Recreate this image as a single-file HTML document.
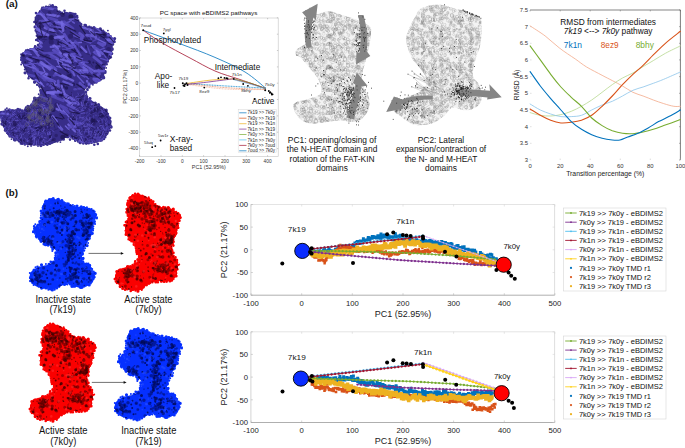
<!DOCTYPE html>
<html><head><meta charset="utf-8"><title>Figure</title>
<style>html,body{margin:0;padding:0;background:#fff;}body{width:685px;height:448px;overflow:hidden;}svg{display:block;}</style>
</head><body>
<svg width="685" height="448" viewBox="0 0 685 448" font-family='"Liberation Sans", sans-serif'>
<rect width="685" height="448" fill="#fff"/>
<text x="5.80" y="6.80" font-size="9.9" fill="#111" font-weight="bold">(a)</text>
<defs><clipPath id="cpP"><path d="M35.0,18.0 C35.8,15.2 38.2,11.9 40.0,10.0 C41.8,8.1 43.7,7.3 45.5,6.6 C47.3,5.9 49.4,5.8 51.0,5.8 C52.6,5.8 53.8,5.7 55.0,6.6 C56.2,7.5 56.9,9.9 58.0,11.0 C59.1,12.1 60.2,13.0 61.5,13.3 C62.8,13.6 64.4,12.8 66.0,12.7 C67.6,12.6 69.5,12.4 71.0,12.7 C72.5,13.0 73.7,13.1 75.0,14.5 C76.3,15.9 77.6,19.0 78.7,20.9 C79.8,22.8 79.9,24.7 81.6,25.6 C83.3,26.6 86.2,26.1 89.0,26.6 C91.8,27.1 95.4,27.3 98.7,28.5 C102.0,29.7 106.5,32.1 109.0,34.0 C111.5,35.9 113.2,37.9 113.9,39.8 C114.6,41.7 113.4,42.6 112.9,45.5 C112.4,48.4 112.2,53.8 111.0,57.0 C109.8,60.2 107.2,61.3 106.0,64.5 C104.8,67.7 104.9,73.2 104.0,76.0 C103.1,78.8 103.0,79.4 100.5,81.0 C98.0,82.6 91.7,84.0 89.0,85.7 C86.3,87.4 84.8,89.5 84.5,91.4 C84.2,93.3 85.6,95.1 87.3,97.0 C89.0,98.9 91.8,100.6 94.9,102.8 C98.0,105.0 103.5,107.5 106.0,110.0 C108.5,112.5 109.2,115.4 110.0,118.0 C110.8,120.6 111.7,122.3 111.0,125.5 C110.3,128.7 108.4,134.2 106.0,137.0 C103.6,139.8 100.2,141.5 96.8,142.6 C93.4,143.7 88.9,143.9 85.4,143.6 C81.9,143.3 78.8,141.8 75.9,140.7 C73.1,139.6 70.8,137.0 68.3,137.0 C65.8,137.0 63.9,139.4 60.7,140.7 C57.5,141.9 53.1,143.7 49.3,144.5 C45.5,145.3 42.1,145.5 38.0,145.5 C33.9,145.5 28.2,145.3 24.7,144.5 C21.2,143.7 19.9,142.3 17.0,140.7 C14.2,139.1 10.0,137.5 7.6,135.0 C5.2,132.5 4.1,128.7 2.8,125.5 C1.5,122.3 0.1,118.2 0.0,116.0 C-0.1,113.8 0.6,113.1 1.9,112.0 C3.2,110.9 5.1,109.7 7.6,109.4 C10.1,109.1 14.5,109.6 17.0,110.0 C19.5,110.4 20.9,112.6 22.8,112.0 C24.7,111.4 26.3,108.9 28.5,106.6 C30.7,104.3 33.8,99.9 36.0,98.0 C38.2,96.1 40.9,96.7 41.7,95.0 C42.5,93.3 42.1,90.1 40.8,87.6 C39.5,85.1 36.0,81.9 34.0,80.0 C31.9,78.1 30.4,78.6 28.5,76.0 C26.6,73.4 24.1,67.7 22.8,64.5 C21.5,61.3 20.9,58.9 20.9,57.0 C20.9,55.1 21.5,54.3 22.8,53.0 C24.1,51.7 25.7,50.5 28.5,49.3 C31.3,48.0 38.0,47.4 39.5,45.5 C41.0,43.6 38.2,41.1 37.5,38.0 C36.8,34.9 35.9,29.9 35.5,26.6 C35.1,23.3 34.2,20.8 35.0,18.0Z"/></clipPath></defs>
<path d="M35.0,18.0 C35.8,15.2 38.2,11.9 40.0,10.0 C41.8,8.1 43.7,7.3 45.5,6.6 C47.3,5.9 49.4,5.8 51.0,5.8 C52.6,5.8 53.8,5.7 55.0,6.6 C56.2,7.5 56.9,9.9 58.0,11.0 C59.1,12.1 60.2,13.0 61.5,13.3 C62.8,13.6 64.4,12.8 66.0,12.7 C67.6,12.6 69.5,12.4 71.0,12.7 C72.5,13.0 73.7,13.1 75.0,14.5 C76.3,15.9 77.6,19.0 78.7,20.9 C79.8,22.8 79.9,24.7 81.6,25.6 C83.3,26.6 86.2,26.1 89.0,26.6 C91.8,27.1 95.4,27.3 98.7,28.5 C102.0,29.7 106.5,32.1 109.0,34.0 C111.5,35.9 113.2,37.9 113.9,39.8 C114.6,41.7 113.4,42.6 112.9,45.5 C112.4,48.4 112.2,53.8 111.0,57.0 C109.8,60.2 107.2,61.3 106.0,64.5 C104.8,67.7 104.9,73.2 104.0,76.0 C103.1,78.8 103.0,79.4 100.5,81.0 C98.0,82.6 91.7,84.0 89.0,85.7 C86.3,87.4 84.8,89.5 84.5,91.4 C84.2,93.3 85.6,95.1 87.3,97.0 C89.0,98.9 91.8,100.6 94.9,102.8 C98.0,105.0 103.5,107.5 106.0,110.0 C108.5,112.5 109.2,115.4 110.0,118.0 C110.8,120.6 111.7,122.3 111.0,125.5 C110.3,128.7 108.4,134.2 106.0,137.0 C103.6,139.8 100.2,141.5 96.8,142.6 C93.4,143.7 88.9,143.9 85.4,143.6 C81.9,143.3 78.8,141.8 75.9,140.7 C73.1,139.6 70.8,137.0 68.3,137.0 C65.8,137.0 63.9,139.4 60.7,140.7 C57.5,141.9 53.1,143.7 49.3,144.5 C45.5,145.3 42.1,145.5 38.0,145.5 C33.9,145.5 28.2,145.3 24.7,144.5 C21.2,143.7 19.9,142.3 17.0,140.7 C14.2,139.1 10.0,137.5 7.6,135.0 C5.2,132.5 4.1,128.7 2.8,125.5 C1.5,122.3 0.1,118.2 0.0,116.0 C-0.1,113.8 0.6,113.1 1.9,112.0 C3.2,110.9 5.1,109.7 7.6,109.4 C10.1,109.1 14.5,109.6 17.0,110.0 C19.5,110.4 20.9,112.6 22.8,112.0 C24.7,111.4 26.3,108.9 28.5,106.6 C30.7,104.3 33.8,99.9 36.0,98.0 C38.2,96.1 40.9,96.7 41.7,95.0 C42.5,93.3 42.1,90.1 40.8,87.6 C39.5,85.1 36.0,81.9 34.0,80.0 C31.9,78.1 30.4,78.6 28.5,76.0 C26.6,73.4 24.1,67.7 22.8,64.5 C21.5,61.3 20.9,58.9 20.9,57.0 C20.9,55.1 21.5,54.3 22.8,53.0 C24.1,51.7 25.7,50.5 28.5,49.3 C31.3,48.0 38.0,47.4 39.5,45.5 C41.0,43.6 38.2,41.1 37.5,38.0 C36.8,34.9 35.9,29.9 35.5,26.6 C35.1,23.3 34.2,20.8 35.0,18.0Z" fill="#372d88"/>
<path fill="none" stroke="#3a3090" stroke-width="1.90" stroke-linecap="round" d="M37.1 16.4h0M39.6 12.2h0M40.1 11.0h0M41.6 8.8h0M42.0 7.5h0M43.4 7.1h0M47.0 7.1h0M50.5 6.6h0M50.3 6.5h0M51.0 5.6h0M58.6 11.6h0M60.1 12.1h0M64.6 12.7h0M71.1 13.3h0M78.5 20.3h0M77.6 21.0h0M80.5 23.5h0M91.1 27.2h0M94.4 27.6h0M107.9 30.6h0M110.8 35.9h0M113.7 40.6h0M112.5 49.9h0M110.0 58.0h0M107.8 58.9h0M106.2 67.9h0M100.3 80.2h0M101.2 79.0h0M94.7 82.9h0M92.9 84.7h0M87.7 90.2h0M83.7 93.5h0M86.4 94.3h0M89.8 98.0h0M99.4 105.5h0M103.6 109.0h0M108.2 113.8h0M108.8 117.4h0M109.2 120.3h0M107.5 133.8h0M105.5 137.4h0M100.2 140.8h0M75.4 140.9h0M72.5 138.8h0M68.2 137.4h0M60.4 142.1h0M57.6 141.8h0M54.0 141.5h0M51.7 143.2h0M38.0 146.0h0M31.1 145.9h0M27.8 146.2h0M11.5 139.1h0M7.6 133.2h0M1.4 120.8h0M3.1 112.8h0M3.1 111.5h0M4.4 111.8h0M5.3 109.5h0M6.9 108.3h0M21.8 110.6h0M24.4 110.8h0M34.0 99.9h0M38.7 94.3h0M40.7 92.3h0M39.9 87.7h0M28.8 76.2h0M24.7 69.6h0M21.2 64.5h0M22.3 54.8h0M22.9 53.6h0M27.4 49.7h0M28.5 49.9h0M39.8 43.3h0M36.2 24.9h0"/>
<path fill="none" stroke="#3a3090" stroke-width="2.60" stroke-linecap="round" d="M35.8 17.7h0M36.0 13.1h0M46.0 6.9h0M52.6 5.4h0M52.2 6.8h0M54.6 8.0h0M54.9 8.5h0M59.4 12.3h0M61.1 13.9h0M61.9 12.7h0M64.5 10.7h0M67.1 13.5h0M69.9 13.0h0M73.8 14.0h0M75.4 14.0h0M77.1 16.0h0M77.3 17.6h0M79.3 22.5h0M84.6 25.0h0M86.4 26.9h0M89.3 26.7h0M103.1 30.7h0M108.3 34.1h0M110.2 37.1h0M111.4 43.9h0M113.0 44.5h0M110.9 57.2h0M107.7 61.4h0M106.7 64.3h0M105.3 71.3h0M96.3 82.5h0M89.2 85.3h0M87.3 89.4h0M85.8 96.6h0M90.3 98.6h0M109.8 123.9h0M110.4 125.5h0M110.0 130.5h0M97.8 143.9h0M94.3 144.8h0M91.5 142.8h0M86.2 143.6h0M83.3 143.5h0M78.1 141.5h0M75.2 140.6h0M70.0 139.6h0M67.1 137.0h0M63.7 139.4h0M49.9 143.8h0M47.3 144.7h0M43.5 144.8h0M34.0 144.5h0M24.9 144.5h0M20.9 143.5h0M15.4 140.2h0M9.1 134.8h0M5.0 130.4h0M2.8 117.9h0M0.6 115.5h0M0.3 114.6h0M13.1 110.7h0M26.0 107.5h0M31.8 104.5h0M37.6 98.6h0M40.5 95.5h0M37.2 84.7h0M34.4 82.2h0M33.5 79.1h0M28.5 78.2h0M25.2 66.6h0M22.4 62.6h0M21.5 60.0h0M21.4 57.5h0M21.4 54.5h0M23.5 53.3h0M26.0 50.6h0M35.1 46.4h0M36.2 40.0h0M36.9 35.8h0M34.4 22.0h0M36.0 20.1h0"/>
<path fill="none" stroke="#3a3090" stroke-width="3.30" stroke-linecap="round" d="M47.7 7.6h0M55.8 7.4h0M56.2 10.2h0M59.2 12.0h0M66.1 13.4h0M67.4 14.3h0M72.0 13.9h0M73.9 14.5h0M79.4 24.0h0M80.9 24.5h0M85.5 25.3h0M93.9 27.6h0M100.3 28.8h0M100.5 30.7h0M114.6 38.6h0M113.1 40.7h0M114.2 41.7h0M112.2 48.9h0M111.7 53.6h0M105.0 72.4h0M103.4 77.0h0M103.7 77.8h0M102.3 77.6h0M89.0 87.0h0M85.6 92.2h0M86.7 96.7h0M91.4 102.2h0M95.2 103.1h0M98.5 104.7h0M106.2 110.2h0M106.0 111.9h0M109.8 118.1h0M110.1 121.4h0M111.1 127.0h0M103.7 138.7h0M101.3 140.2h0M88.5 142.9h0M80.2 142.7h0M61.5 139.2h0M40.9 145.6h0M22.3 143.4h0M19.3 140.9h0M14.5 139.8h0M9.9 136.0h0M4.9 126.5h0M3.9 125.3h0M1.9 124.0h0M-0.1 116.2h0M1.1 112.5h0M9.4 110.0h0M15.6 111.0h0M17.9 109.3h0M18.2 109.6h0M19.9 110.0h0M22.3 110.9h0M25.4 109.6h0M27.9 106.5h0M33.8 101.6h0M34.6 98.2h0M41.6 95.2h0M41.3 92.9h0M40.7 90.4h0M39.6 86.0h0M34.7 82.1h0M32.1 77.8h0M25.1 72.8h0M21.8 59.4h0M25.8 52.9h0M30.7 49.6h0M35.4 47.4h0M38.3 45.1h0M38.5 40.6h0M38.1 38.6h0M37.1 32.2h0M36.1 30.4h0M35.1 26.9h0"/>
<g clip-path="url(#cpP)">
<path fill="none" stroke="#1c1550" stroke-width="2.00" stroke-linecap="round" opacity="0.45" d="M15.9 32.7h0M10.3 53.6h0M10.4 39.2h0M29.4 85.4h0M101.1 110.5h0M47.0 63.6h0M59.7 58.4h0M38.5 14.5h0M31.6 141.0h0M14.3 76.1h0M71.7 126.3h0M24.6 43.7h0M28.3 61.6h0M50.8 139.1h0M96.7 127.7h0M2.5 10.3h0M80.8 130.9h0M53.9 87.8h0M0.0 60.5h0M105.6 121.1h0M97.4 141.6h0M28.3 21.0h0M17.6 78.8h0M77.7 137.3h0M82.2 96.2h0M87.1 69.7h0M62.8 11.3h0M89.1 38.3h0M104.8 96.0h0M34.6 23.7h0M28.7 94.7h0M79.6 21.5h0M8.0 79.1h0M66.4 60.0h0M25.5 89.8h0M1.2 47.9h0M52.5 139.8h0M73.4 129.3h0M54.1 38.6h0M28.1 140.0h0M80.3 48.7h0M2.5 75.4h0M76.8 64.5h0M29.3 99.0h0M105.4 37.5h0M3.9 53.0h0M47.9 101.2h0M22.6 117.1h0M84.2 76.3h0M23.4 141.3h0"/>
<path fill="none" stroke="#1c1550" stroke-width="3.50" stroke-linecap="round" opacity="0.45" d="M35.5 120.4h0M26.3 36.7h0M86.6 47.0h0M108.4 75.1h0M21.3 37.0h0M47.5 98.7h0M108.1 26.2h0M44.8 35.5h0M111.0 25.6h0M5.9 14.2h0M44.8 131.3h0M100.6 108.2h0M113.6 135.9h0M37.5 31.7h0M106.6 110.1h0M3.6 98.6h0M43.1 58.0h0M37.8 29.4h0M0.3 44.9h0M40.0 139.3h0M14.1 140.5h0M23.6 55.6h0M93.6 120.6h0M49.3 12.7h0M53.9 57.9h0M104.7 32.8h0M41.5 131.1h0M3.4 63.2h0M92.5 112.9h0M4.6 10.7h0M7.1 134.3h0M29.3 110.2h0M102.3 53.2h0M31.0 139.6h0M70.3 42.4h0M81.6 50.0h0M31.4 6.3h0M86.1 133.8h0M72.2 137.6h0M2.8 38.5h0M54.1 139.5h0M108.7 59.8h0M28.6 65.9h0M56.2 135.5h0M20.8 117.9h0M84.1 120.7h0M88.0 90.6h0M37.3 50.4h0M41.2 115.1h0M9.0 33.4h0"/>
<path fill="none" stroke="#1c1550" stroke-width="5.00" stroke-linecap="round" opacity="0.45" d="M85.8 40.3h0M7.4 10.5h0M62.9 51.3h0M111.7 129.2h0M112.5 42.8h0M9.6 19.3h0M56.8 105.0h0M50.9 38.5h0M47.5 92.5h0M76.8 110.3h0M96.5 98.6h0M13.8 123.3h0M33.5 85.0h0M42.5 108.9h0M22.7 40.4h0M27.9 27.2h0M100.7 86.6h0M37.2 61.1h0M113.0 76.7h0M26.4 118.7h0M74.4 144.2h0M11.7 72.1h0M93.3 123.2h0M104.1 11.4h0M33.4 22.5h0M21.6 141.7h0M66.4 135.7h0M42.4 126.8h0M51.2 42.1h0M88.6 137.9h0M12.0 89.1h0M70.6 36.2h0M42.0 25.5h0M23.2 41.4h0M68.3 96.8h0M23.2 7.4h0M37.3 100.6h0M21.1 49.4h0M23.2 116.9h0M62.4 14.6h0M11.5 61.0h0M62.7 95.1h0M10.4 28.7h0M79.2 63.0h0M32.3 48.8h0M108.6 49.4h0M64.5 55.7h0M47.4 126.5h0M113.5 56.6h0M22.5 107.5h0"/>
<path fill="none" stroke="#1c1550" stroke-width="2.00" stroke-linecap="round" opacity="0.75" d="M23.2 6.6h0M102.7 65.0h0M93.4 62.5h0M100.6 70.2h0M18.5 7.9h0M62.8 95.3h0M103.6 18.2h0M70.9 57.6h0M57.5 26.2h0M32.3 78.6h0M105.4 21.0h0M55.9 118.2h0M110.1 33.4h0M14.4 137.5h0M111.1 73.2h0M6.1 135.2h0M44.2 132.1h0M70.7 121.0h0M18.3 115.6h0M25.3 62.3h0M96.4 121.6h0M20.8 36.3h0M45.5 78.1h0M43.7 23.0h0M28.1 107.1h0M102.2 11.5h0M64.1 111.6h0M4.3 122.9h0M13.4 89.6h0M62.7 93.4h0M34.9 64.5h0M66.4 65.3h0M75.0 68.2h0M49.9 9.1h0M70.5 74.2h0M26.8 112.5h0M88.8 69.8h0M20.5 71.9h0M12.2 23.7h0M49.0 18.6h0M50.3 77.1h0M4.6 94.7h0M9.4 108.3h0M88.6 77.3h0M6.2 76.2h0M43.0 138.6h0M15.5 125.5h0M113.5 108.1h0M92.8 32.9h0M111.8 74.5h0"/>
<path fill="none" stroke="#1c1550" stroke-width="3.50" stroke-linecap="round" opacity="0.75" d="M109.0 133.8h0M18.8 115.9h0M106.0 15.0h0M40.0 111.4h0M18.1 131.0h0M31.3 119.7h0M16.4 76.0h0M104.8 34.9h0M29.9 76.5h0M36.3 10.9h0M20.7 28.3h0M106.7 100.8h0M102.0 29.4h0M89.4 21.9h0M60.4 94.7h0M41.0 127.8h0M63.2 86.8h0M100.5 20.4h0M113.1 93.8h0M44.9 117.2h0M30.2 144.2h0M65.8 56.1h0M87.1 67.6h0M20.1 109.7h0M5.5 120.3h0M28.9 95.1h0M112.1 87.6h0M75.6 49.5h0M0.2 10.5h0M17.0 91.9h0M49.2 77.4h0M102.0 24.2h0M25.9 97.0h0M2.5 6.2h0M40.4 20.7h0M40.7 37.1h0M66.5 88.1h0M23.3 93.0h0M54.1 24.6h0M106.7 39.8h0M17.0 19.2h0M72.7 127.5h0M89.1 62.0h0M30.1 7.4h0M73.5 84.4h0M39.9 96.0h0M50.5 136.7h0M83.5 40.5h0M102.9 11.9h0M60.5 62.5h0"/>
<path fill="none" stroke="#1c1550" stroke-width="5.00" stroke-linecap="round" opacity="0.75" d="M27.1 14.0h0M88.7 7.5h0M62.8 137.2h0M16.2 33.7h0M69.3 76.6h0M73.1 119.4h0M19.9 49.0h0M34.2 12.6h0M101.3 115.2h0M81.5 6.7h0M96.2 109.9h0M53.0 109.4h0M51.5 37.4h0M12.0 38.3h0M4.4 52.7h0M85.4 102.9h0M96.3 105.2h0M30.3 83.2h0M49.7 115.9h0M59.6 42.9h0M73.1 140.6h0M24.7 128.7h0M1.7 42.2h0M26.9 109.7h0M107.6 110.0h0M37.2 128.8h0M37.4 39.2h0M103.4 93.9h0M78.9 98.7h0M111.5 71.4h0M95.6 103.3h0M97.7 66.9h0M82.5 85.5h0M35.1 35.4h0M70.9 16.7h0M103.7 26.0h0M3.1 20.7h0M105.8 54.0h0M16.2 9.8h0M4.7 102.6h0M72.2 103.2h0M83.9 15.0h0M67.3 56.6h0M93.1 120.3h0M101.5 15.0h0M98.8 133.5h0M107.6 20.8h0M23.4 21.4h0M3.9 124.2h0M92.5 94.4h0"/>
<path fill="none" stroke="#6a5ed6" stroke-width="1.4" stroke-linecap="round" opacity="0.85" d="M29.2,19.8L32.2,24.7M32.9,65.0L35.7,68.2M25.5,45.3L31.8,48.0M109.6,76.2L121.2,77.7M68.5,10.1L79.4,11.6M59.0,36.1L67.9,43.7M15.3,6.0L25.2,14.0M-4.5,74.4L-0.7,81.9M89.7,31.6L101.1,33.1M28.7,35.8L37.8,40.7M54.2,21.2L64.5,25.3M69.7,55.5L76.8,58.2M-2.0,34.6L5.8,38.1M22.8,70.2L25.0,78.7M71.8,54.5L82.6,58.8M15.2,67.1L23.6,74.0M63.9,23.4L69.8,21.7M17.8,47.9L25.8,54.4M95.3,27.4L100.8,31.6M57.1,28.3L62.3,32.9M81.6,20.0L87.5,24.6M82.2,66.6L87.4,69.1M70.9,20.7L74.4,23.1M77.4,75.7L83.8,83.0M50.1,25.6L60.6,27.5M103.0,65.9L111.8,68.2"/>
<path fill="none" stroke="#6a5ed6" stroke-width="2.2" stroke-linecap="round" opacity="0.85" d="M84.1,64.6L94.1,71.1M71.3,69.2L74.4,75.3M69.7,19.5L80.1,18.5M69.9,40.7L75.2,46.4M49.1,92.6L61.5,92.7M16.8,97.2L24.4,105.1M41.2,74.2L48.6,79.2M106.8,78.3L111.2,80.6M63.3,81.4L72.3,85.1M93.6,78.7L101.3,79.0M107.7,35.1L118.0,38.7M37.3,13.7L43.7,14.6M42.5,7.7L52.7,9.1M36.9,42.8L41.5,46.7M57.7,36.4L62.5,39.8M50.8,84.3L56.8,85.1M109.6,55.1L120.9,55.5M50.7,46.9L59.6,46.4M26.8,58.3L31.8,61.0M-4.7,106.6L-0.6,111.7M24.1,48.0L33.8,48.8M73.4,56.4L84.0,62.8M96.6,13.8L103.6,22.3M70.3,7.9L74.3,6.9M24.7,20.0L33.4,26.7M36.2,27.1L45.4,35.0"/>
<path fill="none" stroke="#6a5ed6" stroke-width="2.8" stroke-linecap="round" opacity="0.85" d="M89.1,29.3L96.0,37.9M18.5,102.6L27.1,104.0M83.2,67.1L87.4,71.9M22.8,25.3L31.2,26.6M2.0,71.1L8.1,76.9M59.2,126.3L61.9,129.4M95.0,71.2L106.5,70.8M39.6,64.3L51.8,67.7M4.0,94.8L12.6,98.7M55.7,73.5L66.7,78.4M-1.0,106.1L10.4,109.0M38.5,72.1L47.0,74.2M86.6,35.2L95.5,36.3M93.3,46.7L102.4,53.6M43.0,76.2L54.6,81.5M34.3,50.1L38.3,55.5M64.7,94.5L73.9,99.6M100.3,82.0L104.4,83.6M30.7,6.7L37.3,13.5M103.2,91.3L105.8,100.4M69.5,103.1L75.4,103.2M74.3,69.8L85.0,71.5M7.1,31.1L12.2,42.2M73.0,57.3L82.1,64.2M88.5,84.3L95.5,87.9M32.9,66.0L39.6,73.1"/>
<path fill="none" stroke="#5f53c9" stroke-width="1.4" stroke-linecap="round" opacity="0.85" d="M106.0,13.4L110.7,15.4M91.3,86.2L102.4,91.4M48.1,7.8L60.5,9.0M111.6,72.2L116.9,77.9M7.1,95.8L10.7,98.0M-4.4,101.3L-0.5,104.6M109.9,18.1L113.3,20.6M80.5,39.6L90.5,43.2M17.3,12.8L27.1,19.2M81.8,17.6L91.4,16.5M79.3,70.1L88.5,78.8M80.3,7.4L84.1,8.9M4.5,49.3L15.0,54.5M52.8,14.2L59.9,16.0M63.4,67.1L73.7,71.4M38.2,95.9L47.4,98.7M44.7,59.7L53.2,66.8M62.4,46.6L66.6,44.8M93.4,52.2L104.2,48.3M66.5,48.9L74.2,47.6M100.6,58.4L112.2,61.8M91.0,45.4L95.0,45.4M26.3,64.8L38.2,63.4M63.0,44.1L74.6,45.5M103.6,54.3L110.5,63.1M105.8,38.5L112.8,44.9"/>
<path fill="none" stroke="#5f53c9" stroke-width="2.2" stroke-linecap="round" opacity="0.85" d="M75.6,70.8L84.6,76.6M89.1,70.0L92.6,73.4M22.7,86.8L26.4,94.6M51.7,88.1L57.4,88.2M17.9,31.0L26.3,34.4M42.9,78.1L48.1,78.8M39.5,20.6L44.9,20.8M66.0,54.0L74.7,53.9M-2.6,10.5L0.0,18.5M62.4,42.3L72.4,47.1M109.6,41.3L113.7,45.1M4.9,12.9L12.6,17.6M98.5,69.8L99.8,74.2M66.1,61.3L71.1,62.4M109.1,41.7L121.7,41.5M74.6,60.7L82.4,62.9M112.9,36.8L118.0,41.8M94.5,12.4L103.9,18.3M112.2,13.6L120.1,23.2M75.5,47.5L80.5,55.4M85.1,20.5L89.9,22.3M52.2,29.4L56.7,33.6M12.0,100.5L14.6,105.6M-0.7,135.4L4.4,138.5M100.7,25.3L112.4,29.3M48.8,53.3L58.5,59.2"/>
<path fill="none" stroke="#5f53c9" stroke-width="2.8" stroke-linecap="round" opacity="0.85" d="M51.8,93.6L55.3,96.3M79.9,83.1L83.9,86.5M98.5,43.0L104.7,44.9M94.8,52.5L99.4,55.7M53.4,50.2L63.6,57.9M74.5,35.3L82.2,38.4M29.0,41.8L39.7,49.1M6.6,46.2L14.7,55.2M-3.1,118.5L0.6,120.0M94.0,79.4L98.4,82.9M21.0,85.6L29.7,92.2M79.6,33.3L83.3,36.2M5.4,90.8L11.2,91.9M67.8,104.7L77.8,110.1M64.3,34.1L68.1,40.8M80.8,13.5L89.2,21.1M97.8,74.7L99.8,82.7M98.7,43.0L103.5,46.1M93.9,57.1L101.2,63.0M-4.4,78.4L1.1,84.2M56.3,22.7L67.5,26.5M108.4,74.9L116.9,73.2M58.1,80.9L58.6,86.9M16.7,20.1L21.8,23.8M92.2,10.0L95.4,14.8M-2.9,89.5L3.3,96.3"/>
<path fill="none" stroke="#7468e0" stroke-width="1.4" stroke-linecap="round" opacity="0.85" d="M57.2,104.0L61.8,113.3M0.4,23.0L5.2,29.9M54.5,44.9L58.3,48.5M65.4,126.1L69.2,129.8M63.1,110.1L71.3,119.5M41.2,64.5L46.4,74.9M57.5,61.1L60.6,67.4M23.6,52.6L31.3,54.6M95.8,13.3L106.8,7.6M24.6,64.8L33.6,68.4M38.3,80.0L43.9,86.4M-2.5,25.3L7.5,33.1M70.3,118.9L72.3,122.7M71.3,42.9L81.4,42.5M27.5,81.6L31.1,86.7M56.9,66.4L69.1,69.4M29.2,48.5L37.9,51.9M108.7,77.6L114.7,79.7M50.5,80.4L54.7,83.3M29.9,62.6L35.2,66.6M23.9,18.1L33.2,16.0M62.8,96.7L68.4,98.2M79.5,70.2L87.7,70.1M31.9,39.6L37.6,41.6M55.9,59.3L62.4,62.4M97.5,39.1L105.6,43.1"/>
<path fill="none" stroke="#7468e0" stroke-width="2.2" stroke-linecap="round" opacity="0.85" d="M53.4,45.6L61.0,53.5M13.9,15.1L24.4,20.4M47.3,14.5L57.8,16.3M8.0,37.3L17.2,45.9M82.8,27.4L92.4,30.4M68.3,124.5L76.3,132.7M56.6,109.0L64.0,112.7M103.8,23.6L115.4,21.7M-4.5,112.8L8.1,114.1M63.0,64.2L73.7,67.0M98.8,90.6L106.8,92.1M81.0,46.7L86.3,52.0M61.0,59.5L72.5,61.8M54.4,67.8L57.0,72.9M31.1,26.1L35.9,26.2M104.4,51.0L115.6,54.0M19.3,65.4L23.1,67.6M62.2,75.3L73.2,80.7M87.0,81.0L92.0,88.1M76.5,60.2L82.9,63.6M65.7,54.8L70.2,62.4M6.8,58.1L14.0,60.4M61.7,86.0L64.7,93.8M47.3,93.1L60.1,90.6M35.8,79.9L41.5,83.6M55.9,21.2L67.5,24.5"/>
<path fill="none" stroke="#7468e0" stroke-width="2.8" stroke-linecap="round" opacity="0.85" d="M45.0,27.6L53.0,30.8M17.4,31.3L23.1,39.1M66.7,55.1L69.0,58.9M31.5,102.3L35.1,104.1M64.7,99.1L71.9,104.5M26.6,96.2L32.0,103.1M113.6,86.1L118.7,87.8M85.3,20.7L89.4,23.4M15.3,78.8L23.7,86.2M2.4,7.5L13.3,7.7M37.1,29.5L47.9,35.0M64.2,54.5L70.6,59.5M40.9,13.4L48.9,23.2M47.3,92.4L53.4,93.5M96.6,49.8L99.9,55.6M66.6,139.9L75.1,140.5M107.9,39.7L113.9,39.8M52.6,116.5L56.5,121.3M15.6,55.9L19.8,61.0M61.8,21.8L63.0,30.6M40.8,62.1L49.8,69.2M36.8,40.0L41.6,43.1M28.7,38.9L32.3,45.0M6.0,43.5L15.4,50.1M10.2,67.7L13.8,71.8M55.0,37.6L63.1,36.7"/>
<path fill="none" stroke="#5348b8" stroke-width="1.4" stroke-linecap="round" opacity="0.85" d="M64.9,57.2L70.0,60.0M98.7,23.0L103.3,30.3M59.5,43.6L68.0,48.7M62.5,49.2L70.0,50.1M5.2,30.5L12.9,36.9M8.0,84.3L15.0,85.9M54.5,47.3L58.7,51.6M28.6,62.2L38.5,69.3M97.4,24.3L106.4,28.9M73.9,54.9L80.3,59.1M36.9,93.6L47.2,100.2M-0.2,11.4L4.1,14.7M18.6,48.1L24.8,50.8M70.9,30.9L80.7,37.1M62.8,105.9L71.8,110.6M36.5,5.9L43.7,14.9M87.3,45.8L90.6,54.7M0.6,40.0L4.5,43.1M89.1,35.2L91.5,39.3M77.6,60.8L88.2,62.5M93.5,45.1L95.8,52.6M69.7,69.1L72.2,72.8M78.0,65.6L82.8,63.7M85.6,11.9L95.0,16.1M90.8,42.3L99.4,37.8M59.7,40.7L64.1,41.6"/>
<path fill="none" stroke="#5348b8" stroke-width="2.2" stroke-linecap="round" opacity="0.85" d="M37.5,63.3L41.9,66.2M23.3,39.6L29.3,45.8M36.8,47.6L44.0,53.1M60.2,112.0L65.4,113.9M74.3,89.4L85.6,87.8M8.6,46.2L14.4,50.6M19.5,14.2L28.9,18.6M48.3,21.6L53.4,26.2M50.7,56.5L54.2,58.7M111.5,84.5L115.6,87.4M53.1,66.5L56.3,69.0M69.6,136.5L75.5,144.4M24.9,40.2L34.3,45.9M94.8,47.2L99.6,50.2M70.9,123.9L79.3,131.1M33.8,31.6L44.4,35.9M33.1,57.3L44.4,58.9M23.5,11.6L31.9,14.9M69.7,120.3L81.8,123.5M53.8,75.6L58.9,73.9M30.6,87.0L33.6,91.6M5.7,11.4L11.4,16.9M-4.7,123.3L0.2,129.4M28.7,98.2L37.3,97.8M45.1,53.1L56.5,52.7M102.5,28.8L107.6,33.1"/>
<path fill="none" stroke="#5348b8" stroke-width="2.8" stroke-linecap="round" opacity="0.85" d="M47.7,84.5L52.2,86.1M33.5,70.1L43.3,78.3M68.7,119.1L73.6,127.2M30.3,85.6L39.9,93.7M52.2,96.2L63.3,100.7M-1.7,32.2L5.2,39.6M48.2,17.7L57.0,20.4M44.5,79.8L53.5,81.4M42.1,21.8L48.2,28.4M25.1,19.1L28.2,27.3M24.9,74.2L33.8,76.2M8.4,77.5L17.0,81.1M4.5,62.8L12.2,71.7M60.5,105.6L68.9,112.4M80.8,20.1L85.1,23.5M109.1,84.5L120.0,86.1M1.8,38.9L10.3,42.9M20.3,47.7L29.2,53.0M68.9,127.6L80.2,124.1M9.6,57.9L20.1,59.6M0.2,90.2L7.3,98.8M75.3,41.4L79.4,45.4M64.1,21.7L72.9,28.7M17.0,83.2L22.8,86.5M76.7,59.0L81.7,66.3M107.8,7.7L111.0,14.1"/>
<path fill="none" stroke="#5a4fc0" stroke-width="0.7" stroke-linecap="round" d="M7.8,125.1L10.9,121.9M1.8,111.0L3.5,107.3M20.4,123.9L22.9,127.7M20.5,141.4L18.7,140.0M17.1,112.5L20.1,110.2M2.3,110.5L0.1,113.1M30.0,120.1L28.8,121.7M30.1,117.7L33.5,118.1M51.3,105.0L53.7,108.2M14.2,115.0L11.4,115.0M29.6,126.2L34.4,124.9M1.8,127.7L2.4,123.1M40.3,130.9L38.2,128.5M14.6,138.0L18.0,134.5M35.4,116.4L35.8,112.2M26.5,130.9L24.3,133.9M21.1,105.7L19.6,108.2M51.4,124.2L49.6,126.2M12.2,118.4L13.5,119.9M45.3,122.9L41.8,124.2M15.7,110.4L18.4,111.6M16.0,135.0L11.5,133.4M17.7,143.5L15.8,142.4M9.3,128.5L12.4,128.3M40.3,121.8L41.8,120.2M25.2,142.6L24.7,145.3M1.2,110.2L0.7,114.3M11.4,120.6L12.5,124.2M44.9,131.5L46.3,135.5M50.1,129.4L54.0,131.6M45.5,118.0L47.2,120.0M27.9,141.5L24.9,137.8M11.0,117.4L11.0,113.4M21.1,132.9L19.9,134.7M21.5,105.0L19.4,102.9M25.7,129.3L25.6,132.7M0.7,143.7L-3.9,141.8M2.9,130.0L2.4,127.1M4.9,109.9L7.5,113.2M4.7,138.8L1.5,140.5M30.6,127.4L28.5,124.2M17.2,135.6L17.0,139.7M39.7,137.1L38.1,141.2M50.8,122.9L50.2,126.5M48.9,108.8L52.4,109.0M34.1,137.1L30.9,140.8M11.9,136.3L13.6,137.4M7.0,105.6L3.3,105.6M9.5,144.3L7.8,146.2M9.2,135.5L11.4,134.3M1.5,137.2L1.7,142.2M25.9,131.0L23.5,134.6M23.9,117.2L25.8,115.9M38.1,105.9L36.2,103.3M44.9,105.6L42.0,104.4M47.8,144.6L45.9,142.7M13.1,114.5L10.6,115.6M10.6,136.4L8.8,134.1M51.7,112.5L49.5,111.5M44.9,141.2L44.4,145.5M42.8,115.4L41.1,118.4M46.3,110.1L44.8,106.7M23.6,128.5L25.5,126.7M45.9,118.9L46.8,114.3M9.5,141.0L12.4,140.9M1.3,107.9L3.3,107.6M47.4,109.6L47.2,107.4M8.8,133.0L11.3,134.7M47.8,134.5L51.4,131.2M1.7,113.3L2.8,109.4M2.0,125.2L2.3,128.5M5.5,103.9L8.4,103.7M45.7,108.3L43.3,108.5M22.3,110.9L21.3,108.6M38.4,125.0L40.7,127.0M25.8,143.4L24.3,145.6M50.3,141.9L50.0,139.1M9.2,114.6L11.1,115.5M26.5,121.0L23.6,119.9M0.6,133.3L-1.5,130.3M28.5,133.4L33.1,132.9M37.3,120.6L36.0,123.5M50.6,120.0L48.2,122.2M7.4,146.9L11.3,147.1M48.2,114.2L45.8,112.2M12.5,111.7L15.9,114.8M40.8,143.0L44.7,144.2M16.9,131.4L14.1,130.5M50.5,103.0L50.4,98.5M26.5,129.1L29.2,129.0M32.7,135.7L29.7,138.6M20.5,126.2L17.4,123.5M16.8,130.7L14.2,130.0M31.9,114.7L34.7,112.8M37.5,126.0L34.9,126.4M7.4,143.8L3.9,143.2M27.4,138.8L27.6,141.3M42.7,123.3L39.9,119.8M46.5,141.2L49.5,142.0M43.3,139.0L45.0,140.7M13.1,107.5L10.3,111.0M27.1,122.9L29.8,124.6M51.8,133.6L48.6,134.7M41.5,136.4L43.9,139.7M19.1,125.9L19.3,129.0M17.7,119.8L20.3,120.1M29.7,105.5L31.5,109.3M14.3,117.3L14.5,121.8M4.7,131.0L6.4,129.0M22.0,137.9L19.7,135.8M73.9,115.5L71.1,118.5M84.7,113.6L82.0,110.1M87.2,112.4L82.9,110.2M80.2,143.5L79.5,140.5M100.6,109.5L104.5,111.3M88.3,119.9L83.6,120.0M104.6,93.4L101.7,91.5M91.9,136.5L88.9,138.2M110.3,115.3L106.8,115.5M107.5,127.5L107.3,124.3M73.7,128.0L69.7,126.6M105.1,98.3L105.5,100.5M107.2,97.4L110.8,99.6M96.3,94.9L94.5,91.2M92.8,94.9L91.6,91.9M97.1,144.9L99.0,140.7M78.3,109.7L76.3,109.5M114.5,106.6L114.3,109.5M83.0,137.5L79.6,136.3M90.1,94.7L88.5,99.0M106.5,137.4L106.4,140.0M74.2,120.5L71.9,122.9M93.0,122.9L90.1,126.2M80.6,140.7L78.6,140.0M85.5,120.3L82.4,122.3M85.9,106.5L86.7,103.7M102.6,134.5L99.7,132.7M112.2,115.6L113.8,114.1M90.6,125.9L95.0,127.3M75.1,123.6L77.1,127.9M96.1,134.4L92.1,134.5M101.0,107.6L102.1,112.0M78.3,140.6L78.9,142.9M76.1,133.6L79.2,132.6M100.3,105.7L103.7,103.4M78.7,95.0L77.9,93.0M108.0,107.6L108.4,111.3M85.7,121.7L88.4,125.6M85.9,136.6L88.5,140.2M114.1,112.7L117.2,113.4M99.6,103.8L97.4,103.2M92.0,130.6L88.3,132.3M76.9,135.9L80.4,139.2M114.8,141.8L112.0,141.3M87.0,131.8L82.2,131.9M76.0,117.7L78.5,114.8M95.3,96.7L97.0,98.9M110.4,136.8L111.1,141.5M73.4,123.7L76.4,123.1M112.6,126.8L115.5,127.7M91.3,105.1L91.2,102.6M105.9,107.8L109.2,109.4M76.1,121.2L77.0,117.6M91.8,93.8L89.6,93.6M99.8,99.0L97.1,97.6M88.1,127.1L89.4,129.3M112.5,109.6L115.0,105.7M92.7,99.9L96.5,102.5M77.0,118.3L74.7,117.8M92.1,100.7L88.7,99.9M87.8,102.5L85.6,104.0M77.5,104.7L79.9,102.2M110.3,92.8L113.5,91.6M106.0,122.2L105.0,119.7M104.3,100.1L104.1,102.2M88.9,119.5L87.7,124.0M75.6,122.7L76.0,126.4M105.7,129.7L108.2,130.7M97.8,144.1L101.5,145.1M101.7,135.2L99.3,138.9M91.9,140.8L96.7,141.1M89.7,113.6L92.0,115.0M103.6,128.0L105.3,130.4M78.0,102.5L78.6,105.4M114.0,144.9L114.9,141.5M93.4,133.3L96.9,131.0M99.4,102.5L96.2,99.3M105.8,96.9L105.2,93.9M79.0,143.2L77.0,139.4M77.8,135.9L82.2,134.1M104.0,136.1L105.2,132.5M90.7,135.7L91.7,131.2M84.9,142.9L80.1,142.0M77.0,143.3L77.6,140.6M108.1,104.3L109.1,107.5M82.2,118.1L85.6,115.9M102.5,112.8L103.5,108.5M101.4,141.9L102.8,139.0M75.7,126.6L77.3,124.0M97.6,136.3L98.1,134.4M93.0,92.9L96.4,95.7M90.0,124.1L87.1,124.8M81.2,110.7L83.3,107.5M84.6,96.7L84.0,100.7M91.0,127.0L91.8,124.8M101.4,94.2L102.5,91.9M83.7,142.8L81.9,144.8M110.3,124.3L112.8,122.4M93.5,142.7L88.5,142.4M80.1,136.0L82.0,139.1M72.0,101.3L75.2,100.2M106.8,105.3L105.4,107.1M95.8,137.7L92.6,137.4M111.9,139.4L110.8,137.4M98.8,115.5L101.8,114.7M100.4,125.5L97.9,128.0M101.1,140.1L98.0,140.1M114.0,95.0L116.0,91.5M96.0,115.7L96.0,111.1M103.3,131.7L106.2,132.4"/>
<path fill="none" stroke="#6e62d6" stroke-width="0.6" stroke-linecap="round" d="M7.1,144.9L9.0,143.4M30.6,128.4L33.6,129.3M38.9,131.2L38.0,135.4M15.1,126.9L10.8,129.3M33.7,138.4L32.3,135.6M50.1,134.2L49.0,131.6M8.4,128.3L10.4,124.4M18.1,109.2L13.4,108.7M8.4,135.5L9.8,138.1M2.8,116.1L-0.9,119.4M50.0,111.2L48.3,115.7M10.3,117.1L8.1,118.0M13.5,120.3L9.9,123.6M13.9,112.0L16.7,110.2M43.5,131.0L44.1,128.1M7.9,136.3L4.3,137.0M34.9,136.1L34.4,139.2M47.7,126.3L46.8,130.1M13.5,136.9L17.8,138.1M29.5,118.6L32.1,117.5M12.7,106.1L8.6,104.8M35.3,121.2L36.1,119.0M16.0,131.4L19.8,130.6M36.0,137.1L32.2,140.0M38.6,118.0L35.2,120.8M18.2,111.2L20.7,108.6M27.1,132.5L29.1,131.1M17.6,105.9L14.6,107.7M44.3,132.4L41.5,130.9M29.8,115.0L32.3,111.4M43.6,109.7L41.6,105.9M26.0,142.5L29.4,140.0M42.7,131.5L44.4,129.9M36.6,134.0L34.5,132.1M3.5,129.5L4.8,127.0M11.1,112.9L14.4,115.1M50.7,138.3L48.1,141.5M3.8,139.9L2.8,141.7M32.7,109.1L32.4,111.3M23.2,127.4L23.9,125.4M43.0,107.9L43.6,111.7M17.7,117.6L15.3,116.5M41.3,112.2L43.6,108.4M27.9,104.3L28.3,102.3M26.2,121.7L29.8,123.2M37.7,128.7L34.8,130.8M30.6,113.0L34.0,109.3M41.8,145.3L39.4,149.7M3.7,124.0L6.0,126.5M35.5,134.2L32.6,135.0M9.9,120.7L9.4,123.3M38.3,125.7L35.9,126.7M36.6,111.7L36.2,115.3M36.5,145.8L36.4,141.0M47.8,134.8L47.4,132.6M10.7,103.6L13.4,100.4M32.8,114.6L31.2,116.6M32.9,146.6L32.1,148.6M9.1,118.6L12.7,116.0M23.7,107.5L25.6,109.0M40.4,123.7L45.2,123.5M41.3,124.0L42.4,121.8M5.7,127.8L3.0,127.7M13.1,103.9L16.6,101.7M49.2,146.1L45.3,147.8M20.0,138.7L21.3,136.7M0.7,112.4L-2.0,110.8M0.5,139.5L1.2,136.2M2.2,142.1L0.1,141.6M16.8,130.5L19.4,128.2M33.3,112.1L33.4,116.8M19.9,107.6L17.9,106.3M10.4,123.1L7.0,121.1M36.8,122.3L40.6,124.1M2.8,123.7L-0.5,126.1M37.1,113.6L34.7,110.3M24.5,109.2L27.7,107.2M3.3,113.5L5.9,113.3M20.4,137.7L22.1,134.2M38.6,104.7L42.7,107.4M41.7,104.7L44.3,105.5M48.4,112.7L46.1,108.4M33.2,143.4L33.0,145.9M0.9,136.3L4.9,139.3M36.9,111.2L37.8,108.9M26.6,107.7L27.7,103.1M47.7,103.1L49.8,100.2M42.7,125.1L39.9,122.5M41.6,106.4L45.0,107.6M15.1,120.5L19.4,120.7M1.3,139.5L2.5,136.4M6.4,131.6L7.2,134.8M5.7,146.0L2.8,145.1M4.9,135.1L7.6,131.4M5.3,119.2L3.9,123.2M7.7,129.7L12.0,129.1M0.4,106.3L3.4,109.0M31.1,125.9L28.0,126.8M31.8,131.5L35.4,129.4M41.4,143.2L43.6,139.6M1.6,133.0L3.5,130.3M45.7,110.9L48.8,109.7M36.7,114.1L35.8,117.0M16.9,107.2L12.2,108.9M34.0,144.0L34.4,139.5M51.7,136.1L51.3,138.8M21.4,103.9L22.0,108.5M47.9,117.5L48.4,113.2M46.3,138.0L44.0,137.5M42.9,116.8L40.8,114.6M95.1,143.2L97.0,146.2M99.9,120.5L102.9,119.3M111.3,128.6L113.5,128.1M81.1,107.2L82.8,106.1M83.2,129.9L85.7,129.8M90.8,128.4L89.3,124.5M104.4,105.2L104.3,107.3M101.7,103.1L101.4,108.0M99.7,123.3L97.6,120.2M101.9,108.1L103.9,109.0M72.6,111.2L74.1,113.0M93.2,143.4L92.2,140.8M105.1,101.4L107.4,103.1M89.6,128.5L85.6,130.0M76.1,141.4L73.6,145.2M73.3,135.9L74.0,140.4M106.5,127.5L106.2,129.5M80.2,140.0L82.3,143.3M97.2,127.0L98.3,129.2M76.2,144.1L73.2,146.7M96.5,103.8L98.4,104.6M108.7,98.9L111.7,98.2M103.1,99.3L103.7,96.7M87.7,119.7L89.8,121.5M106.2,107.1L103.1,110.0M81.6,102.3L82.2,105.4M87.7,126.0L83.2,126.8M74.2,127.2L75.6,124.9M73.3,115.2L75.8,117.5M102.6,97.0L105.1,99.3M79.5,104.2L77.3,105.1M74.9,111.1L70.2,112.1M95.9,95.8L96.6,100.0M96.2,138.1L100.7,137.1M76.7,142.0L74.0,141.6M79.3,137.8L79.9,140.0M83.4,141.0L79.3,142.0M75.2,116.0L74.1,118.4M100.5,111.1L104.1,114.5M92.7,101.5L96.7,101.8M94.1,93.3L90.0,94.1M95.1,104.4L91.3,104.4M100.0,99.7L101.6,95.1M103.8,137.4L100.7,140.9M79.8,104.0L76.0,101.3M75.5,103.5L78.8,104.2M78.0,102.2L78.0,98.4M112.4,113.3L111.5,111.5M112.8,104.4L109.3,104.9M112.8,118.1L116.6,117.9M81.3,136.2L82.8,141.0M91.6,104.0L94.5,103.3M89.5,110.2L88.5,108.4M88.1,100.6L89.0,98.8M98.1,105.7L94.6,106.7M102.6,99.3L102.7,101.7M113.3,99.9L115.6,102.6M97.0,139.0L99.5,139.9M79.2,123.0L76.1,124.0M110.2,127.1L113.3,123.3M83.6,141.9L81.8,143.1M111.3,97.5L114.2,97.8M84.4,143.2L86.7,140.9M94.8,137.0L96.2,133.3M94.1,98.2L94.2,102.2M97.2,134.5L101.1,131.6M80.3,96.0L83.3,93.8M79.8,128.7L79.7,131.4M87.7,119.8L86.8,117.8M103.9,125.1L99.9,125.8M106.4,92.5L102.4,93.1M102.5,126.3L104.6,130.7M105.8,104.3L101.4,106.4M80.9,113.7L85.5,112.6M82.0,131.0L79.5,134.0M105.0,98.8L105.4,101.4M83.4,93.9L85.6,96.3M90.1,96.1L85.9,93.7M96.8,110.9L95.9,107.7M79.5,117.5L83.5,118.0M78.9,111.6L83.1,110.6M107.9,126.0L105.2,123.0M113.6,102.4L113.8,99.5M83.0,135.5L79.3,132.8M109.6,123.2L110.3,125.1M95.0,130.5L94.7,132.6M72.2,101.2L71.5,99.3M81.9,106.1L80.7,101.2M72.8,98.1L77.3,96.1M78.4,109.8L75.5,109.4M89.9,117.4L89.8,119.5M75.6,100.6L78.9,102.7M102.0,105.9L103.0,101.9M86.7,118.1L88.5,122.5M96.1,94.7L98.4,98.1M88.6,130.0L89.1,134.4M106.5,97.0L104.3,95.7M102.4,134.6L103.1,132.0M76.0,127.2L73.8,126.2M80.3,122.9L83.3,125.3M82.4,105.7L79.2,107.4M103.2,93.6L102.7,91.0M84.5,125.9L83.1,122.3M110.8,102.8L109.3,106.5M83.2,100.3L83.9,104.6M107.6,130.0L111.8,128.8M85.3,108.7L84.9,106.6M98.2,96.7L101.6,97.8M78.5,141.4L80.9,139.0M80.5,98.3L76.9,98.2"/>
<path fill="none" stroke="#231a5a" stroke-width="0.6" stroke-linecap="round" d="M18.9,134.5L14.6,133.7M5.5,106.1L2.9,108.3M13.1,132.4L13.7,135.3M24.8,134.3L25.2,131.3M23.2,143.8L26.8,142.3M5.5,123.1L3.6,120.9M1.9,146.2L4.0,144.9M24.2,130.3L23.5,132.3M39.0,136.9L37.0,137.8M20.5,107.1L22.6,106.6M15.0,136.8L16.5,138.5M3.7,110.2L-0.7,109.3M8.8,110.6L9.1,107.4M17.6,108.4L17.8,113.3M6.1,114.4L5.8,109.8M47.0,123.8L50.7,122.8M15.0,123.5L14.1,119.4M6.7,111.5L9.0,110.9M42.3,117.9L42.3,120.7M24.4,146.6L27.1,150.3M16.7,110.6L16.6,107.6M9.8,121.4L11.7,117.3M29.9,103.5L30.2,99.7M46.8,144.9L44.7,148.9M42.6,114.7L40.5,117.0M18.3,119.6L20.4,121.4M47.3,121.1L44.2,117.6M39.3,113.8L43.2,111.6M51.5,135.0L51.6,130.6M13.2,131.9L9.9,134.9M6.9,126.7L4.6,130.5M18.0,140.1L20.6,136.3M7.2,144.3L7.1,140.3M33.9,105.1L36.4,102.5M23.7,117.9L24.6,113.7M45.2,112.4L43.8,114.7M5.2,117.4L9.6,118.1M11.8,106.1L15.7,107.9M10.3,123.3L6.7,125.9M49.6,116.6L46.5,113.2M24.5,142.6L24.2,139.7M45.4,128.2L48.4,130.5M43.1,125.8L39.9,126.1M45.8,132.3L46.6,135.3M18.9,145.2L18.1,142.9M47.5,104.5L44.8,102.8M37.3,121.9L40.3,123.8M42.7,137.7L41.0,139.8M38.7,138.3L39.6,142.8M51.6,122.1L48.6,124.9M48.3,111.9L47.4,114.7M38.1,111.2L34.7,110.2M34.8,109.3L39.6,108.0M29.2,138.0L31.1,142.3M28.7,136.4L30.8,134.1M48.0,112.1L51.5,112.6M46.7,142.6L50.1,141.6M48.5,127.6L50.9,130.7M41.8,121.6L39.6,120.0M14.4,121.5L11.0,121.2M4.8,103.2L2.6,106.8M38.9,113.4L38.8,117.0M9.1,129.5L11.3,128.1M30.4,134.7L30.4,130.6M36.9,115.0L39.5,110.9M2.7,144.5L0.6,145.3M3.6,138.1L2.6,135.9M23.9,131.1L26.9,131.1M39.9,113.8L40.6,116.1M21.3,130.2L20.5,132.5M11.4,106.7L12.4,109.5M26.2,111.1L22.9,111.5M50.6,124.4L53.8,123.2M10.3,129.0L11.8,131.0M3.8,133.9L7.0,133.2M18.4,121.7L16.0,125.0M20.4,109.7L22.8,106.9M0.3,140.4L-0.1,137.3M32.8,143.5L30.1,145.4M15.5,127.4L13.3,123.8M49.4,109.4L46.3,112.8M41.1,129.0L39.8,126.3M49.1,127.2L47.0,128.6M6.0,142.5L6.7,140.5M16.8,124.1L13.7,124.2M46.5,118.4L41.9,117.4M33.2,124.0L31.7,126.7M31.7,137.6L31.5,140.7M20.2,119.0L23.3,117.1M14.3,117.6L15.4,115.4M35.9,104.0L36.6,106.0M41.9,109.5L42.2,111.6M13.7,135.3L12.8,130.6M49.2,127.2L51.2,126.2M48.1,122.1L49.6,126.1M44.6,120.0L48.5,122.5M39.2,129.3L41.3,129.0M2.9,108.5L7.0,109.0M32.8,107.9L34.1,110.1M31.7,132.6L34.7,132.0M50.9,122.1L48.8,123.9M12.1,145.9L16.2,145.8M9.1,110.9L10.9,113.4M38.3,105.6L34.4,104.8M1.7,122.3L2.7,118.7M23.5,141.8L21.1,140.0M20.6,144.5L23.6,140.8M29.2,109.3L30.6,112.1M35.9,103.2L37.3,99.1M26.8,103.2L27.7,100.2M100.8,122.2L100.3,119.0M113.3,142.6L116.7,141.0M85.6,112.0L85.0,116.6M106.1,133.8L108.2,129.3M101.6,108.9L101.7,106.1M98.3,100.4L100.4,97.7M83.8,140.9L88.0,143.3M104.5,99.9L104.8,96.2M111.0,123.1L106.7,125.2M75.8,133.2L78.0,134.9M76.9,138.2L73.0,139.7M83.0,130.7L81.7,128.9M93.2,130.3L94.1,134.1M83.9,111.6L88.2,109.3M114.9,114.6L110.9,112.7M104.6,116.2L106.7,113.8M112.9,117.1L116.0,119.9M78.2,128.0L82.9,129.7M95.3,131.2L97.9,134.1M88.2,105.2L89.0,103.3M92.6,96.6L95.3,92.8M73.5,116.6L69.4,117.4M103.4,110.2L105.7,109.1M77.9,135.2L79.7,136.9M93.5,109.8L96.0,113.9M92.4,133.7L92.4,138.4M81.5,140.0L77.8,136.8M105.2,125.4L100.7,124.5M91.1,97.2L94.9,94.9M101.3,131.5L101.7,134.8M107.4,143.0L109.6,141.8M101.4,121.4L99.3,122.8M77.9,116.9L75.1,117.0M87.8,121.4L88.1,117.6M79.0,139.0L75.7,142.6M114.2,99.4L110.0,97.0M88.6,121.0L87.7,122.9M80.8,98.6L80.0,102.4M96.2,142.3L95.0,139.4M112.8,125.6L108.4,124.4M100.8,111.1L98.5,109.3M113.7,104.9L115.8,104.6M72.4,121.3L73.4,124.7M77.1,136.4L75.1,132.8M111.8,144.6L110.0,140.9M72.1,94.6L67.7,96.8M85.5,122.1L88.7,122.3M110.8,123.2L111.7,121.4M80.7,101.5L81.9,99.5M112.1,106.2L114.7,103.8M85.9,143.2L82.5,145.5M74.9,136.0L77.2,135.7M104.1,106.3L105.9,108.8M100.5,142.5L105.4,142.3M98.8,126.6L101.0,130.2M95.7,111.0L97.9,109.4M78.1,100.4L80.3,103.4M106.4,100.5L102.7,100.4M96.1,113.9L94.1,113.3M74.5,114.4L74.9,118.7M82.4,135.7L82.5,137.9M92.5,112.5L90.3,116.2M81.6,127.5L83.3,124.6M93.6,141.0L91.6,139.4M75.0,96.4L73.9,98.3M99.9,114.5L98.6,117.8M112.3,105.0L113.9,107.4M85.9,140.2L85.1,137.1M79.1,94.4L82.4,97.6M99.9,100.3L98.3,98.8M93.8,109.8L97.2,112.3M102.8,119.1L104.8,122.6M90.6,127.0L94.6,129.6M72.2,103.8L70.1,105.4M75.8,128.4L78.8,128.3M83.4,127.5L84.0,130.7M101.6,114.8L102.8,116.7M95.3,144.5L97.4,143.4M93.6,117.9L95.0,121.7M93.3,134.9L92.1,139.5M107.0,117.1L109.2,119.8M77.5,128.3L76.3,124.8M114.0,94.4L113.0,90.1M76.9,109.1L80.4,110.3M103.1,110.4L102.0,107.5M102.6,106.7L105.9,106.2M72.2,96.8L71.5,92.3M99.4,100.2L102.3,97.2M77.0,112.2L76.0,110.4M73.8,110.7L77.3,107.2M85.7,140.2L86.7,135.7M97.3,143.4L94.3,139.6M96.3,102.4L92.9,102.0M86.5,111.8L82.8,111.6M81.6,106.7L78.1,106.6M90.0,127.2L91.4,130.5M83.9,132.8L82.6,128.7M94.2,105.2L97.4,103.6M88.1,107.4L84.8,109.8M107.2,117.6L106.9,115.0M91.4,111.0L90.4,113.9M104.5,130.9L105.2,133.5M105.7,126.7L104.0,123.2M101.8,106.5L104.7,107.6M73.4,143.0L69.4,142.4M113.6,134.6L114.0,137.6M76.7,134.2L76.4,130.7M87.9,106.3L83.8,106.6M110.5,137.0L112.7,134.5M90.1,108.6L92.6,108.2"/>
<path fill="none" stroke="#4a3fa8" stroke-width="0.8" stroke-linecap="round" d="M8.2,115.4L12.2,113.2M17.2,140.5L19.8,138.4M10.0,137.0L8.3,138.7M46.9,122.3L43.9,124.6M13.3,103.9L10.9,105.9M0.6,119.4L0.8,116.4M35.3,130.5L36.1,132.4M35.1,129.9L34.4,132.4M44.5,143.0L44.9,146.7M29.9,117.2L32.8,117.8M33.5,129.5L31.1,129.3M11.1,116.7L8.4,118.2M46.9,108.1L49.6,107.9M44.5,113.7L41.9,112.1M2.0,138.0L3.0,135.4M40.4,124.1L42.5,123.9M19.8,113.0L16.7,110.0M43.8,127.1L40.5,130.0M5.4,114.4L5.5,111.1M51.6,107.0L49.1,107.6M0.1,107.1L2.7,108.8M22.5,125.3L21.5,129.3M26.8,146.2L28.6,149.3M25.7,119.4L27.4,117.3M45.6,118.7L43.7,122.0M29.3,115.5L33.5,118.0M19.2,108.0L17.2,105.0M17.0,117.5L18.7,115.0M21.7,145.1L19.6,147.6M8.4,132.1L6.7,129.3M21.1,113.2L21.9,110.0M43.3,119.5L43.0,117.4M11.4,145.3L9.8,141.6M25.8,123.8L26.7,126.2M33.6,133.5L33.3,137.5M7.1,130.0L8.7,133.1M16.3,127.2L18.6,129.8M32.1,108.9L30.6,112.7M28.4,130.1L29.1,126.5M11.6,122.5L13.3,119.2M39.2,119.0L34.5,120.6M42.8,131.7L45.8,134.1M1.7,144.1L5.8,143.4M13.9,140.2L15.9,144.2M27.1,103.7L29.6,101.6M43.2,133.3L38.7,132.4M10.6,142.5L9.5,144.3M17.5,105.9L21.0,107.6M6.3,110.0L5.5,112.8M47.8,142.8L51.2,139.2M22.9,138.0L22.0,142.7M42.2,135.2L42.5,137.5M48.1,127.3L44.6,124.3M7.5,133.8L3.2,134.7M23.7,111.7L26.4,110.9M38.7,139.6L38.8,143.7M20.6,112.9L21.6,117.6M19.1,125.4L17.1,125.4M39.2,135.8L41.4,133.6M10.9,118.3L10.5,114.3M21.1,126.1L23.8,130.0M24.5,125.3L25.1,122.8M37.6,118.5L38.4,116.4M14.4,131.0L11.2,131.3M30.1,112.6L28.2,113.3M41.5,114.2L43.3,111.0M31.3,130.5L34.3,133.6M15.2,141.0L16.1,137.0M42.4,122.2L40.1,117.9M9.8,107.4L6.8,109.3M7.8,112.7L9.9,110.4M7.7,111.1L5.5,109.8M24.7,126.7L21.4,128.0M43.5,103.7L45.9,102.6M2.0,136.8L-1.3,135.2M11.3,137.4L9.9,141.3M11.9,128.2L10.0,125.7M25.0,105.9L22.4,102.7M8.0,127.2L7.7,124.9M43.6,141.3L46.2,142.2M4.4,114.1L7.3,115.9M13.0,116.2L10.0,117.0M41.0,134.8L43.0,136.6M0.4,117.5L3.6,120.1M40.6,146.8L41.1,148.9M39.4,121.1L42.2,119.8M16.2,106.2L19.6,105.1M22.9,122.2L23.4,117.8M24.8,110.8L20.9,113.4M21.2,132.1L18.1,130.8M29.9,113.8L25.6,112.2M4.2,119.2L7.8,115.9M0.7,130.6L-2.4,127.2M24.4,108.8L23.2,112.7M37.9,112.0L35.4,108.9M34.2,104.0L31.4,105.0M31.1,117.8L33.8,120.7M14.9,137.8L13.7,141.2M42.0,108.1L41.8,105.9M48.7,104.1L48.2,101.0M9.3,120.4L6.1,120.4M6.4,126.0L4.8,130.7M19.9,122.2L20.6,127.0M16.7,131.4L18.3,128.7M39.3,115.3L40.9,116.6M23.3,141.5L24.3,144.6M39.7,115.2L41.7,118.1M22.1,144.3L24.3,142.7M29.2,121.3L32.4,122.0M47.6,116.3L44.1,114.2M74.7,141.0L77.0,142.8M102.8,93.0L101.1,94.7M92.4,92.8L93.9,95.0M75.5,96.8L76.7,100.1M77.9,135.5L75.5,136.9M82.4,136.5L86.4,137.7M76.2,142.1L73.0,144.1M109.1,97.3L112.9,98.9M97.3,130.2L96.7,133.7M80.0,115.2L79.3,118.8M84.9,106.6L83.4,104.8M106.5,118.3L106.8,120.6M93.9,118.7L93.3,115.6M89.7,139.3L89.0,144.2M110.4,144.5L113.0,143.5M107.0,124.4L108.4,129.2M99.9,134.9L97.8,134.1M109.1,101.3L108.9,105.1M80.3,116.5L79.8,114.3M100.4,97.5L96.5,98.1M101.6,94.3L103.3,98.8M88.8,114.5L85.9,117.4M103.8,126.5L100.8,128.6M94.2,102.0L98.8,100.4M105.4,144.6L101.0,145.6M82.3,131.4L81.3,126.7M107.8,138.6L107.4,142.9M92.4,108.6L89.5,111.8M108.2,136.8L107.0,134.6M78.7,122.1L79.4,125.0M76.4,100.2L75.9,97.6M108.5,109.4L110.2,107.1M83.5,112.9L86.8,113.2M88.3,92.7L90.4,90.3M72.0,142.9L72.4,145.6M73.0,97.3L72.1,93.6M93.7,105.0L92.6,109.8M88.0,144.4L89.8,142.9M108.5,93.1L107.4,88.8M101.9,121.1L102.9,118.9M95.2,106.1L93.1,107.6M102.5,122.4L103.2,118.6M97.8,140.9L99.2,137.4M86.0,141.2L84.4,142.8M86.3,129.4L89.9,127.8M100.5,141.7L101.1,138.4M91.9,132.3L90.9,134.4M98.6,134.9L98.7,138.9M110.4,98.8L112.7,101.4M86.4,142.3L89.7,142.3M106.1,125.5L108.4,129.8M79.5,96.0L77.5,96.6M92.7,113.8L95.8,112.9M108.5,133.3L106.2,131.9M85.1,118.0L82.0,120.5M93.7,109.1L89.8,106.0M80.7,109.8L83.0,110.0M74.4,114.4L76.5,110.9M113.5,136.4L110.3,134.4M72.5,112.3L72.3,116.2M74.8,120.7L72.3,123.2M89.4,97.4L88.9,93.0M97.7,98.1L94.0,95.4M114.4,132.2L118.9,133.5M100.6,106.7L104.5,104.5M110.5,105.1L107.7,103.7M84.7,132.3L82.5,130.3M95.4,141.2L91.0,139.3M96.3,144.6L99.7,145.2M95.7,130.5L99.5,129.8M92.6,125.6L88.5,124.8M112.7,92.7L110.7,96.9M74.6,133.9L78.4,134.6M106.4,104.6L104.4,106.4M102.3,120.0L100.0,118.2M97.2,142.6L98.1,137.8M82.6,119.3L80.3,121.3M106.5,101.3L102.5,99.7M112.2,93.0L111.8,96.4M112.3,100.6L114.0,98.0M95.6,141.2L98.3,142.4M78.7,99.1L77.3,103.0M97.0,98.5L98.1,95.1M78.2,135.5L79.3,133.1M112.4,134.9L112.7,136.9M109.3,135.8L112.8,138.3M105.2,125.6L107.7,121.3M86.1,136.2L88.7,134.8M101.4,128.3L103.5,125.3M83.9,105.3L81.5,104.7M109.0,139.1L109.2,143.2M100.9,98.5L101.7,94.2M85.2,97.2L84.3,101.4M92.1,135.2L93.3,137.2M87.0,138.6L88.2,140.5M104.4,96.8L103.3,94.9M82.6,127.2L84.9,124.9M91.3,93.6L89.9,95.9M105.9,129.9L106.7,126.3M102.1,98.7L99.9,100.6M84.1,131.2L84.8,134.1M84.1,137.8L81.9,135.2M88.3,140.8L91.4,139.6M96.4,137.7L96.3,140.5M76.4,118.6L76.7,116.2M90.6,144.5L87.5,144.9M108.1,139.3L106.4,140.9M99.4,131.2L102.9,129.4M85.2,119.3L84.4,122.5M92.1,140.3L96.1,137.7"/>
<path fill="none" stroke="#1a1440" stroke-width="0.5" opacity="0.7" d="M54.4,140.5L58.1,144.9M72.9,127.7L67.8,130.8M2.8,124.2L4.3,121.1M94.4,35.6L94.4,31.8M46.8,33.3L48.3,28.6M10.1,142.4L10.8,145.9M47.2,86.3L51.7,82.7M72.1,56.9L73.9,58.3M59.1,87.3L53.5,89.2M47.1,54.8L44.8,56.2M107.0,88.4L103.4,87.4M28.5,49.9L24.7,50.0M111.5,84.5L112.1,86.6M18.1,54.1L19.3,48.7M26.9,114.8L23.1,116.3M60.7,11.7L65.0,13.6M78.5,58.9L83.1,56.4M34.4,15.2L30.0,13.6M25.6,11.9L23.4,12.1M83.9,93.2L83.2,96.9M26.5,31.8L28.7,36.6M51.6,105.8L48.6,110.0M67.9,97.2L64.5,99.8M21.7,141.8L19.8,138.2M72.8,19.8L71.3,22.3M96.0,7.6L90.9,9.5M89.1,106.2L88.2,109.0M80.2,47.5L79.6,44.2M86.6,85.9L89.0,80.4M43.1,143.6L48.6,144.0M3.4,82.0L-0.5,85.3M35.9,34.9L36.8,30.8M86.1,74.2L91.0,75.3M24.8,71.7L27.9,71.7M75.8,112.6L73.3,109.7M83.5,99.2L84.6,103.2M68.1,107.6L69.1,110.7M39.1,19.2L36.2,23.2M65.8,30.0L65.5,27.5M85.6,26.4L88.0,28.1M58.7,43.5L63.0,39.7M32.3,110.6L30.9,106.6M29.0,138.5L31.0,137.9M37.6,50.6L38.8,54.2M102.3,9.1L104.0,6.4M1.5,131.5L1.1,134.3M13.3,57.1L15.3,59.0M28.5,86.6L25.4,87.7M59.9,113.9L59.4,110.6M104.6,116.3L100.9,114.9M37.5,24.5L40.9,21.6M11.2,135.1L12.9,133.7M79.8,39.1L74.6,37.9M39.9,75.4L38.5,73.0M71.4,65.2L74.1,64.9M81.0,11.6L80.6,14.0M17.0,79.6L19.3,84.2M11.0,92.8L12.6,90.9M24.8,112.7L19.1,113.7M38.5,61.4L41.7,60.5M110.1,130.3L111.4,134.3M107.2,22.2L110.2,18.1M85.4,89.7L90.1,93.2M11.7,115.3L11.1,112.0M78.0,63.2L78.0,61.0M106.3,59.5L107.6,55.8M92.5,47.9L90.5,47.3M55.7,16.9L58.7,13.2M48.4,141.9L53.9,140.0M9.4,104.2L8.8,99.8M1.8,134.9L-2.3,136.5M92.8,44.2L98.4,45.3M30.8,11.5L34.7,16.1M84.3,35.1L87.6,39.6M75.7,87.2L78.2,89.9M107.8,6.3L105.9,7.3M113.6,20.4L118.8,18.8M83.3,11.7L82.0,8.0M56.0,26.1L50.8,25.7M15.0,128.2L12.3,129.7M27.2,70.0L24.7,66.6M101.4,77.3L95.4,76.8M24.5,8.1L23.0,11.0M14.1,64.2L19.7,65.4M55.2,128.6L53.6,123.9M86.4,47.9L86.0,45.1M63.2,89.0L63.6,86.3M39.2,121.0L41.2,115.4M13.5,35.2L17.3,38.2M84.9,96.3L85.7,92.3M64.0,134.5L61.3,130.8M67.1,74.8L67.2,70.5M14.7,65.3L11.4,67.1M63.9,56.3L61.0,58.7M42.3,141.6L44.0,142.7M82.2,61.0L78.0,62.4M41.8,39.2L47.3,39.7M107.0,45.7L103.7,46.5M6.6,130.5L8.2,128.0M29.0,103.3L30.1,99.6M44.1,38.4L45.8,33.2M97.7,21.8L92.8,18.5M81.5,70.0L82.8,71.7M83.4,15.4L85.0,11.0M53.9,130.4L58.0,128.5M11.4,88.0L8.7,89.5M105.8,107.8L107.9,109.8M39.0,85.8L37.3,89.2M92.6,31.2L92.0,27.9M107.6,138.8L105.5,142.7M12.6,63.1L9.4,60.0M39.0,10.5L42.0,13.5M19.5,48.6L15.4,44.8M58.7,41.4L56.0,39.8M89.1,27.6L88.8,31.3M103.4,28.9L104.3,31.3M24.3,52.2L20.4,55.3M46.0,72.2L41.9,75.3M102.9,65.2L105.5,63.8M111.4,79.2L109.9,76.0M30.9,24.7L33.5,22.4M79.6,70.2L76.8,69.7M20.2,52.8L18.4,49.0M0.3,105.1L-1.8,106.0M29.6,35.4L31.5,31.6M37.2,40.5L36.4,43.5M39.4,116.3L40.6,111.6M100.8,97.2L102.4,98.6M18.7,41.9L13.5,40.9M66.7,65.8L67.0,71.7M85.8,53.5L91.5,55.2M29.2,124.2L32.6,127.3M40.6,130.0L39.9,132.3M22.7,118.4L27.2,117.7M77.7,45.2L77.3,47.5M112.2,11.9L109.6,9.7M21.3,66.7L24.0,65.4M18.7,93.7L16.5,90.4M20.5,127.9L22.5,129.7M27.5,77.6L23.4,78.2M82.8,130.7L80.7,131.1M94.6,8.4L93.6,10.7M68.6,115.0L70.8,117.3M96.9,102.1L100.6,105.1M90.4,62.9L93.0,66.7M36.4,24.5L38.2,27.6M14.5,59.6L10.5,58.3M46.0,117.6L48.8,119.3M106.3,126.5L110.8,124.1M61.0,115.8L58.8,114.7M29.1,19.4L31.4,17.1M46.4,81.0L50.3,83.8M90.6,117.0L93.0,114.8M16.6,112.2L15.3,108.9M39.1,27.3L41.0,23.9M92.5,53.3L90.7,56.9M84.9,129.1L82.0,132.9M46.0,126.1L46.2,121.9M41.3,44.0L45.2,40.6M34.8,17.6L36.7,23.1"/>
<path fill="none" stroke="#150f3a" stroke-width="1.1" stroke-linecap="round" opacity="0.75" d="M60.2,83.2L68.9,85.2M11.7,25.2L20.6,29.2M5.9,7.3L11.1,10.3M60.5,113.4L64.1,118.3M60.1,131.6L67.5,135.5M55.4,117.3L62.8,119.0M51.3,84.4L61.0,91.0M81.3,74.2L92.1,76.2M17.0,53.0L24.0,55.8M5.2,23.0L10.7,23.1M64.9,50.8L69.9,53.3M63.6,67.9L68.8,72.9M68.7,54.2L72.9,63.4M94.1,16.3L99.5,18.5M39.4,23.4L50.0,21.4M109.2,36.8L113.5,41.7M2.7,44.0L7.7,49.1M76.7,84.2L84.3,89.4M53.7,70.6L61.0,74.4M70.2,31.8L79.5,37.7M93.0,74.0L101.4,79.6M112.1,21.3L116.1,24.5M40.2,54.6L50.4,58.7M37.5,48.5L43.2,51.0M110.0,88.1L117.6,92.6M106.7,20.3L113.7,23.3M113.8,80.5L117.8,83.8M107.8,42.7L115.9,46.4M41.1,86.5L46.4,96.3M2.1,64.0L13.4,66.6M29.0,57.1L38.4,60.2M74.3,19.1L84.9,23.5M39.7,25.9L42.6,36.1M52.3,116.8L59.4,126.2M105.5,80.2L116.3,85.2M96.0,62.9L102.2,69.3M96.7,33.6L104.3,38.0M65.5,26.2L75.8,31.2M50.0,31.7L57.9,33.2M0.3,18.7L8.1,24.9M15.0,41.5L23.8,48.5M19.9,6.5L30.2,6.5M68.2,56.7L73.0,61.3M67.0,142.8L72.6,146.0M8.5,102.8L15.1,107.6M112.3,51.1L118.2,55.2M54.1,28.5L61.3,29.6M90.7,31.6L95.0,35.3M71.4,69.1L79.9,74.8M76.3,57.5L81.7,60.0M69.7,111.7L79.3,113.6M69.4,64.9L74.8,68.2M52.8,82.6L56.3,90.8M37.4,36.9L46.8,36.7M84.1,40.4L91.8,41.4M106.9,66.8L115.6,62.8M98.7,34.2L104.1,34.6M34.9,72.4L39.4,81.5M71.8,135.7L76.7,138.2M4.2,66.1L8.8,68.5M59.9,94.2L66.2,98.9M109.3,55.8L114.5,63.5M61.7,42.5L67.7,45.7M57.0,10.9L63.4,14.1M69.4,118.8L74.6,124.6M59.7,64.6L65.5,70.3M79.7,25.6L85.2,33.6M71.8,49.5L77.5,53.4"/>
</g>
<path fill="none" stroke="#5d5870" stroke-width="0.5" d="M49.2,110.0a0.8,0.8 0 1,0 1.6,0a0.8,0.8 0 1,0 -1.6,0M34.6,104.2a0.9,0.9 0 1,0 1.7,0a0.9,0.9 0 1,0 -1.7,0M49.8,121.9a1.6,1.6 0 1,0 3.2,0a1.6,1.6 0 1,0 -3.2,0M28.2,116.2a1.6,1.6 0 1,0 3.2,0a1.6,1.6 0 1,0 -3.2,0M45.8,118.3a0.9,0.9 0 1,0 1.8,0a0.9,0.9 0 1,0 -1.8,0M46.7,119.5a1.3,1.3 0 1,0 2.6,0a1.3,1.3 0 1,0 -2.6,0M31.9,120.4a0.9,0.9 0 1,0 1.8,0a0.9,0.9 0 1,0 -1.8,0M50.0,106.3a1.6,1.6 0 1,0 3.1,0a1.6,1.6 0 1,0 -3.1,0M45.3,111.6a1.8,1.8 0 1,0 3.6,0a1.8,1.8 0 1,0 -3.6,0M44.6,122.7a1.8,1.8 0 1,0 3.5,0a1.8,1.8 0 1,0 -3.5,0M28.0,117.0a1.0,1.0 0 1,0 2.1,0a1.0,1.0 0 1,0 -2.1,0M33.3,103.9a1.8,1.8 0 1,0 3.6,0a1.8,1.8 0 1,0 -3.6,0M27.6,106.9a0.9,0.9 0 1,0 1.9,0a0.9,0.9 0 1,0 -1.9,0M50.4,108.9a1.5,1.5 0 1,0 3.0,0a1.5,1.5 0 1,0 -3.0,0M38.9,117.6a1.1,1.1 0 1,0 2.3,0a1.1,1.1 0 1,0 -2.3,0M35.8,116.8a1.5,1.5 0 1,0 3.0,0a1.5,1.5 0 1,0 -3.0,0M47.5,102.9a1.6,1.6 0 1,0 3.3,0a1.6,1.6 0 1,0 -3.3,0M44.2,111.3a1.2,1.2 0 1,0 2.4,0a1.2,1.2 0 1,0 -2.4,0M40.3,95.5a0.9,0.9 0 1,0 1.8,0a0.9,0.9 0 1,0 -1.8,0M26.7,115.9a1.5,1.5 0 1,0 3.1,0a1.5,1.5 0 1,0 -3.1,0M40.9,99.6a1.5,1.5 0 1,0 3.0,0a1.5,1.5 0 1,0 -3.0,0M46.6,112.8a1.0,1.0 0 1,0 2.1,0a1.0,1.0 0 1,0 -2.1,0M40.0,105.6a1.1,1.1 0 1,0 2.1,0a1.1,1.1 0 1,0 -2.1,0M29.3,120.7a1.4,1.4 0 1,0 2.9,0a1.4,1.4 0 1,0 -2.9,0M49.3,98.5a1.1,1.1 0 1,0 2.1,0a1.1,1.1 0 1,0 -2.1,0M33.3,110.3a1.3,1.3 0 1,0 2.6,0a1.3,1.3 0 1,0 -2.6,0M48.3,111.5a1.4,1.4 0 1,0 2.9,0a1.4,1.4 0 1,0 -2.9,0M40.5,118.1a1.2,1.2 0 1,0 2.3,0a1.2,1.2 0 1,0 -2.3,0M25.4,124.4a1.6,1.6 0 1,0 3.2,0a1.6,1.6 0 1,0 -3.2,0M31.6,114.1a0.9,0.9 0 1,0 1.9,0a0.9,0.9 0 1,0 -1.9,0M26.7,108.8a0.8,0.8 0 1,0 1.6,0a0.8,0.8 0 1,0 -1.6,0M32.5,105.2a1.0,1.0 0 1,0 2.0,0a1.0,1.0 0 1,0 -2.0,0M31.9,103.4a1.2,1.2 0 1,0 2.4,0a1.2,1.2 0 1,0 -2.4,0M35.2,103.4a0.8,0.8 0 1,0 1.6,0a0.8,0.8 0 1,0 -1.6,0M46.6,116.6a1.3,1.3 0 1,0 2.6,0a1.3,1.3 0 1,0 -2.6,0M48.5,107.6a1.0,1.0 0 1,0 2.0,0a1.0,1.0 0 1,0 -2.0,0M46.6,121.5a0.9,0.9 0 1,0 1.8,0a0.9,0.9 0 1,0 -1.8,0M38.6,111.0a0.9,0.9 0 1,0 1.8,0a0.9,0.9 0 1,0 -1.8,0M33.5,112.8a1.5,1.5 0 1,0 2.9,0a1.5,1.5 0 1,0 -2.9,0M41.5,112.8a1.2,1.2 0 1,0 2.4,0a1.2,1.2 0 1,0 -2.4,0M46.2,120.7a1.7,1.7 0 1,0 3.4,0a1.7,1.7 0 1,0 -3.4,0M27.9,117.6a1.0,1.0 0 1,0 1.9,0a1.0,1.0 0 1,0 -1.9,0M34.0,99.4a1.7,1.7 0 1,0 3.3,0a1.7,1.7 0 1,0 -3.3,0M46.3,119.6a1.2,1.2 0 1,0 2.4,0a1.2,1.2 0 1,0 -2.4,0M49.0,101.3a1.4,1.4 0 1,0 2.7,0a1.4,1.4 0 1,0 -2.7,0M42.7,100.5a1.2,1.2 0 1,0 2.4,0a1.2,1.2 0 1,0 -2.4,0M28.5,118.5a1.0,1.0 0 1,0 2.0,0a1.0,1.0 0 1,0 -2.0,0M41.7,113.4a1.3,1.3 0 1,0 2.6,0a1.3,1.3 0 1,0 -2.6,0M47.3,117.1a1.0,1.0 0 1,0 2.0,0a1.0,1.0 0 1,0 -2.0,0M39.3,98.4a1.0,1.0 0 1,0 2.1,0a1.0,1.0 0 1,0 -2.1,0M34.3,121.4a1.5,1.5 0 1,0 2.9,0a1.5,1.5 0 1,0 -2.9,0M41.0,110.0a0.8,0.8 0 1,0 1.7,0a0.8,0.8 0 1,0 -1.7,0M27.9,111.1a1.4,1.4 0 1,0 2.8,0a1.4,1.4 0 1,0 -2.8,0M28.0,117.7a1.0,1.0 0 1,0 2.1,0a1.0,1.0 0 1,0 -2.1,0M40.6,109.9a1.1,1.1 0 1,0 2.3,0a1.1,1.1 0 1,0 -2.3,0M49.4,105.7a1.2,1.2 0 1,0 2.4,0a1.2,1.2 0 1,0 -2.4,0M38.7,119.9a1.8,1.8 0 1,0 3.6,0a1.8,1.8 0 1,0 -3.6,0M44.7,110.2a1.5,1.5 0 1,0 3.0,0a1.5,1.5 0 1,0 -3.0,0M41.2,123.7a1.8,1.8 0 1,0 3.5,0a1.8,1.8 0 1,0 -3.5,0M44.6,99.9a1.4,1.4 0 1,0 2.7,0a1.4,1.4 0 1,0 -2.7,0M36.4,100.4a1.6,1.6 0 1,0 3.2,0a1.6,1.6 0 1,0 -3.2,0M31.2,115.7a1.3,1.3 0 1,0 2.6,0a1.3,1.3 0 1,0 -2.6,0M36.1,115.6a1.5,1.5 0 1,0 3.0,0a1.5,1.5 0 1,0 -3.0,0M50.1,125.0a1.6,1.6 0 1,0 3.2,0a1.6,1.6 0 1,0 -3.2,0M32.3,114.4a1.3,1.3 0 1,0 2.6,0a1.3,1.3 0 1,0 -2.6,0M49.4,107.3a1.2,1.2 0 1,0 2.3,0a1.2,1.2 0 1,0 -2.3,0M26.3,108.0a1.3,1.3 0 1,0 2.7,0a1.3,1.3 0 1,0 -2.7,0M30.1,107.2a1.1,1.1 0 1,0 2.3,0a1.1,1.1 0 1,0 -2.3,0M38.3,110.0a1.2,1.2 0 1,0 2.4,0a1.2,1.2 0 1,0 -2.4,0M39.9,124.0a1.1,1.1 0 1,0 2.2,0a1.1,1.1 0 1,0 -2.2,0M34.3,103.2a1.5,1.5 0 1,0 3.1,0a1.5,1.5 0 1,0 -3.1,0M38.5,118.5a0.8,0.8 0 1,0 1.6,0a0.8,0.8 0 1,0 -1.6,0M35.0,105.8a1.2,1.2 0 1,0 2.4,0a1.2,1.2 0 1,0 -2.4,0M49.8,107.1a1.4,1.4 0 1,0 2.8,0a1.4,1.4 0 1,0 -2.8,0"/>
<path fill="none" stroke="#3a3090" stroke-width="0.6" d="M48.7,5.5a1.3,1.3 0 1,0 2.6,0a1.3,1.3 0 1,0 -2.6,0M51.7,6.5a1.3,1.3 0 1,0 2.6,0a1.3,1.3 0 1,0 -2.6,0M45.7,7.5a1.3,1.3 0 1,0 2.6,0a1.3,1.3 0 1,0 -2.6,0M54.7,8.0a1.3,1.3 0 1,0 2.6,0a1.3,1.3 0 1,0 -2.6,0M42.7,9.0a1.3,1.3 0 1,0 2.6,0a1.3,1.3 0 1,0 -2.6,0"/>
<rect x="139.5" y="18.0" width="138.7" height="138.5" fill="none" stroke="#c4c4c4" stroke-width="0.6"/>
<line x1="139.6" y1="156.5" x2="139.6" y2="155.2" stroke="#999" stroke-width="0.5"/>
<line x1="139.6" y1="18.0" x2="139.6" y2="19.3" stroke="#999" stroke-width="0.5"/>
<text x="139.64" y="162.90" font-size="4.8" fill="#333" text-anchor="middle">-200</text>
<line x1="161.0" y1="156.5" x2="161.0" y2="155.2" stroke="#999" stroke-width="0.5"/>
<line x1="161.0" y1="18.0" x2="161.0" y2="19.3" stroke="#999" stroke-width="0.5"/>
<text x="160.97" y="162.90" font-size="4.8" fill="#333" text-anchor="middle">-100</text>
<line x1="182.3" y1="156.5" x2="182.3" y2="155.2" stroke="#999" stroke-width="0.5"/>
<line x1="182.3" y1="18.0" x2="182.3" y2="19.3" stroke="#999" stroke-width="0.5"/>
<text x="182.30" y="162.90" font-size="4.8" fill="#333" text-anchor="middle">0</text>
<line x1="203.6" y1="156.5" x2="203.6" y2="155.2" stroke="#999" stroke-width="0.5"/>
<line x1="203.6" y1="18.0" x2="203.6" y2="19.3" stroke="#999" stroke-width="0.5"/>
<text x="203.63" y="162.90" font-size="4.8" fill="#333" text-anchor="middle">100</text>
<line x1="225.0" y1="156.5" x2="225.0" y2="155.2" stroke="#999" stroke-width="0.5"/>
<line x1="225.0" y1="18.0" x2="225.0" y2="19.3" stroke="#999" stroke-width="0.5"/>
<text x="224.96" y="162.90" font-size="4.8" fill="#333" text-anchor="middle">200</text>
<line x1="246.3" y1="156.5" x2="246.3" y2="155.2" stroke="#999" stroke-width="0.5"/>
<line x1="246.3" y1="18.0" x2="246.3" y2="19.3" stroke="#999" stroke-width="0.5"/>
<text x="246.29" y="162.90" font-size="4.8" fill="#333" text-anchor="middle">300</text>
<line x1="267.6" y1="156.5" x2="267.6" y2="155.2" stroke="#999" stroke-width="0.5"/>
<line x1="267.6" y1="18.0" x2="267.6" y2="19.3" stroke="#999" stroke-width="0.5"/>
<text x="267.62" y="162.90" font-size="4.8" fill="#333" text-anchor="middle">400</text>
<line x1="139.5" y1="148.6" x2="140.8" y2="148.6" stroke="#999" stroke-width="0.5"/>
<line x1="278.2" y1="148.6" x2="276.9" y2="148.6" stroke="#999" stroke-width="0.5"/>
<text x="138.20" y="150.26" font-size="4.8" fill="#333" text-anchor="end">-400</text>
<line x1="139.5" y1="132.2" x2="140.8" y2="132.2" stroke="#999" stroke-width="0.5"/>
<line x1="278.2" y1="132.2" x2="276.9" y2="132.2" stroke="#999" stroke-width="0.5"/>
<text x="138.20" y="133.92" font-size="4.8" fill="#333" text-anchor="end">-300</text>
<line x1="139.5" y1="115.9" x2="140.8" y2="115.9" stroke="#999" stroke-width="0.5"/>
<line x1="278.2" y1="115.9" x2="276.9" y2="115.9" stroke="#999" stroke-width="0.5"/>
<text x="138.20" y="117.58" font-size="4.8" fill="#333" text-anchor="end">-200</text>
<line x1="139.5" y1="99.5" x2="140.8" y2="99.5" stroke="#999" stroke-width="0.5"/>
<line x1="278.2" y1="99.5" x2="276.9" y2="99.5" stroke="#999" stroke-width="0.5"/>
<text x="138.20" y="101.24" font-size="4.8" fill="#333" text-anchor="end">-100</text>
<line x1="139.5" y1="83.2" x2="140.8" y2="83.2" stroke="#999" stroke-width="0.5"/>
<line x1="278.2" y1="83.2" x2="276.9" y2="83.2" stroke="#999" stroke-width="0.5"/>
<text x="138.20" y="84.90" font-size="4.8" fill="#333" text-anchor="end">0</text>
<line x1="139.5" y1="66.9" x2="140.8" y2="66.9" stroke="#999" stroke-width="0.5"/>
<line x1="278.2" y1="66.9" x2="276.9" y2="66.9" stroke="#999" stroke-width="0.5"/>
<text x="138.20" y="68.56" font-size="4.8" fill="#333" text-anchor="end">100</text>
<line x1="139.5" y1="50.5" x2="140.8" y2="50.5" stroke="#999" stroke-width="0.5"/>
<line x1="278.2" y1="50.5" x2="276.9" y2="50.5" stroke="#999" stroke-width="0.5"/>
<text x="138.20" y="52.22" font-size="4.8" fill="#333" text-anchor="end">200</text>
<line x1="139.5" y1="34.2" x2="140.8" y2="34.2" stroke="#999" stroke-width="0.5"/>
<line x1="278.2" y1="34.2" x2="276.9" y2="34.2" stroke="#999" stroke-width="0.5"/>
<text x="138.20" y="35.88" font-size="4.8" fill="#333" text-anchor="end">300</text>
<line x1="139.5" y1="17.8" x2="140.8" y2="17.8" stroke="#999" stroke-width="0.5"/>
<line x1="278.2" y1="17.8" x2="276.9" y2="17.8" stroke="#999" stroke-width="0.5"/>
<text x="138.20" y="19.54" font-size="4.8" fill="#333" text-anchor="end">400</text>
<text x="208.80" y="169.20" font-size="5.4" fill="#333" text-anchor="middle" textLength="34.00" lengthAdjust="spacingAndGlyphs">PC1 (52.95%)</text>
<text x="127.20" y="86.80" font-size="5.4" fill="#333" text-anchor="middle" textLength="34.00" lengthAdjust="spacingAndGlyphs" transform="rotate(-90 127.20 86.80)">PC2 (21.17%)</text>
<text x="159.80" y="15.00" font-size="6.2" fill="#111" textLength="97.60" lengthAdjust="spacingAndGlyphs">PC space with eBDIMS2 pathways</text>
<path d="M143.2,30.3 C149.2,32.5 167.0,38.9 179.0,43.4 C191.0,47.9 204.0,52.6 215.0,57.4 C226.0,62.2 236.5,66.8 245.0,72.0 C253.5,77.2 262.5,85.7 266.0,88.4" fill="none" stroke="#0072BD" stroke-width="0.8" opacity="1"/>
<path d="M143.2,30.3 C146.3,32.4 154.0,38.1 161.8,42.7 C169.6,47.3 181.1,53.3 190.0,58.0 C198.9,62.7 206.7,67.4 215.0,71.0 C223.3,74.6 231.5,76.6 240.0,79.5 C248.5,82.4 261.7,87.1 266.0,88.6" fill="none" stroke="#A2142F" stroke-width="0.8" opacity="1"/>
<path d="M186.5,83.5 C192.9,83.9 211.8,85.0 225.0,85.8 C238.2,86.6 259.2,87.8 266.0,88.2" fill="none" stroke="#4DBEEE" stroke-width="0.55" stroke-dasharray="1.0,0.6" opacity="1"/>
<path d="M186.5,83.5 C192.9,83.9 211.8,85.2 225.0,86.0 C238.2,86.8 259.2,87.7 266.0,88.0" fill="none" stroke="#0072BD" stroke-width="0.5" stroke-dasharray="1.0,0.6" opacity="1"/>
<path d="M186.5,83.5 C192.9,84.2 211.8,86.6 225.0,87.6 C238.2,88.6 259.2,89.1 266.0,89.4" fill="none" stroke="#D95319" stroke-width="0.55" stroke-dasharray="1.0,0.6" opacity="1"/>
<path d="M187.0,84.5 C193.3,85.2 211.8,88.2 225.0,89.0 C238.2,89.8 259.2,89.5 266.0,89.6" fill="none" stroke="#f0a080" stroke-width="0.6" stroke-dasharray="1.0,0.6" opacity="1"/>
<path d="M186.5,83.5 C190.4,83.0 202.2,81.0 210.0,80.2 C217.8,79.4 229.6,79.0 233.5,78.8" fill="none" stroke="#EDB120" stroke-width="0.8" opacity="1"/>
<path d="M186.5,84.5 C190.4,84.0 202.2,82.8 210.0,81.8 C217.8,80.8 229.6,79.3 233.5,78.8" fill="none" stroke="#7E2F8E" stroke-width="0.8" opacity="1"/>
<path d="M233.5,78.8 C236.2,79.5 244.6,81.4 250.0,83.0 C255.4,84.6 263.3,87.7 266.0,88.6" fill="none" stroke="#77AC30" stroke-width="0.8" opacity="1"/>
<path d="M233.5,79.3 C236.2,80.0 244.6,82.0 250.0,83.6 C255.4,85.1 263.3,87.8 266.0,88.6" fill="none" stroke="#A2142F" stroke-width="0.6" opacity="1"/>
<path d="M233.5,79.6 C236.2,80.4 244.6,82.7 250.0,84.2 C255.4,85.7 263.3,87.9 266.0,88.6" fill="none" stroke="#4DBEEE" stroke-width="0.5" opacity="1"/>
<circle cx="143.2" cy="30.3" r="1.0" fill="#000"/>
<circle cx="163.8" cy="33.4" r="0.9" fill="#000"/>
<circle cx="182.8" cy="83.2" r="1.0" fill="#000"/>
<circle cx="183.5" cy="85.5" r="1.0" fill="#000"/>
<circle cx="185.0" cy="84.2" r="1.0" fill="#000"/>
<circle cx="186.5" cy="83.2" r="1.0" fill="#000"/>
<circle cx="187.5" cy="85.0" r="1.0" fill="#000"/>
<circle cx="184.5" cy="86.0" r="1.0" fill="#000"/>
<circle cx="174.5" cy="88.0" r="0.9" fill="#000"/>
<circle cx="204.3" cy="87.6" r="0.9" fill="#000"/>
<circle cx="218.4" cy="78.2" r="0.9" fill="#000"/>
<circle cx="221.0" cy="77.3" r="0.9" fill="#000"/>
<circle cx="224.5" cy="77.9" r="0.9" fill="#000"/>
<circle cx="226.4" cy="78.2" r="0.9" fill="#000"/>
<circle cx="227.5" cy="78.5" r="0.9" fill="#000"/>
<circle cx="233.8" cy="78.9" r="0.9" fill="#000"/>
<circle cx="243.2" cy="84.0" r="0.9" fill="#000"/>
<circle cx="247.9" cy="85.8" r="0.9" fill="#000"/>
<circle cx="265.2" cy="90.3" r="1.0" fill="#000"/>
<circle cx="268.8" cy="91.0" r="0.9" fill="#000"/>
<circle cx="270.2" cy="92.2" r="0.9" fill="#000"/>
<circle cx="271.5" cy="93.3" r="0.9" fill="#000"/>
<circle cx="272.6" cy="94.3" r="0.9" fill="#000"/>
<circle cx="269.8" cy="92.8" r="0.9" fill="#000"/>
<circle cx="271.8" cy="94.6" r="0.9" fill="#000"/>
<circle cx="254.6" cy="99.0" r="0.9" fill="#000"/>
<circle cx="160.6" cy="140.5" r="0.9" fill="#000"/>
<circle cx="152.2" cy="147.2" r="0.9" fill="#000"/>
<circle cx="155.3" cy="146.1" r="0.9" fill="#000"/>
<text x="140.60" y="27.30" font-size="4.3" fill="#333" textLength="10.60" lengthAdjust="spacingAndGlyphs">7oud</text>
<text x="162.70" y="30.70" font-size="4.3" fill="#333" textLength="8.00" lengthAdjust="spacingAndGlyphs">7ygl</text>
<text x="178.60" y="80.20" font-size="4.3" fill="#333" textLength="9.70" lengthAdjust="spacingAndGlyphs">7k19</text>
<text x="169.60" y="93.60" font-size="4.3" fill="#333" textLength="10.40" lengthAdjust="spacingAndGlyphs">7k17</text>
<text x="199.30" y="93.00" font-size="4.3" fill="#333" textLength="10.10" lengthAdjust="spacingAndGlyphs">8ez9</text>
<text x="231.80" y="76.20" font-size="4.3" fill="#333" textLength="10.10" lengthAdjust="spacingAndGlyphs">7k1n</text>
<text x="241.20" y="92.30" font-size="4.3" fill="#333" textLength="10.00" lengthAdjust="spacingAndGlyphs">8bhy</text>
<text x="264.60" y="86.20" font-size="4.3" fill="#333" textLength="10.10" lengthAdjust="spacingAndGlyphs">7k0y</text>
<text x="158.00" y="136.50" font-size="4.3" fill="#333" textLength="10.50" lengthAdjust="spacingAndGlyphs">5w1r</text>
<text x="144.00" y="144.00" font-size="4.3" fill="#333" textLength="9.00" lengthAdjust="spacingAndGlyphs">5luq</text>
<text x="143.70" y="43.30" font-size="8.3" fill="#111" textLength="57.50" lengthAdjust="spacingAndGlyphs">Phosphorylated</text>
<text x="214.70" y="70.20" font-size="8.3" fill="#111" textLength="45.50" lengthAdjust="spacingAndGlyphs">Intermediate</text>
<text x="154.80" y="78.90" font-size="8.3" fill="#111" textLength="17.50" lengthAdjust="spacingAndGlyphs">Apo-</text>
<text x="156.70" y="87.60" font-size="8.3" fill="#111" textLength="12.50" lengthAdjust="spacingAndGlyphs">like</text>
<text x="252.00" y="104.00" font-size="8.3" fill="#111" textLength="22.40" lengthAdjust="spacingAndGlyphs">Active</text>
<text x="169.80" y="142.00" font-size="8.3" fill="#111" textLength="23.30" lengthAdjust="spacingAndGlyphs">X-ray-</text>
<text x="169.80" y="150.70" font-size="8.3" fill="#111" textLength="22.40" lengthAdjust="spacingAndGlyphs">based</text>
<rect x="238.2" y="109.3" width="38" height="42.9" fill="#fff" stroke="#d8d8d8" stroke-width="0.5"/>
<line x1="239.2" y1="112.8" x2="246.5" y2="112.8" stroke="#0072BD" stroke-width="0.7"/>
<text x="247.60" y="114.40" font-size="4.5" fill="#222" textLength="27.40" lengthAdjust="spacingAndGlyphs">7k19 &gt;&gt; 7k0y</text>
<line x1="239.2" y1="118.2" x2="246.5" y2="118.2" stroke="#D95319" stroke-width="0.7"/>
<text x="247.60" y="119.83" font-size="4.5" fill="#222" textLength="27.40" lengthAdjust="spacingAndGlyphs">7k0y &gt;&gt; 7k19</text>
<line x1="239.2" y1="123.7" x2="246.5" y2="123.7" stroke="#EDB120" stroke-width="0.7"/>
<text x="247.60" y="125.26" font-size="4.5" fill="#222" textLength="27.40" lengthAdjust="spacingAndGlyphs">7k19 &gt;&gt; 7k1n</text>
<line x1="239.2" y1="129.1" x2="246.5" y2="129.1" stroke="#7E2F8E" stroke-width="0.7"/>
<text x="247.60" y="130.69" font-size="4.5" fill="#222" textLength="27.40" lengthAdjust="spacingAndGlyphs">7k1n &gt;&gt; 7k19</text>
<line x1="239.2" y1="134.5" x2="246.5" y2="134.5" stroke="#77AC30" stroke-width="0.7"/>
<text x="247.60" y="136.12" font-size="4.5" fill="#222" textLength="27.40" lengthAdjust="spacingAndGlyphs">7k0y &gt;&gt; 7k1n</text>
<line x1="239.2" y1="139.9" x2="246.5" y2="139.9" stroke="#4DBEEE" stroke-width="0.7"/>
<text x="247.60" y="141.55" font-size="4.5" fill="#222" textLength="27.40" lengthAdjust="spacingAndGlyphs">7k1n &gt;&gt; 7k0y</text>
<line x1="239.2" y1="145.4" x2="246.5" y2="145.4" stroke="#A2142F" stroke-width="0.7"/>
<text x="247.60" y="146.98" font-size="4.5" fill="#222" textLength="27.40" lengthAdjust="spacingAndGlyphs">7k0y &gt;&gt; 7oud</text>
<line x1="239.2" y1="150.8" x2="246.5" y2="150.8" stroke="#0072BD" stroke-width="0.7"/>
<text x="247.60" y="152.41" font-size="4.5" fill="#222" textLength="27.40" lengthAdjust="spacingAndGlyphs">7oud &gt;&gt; 7k0y</text>
<defs><clipPath id="cpG1"><path d="M314.2,16.0 C315.4,12.2 316.2,14.7 318.6,13.9 C321.0,13.1 325.2,10.9 328.8,11.0 C332.4,11.1 336.9,13.5 340.5,14.6 C344.1,15.7 347.8,16.5 350.7,17.5 C353.6,18.5 354.8,18.9 358.0,20.4 C361.2,21.9 367.5,24.1 369.7,26.3 C371.9,28.5 371.0,30.7 371.0,33.6 C371.0,36.5 370.4,40.1 369.7,43.8 C369.0,47.4 367.5,52.5 366.8,55.5 C366.1,58.5 366.2,58.4 365.4,61.7 C364.6,65.0 362.3,70.6 362.0,75.1 C361.7,79.6 362.6,84.9 363.7,88.5 C364.8,92.1 367.9,93.6 368.8,96.9 C369.7,100.2 369.9,105.0 368.8,108.6 C367.7,112.2 364.8,116.5 362.0,118.7 C359.2,120.9 355.6,121.7 352.0,122.0 C348.4,122.3 344.5,120.3 340.3,120.3 C336.1,120.3 331.6,121.4 326.9,122.0 C322.1,122.6 316.0,124.0 311.8,123.7 C307.6,123.4 304.5,122.2 301.7,120.3 C298.9,118.3 296.4,114.5 295.0,112.0 C293.6,109.5 293.1,107.0 293.4,105.3 C293.7,103.6 294.5,102.9 296.7,101.9 C298.9,100.9 303.2,100.5 306.8,99.4 C310.4,98.3 316.0,97.0 318.5,95.2 C321.0,93.4 322.1,91.6 321.8,88.5 C321.5,85.4 318.8,80.1 316.8,76.8 C314.8,73.5 312.8,71.7 310.0,68.4 C307.2,65.1 302.3,59.1 300.0,57.0 C297.7,54.9 296.6,56.7 296.0,55.5 C295.4,54.3 295.2,51.5 296.7,49.6 C298.2,47.7 302.6,46.2 305.0,44.0 C307.4,41.8 309.8,41.2 311.3,36.5 C312.8,31.8 313.0,19.8 314.2,16.0Z"/></clipPath>
<pattern id="ptcpG10" width="29" height="31" patternUnits="userSpaceOnUse"><path fill="none" stroke="#9a9a9a" stroke-width="0.35" d="M10.3,7.2a0.8,0.8 0 1,0 1.5,0a0.8,0.8 0 1,0 -1.5,0M25.2,17.9a1.3,1.3 0 1,0 2.6,0a1.3,1.3 0 1,0 -2.6,0M14.7,11.9a1.3,1.3 0 1,0 2.7,0a1.3,1.3 0 1,0 -2.7,0M15.5,24.2a1.3,1.3 0 1,0 2.5,0a1.3,1.3 0 1,0 -2.5,0M23.6,13.6a0.8,0.8 0 1,0 1.5,0a0.8,0.8 0 1,0 -1.5,0M3.6,22.4a0.8,0.8 0 1,0 1.5,0a0.8,0.8 0 1,0 -1.5,0M18.3,19.2a0.7,0.7 0 1,0 1.3,0a0.7,0.7 0 1,0 -1.3,0M21.3,1.0a1.5,1.5 0 1,0 2.9,0a1.5,1.5 0 1,0 -2.9,0M23.1,6.7a1.3,1.3 0 1,0 2.7,0a1.3,1.3 0 1,0 -2.7,0M20.0,3.9a1.3,1.3 0 1,0 2.5,0a1.3,1.3 0 1,0 -2.5,0M2.3,28.3a1.3,1.3 0 1,0 2.6,0a1.3,1.3 0 1,0 -2.6,0M27.5,1.7a0.9,0.9 0 1,0 1.8,0a0.9,0.9 0 1,0 -1.8,0M17.2,18.9a0.8,0.8 0 1,0 1.6,0a0.8,0.8 0 1,0 -1.6,0M24.8,26.2a0.9,0.9 0 1,0 1.8,0a0.9,0.9 0 1,0 -1.8,0M3.2,20.7a1.0,1.0 0 1,0 2.0,0a1.0,1.0 0 1,0 -2.0,0M18.2,15.3a1.0,1.0 0 1,0 2.0,0a1.0,1.0 0 1,0 -2.0,0M-0.4,4.2a1.1,1.1 0 1,0 2.1,0a1.1,1.1 0 1,0 -2.1,0M19.8,13.2a1.3,1.3 0 1,0 2.7,0a1.3,1.3 0 1,0 -2.7,0"/><path fill="none" stroke="#b0b0b0" stroke-width="0.35" d="M14.4,27.3a1.3,1.3 0 1,0 2.5,0a1.3,1.3 0 1,0 -2.5,0M8.7,4.3a0.7,0.7 0 1,0 1.3,0a0.7,0.7 0 1,0 -1.3,0M-0.3,26.7a1.5,1.5 0 1,0 2.9,0a1.5,1.5 0 1,0 -2.9,0M20.5,3.4a1.3,1.3 0 1,0 2.5,0a1.3,1.3 0 1,0 -2.5,0M2.4,27.6a1.3,1.3 0 1,0 2.5,0a1.3,1.3 0 1,0 -2.5,0M20.7,18.9a1.0,1.0 0 1,0 2.0,0a1.0,1.0 0 1,0 -2.0,0M23.8,29.8a0.8,0.8 0 1,0 1.7,0a0.8,0.8 0 1,0 -1.7,0M11.4,22.7a1.3,1.3 0 1,0 2.6,0a1.3,1.3 0 1,0 -2.6,0M10.3,14.0a1.6,1.6 0 1,0 3.1,0a1.6,1.6 0 1,0 -3.1,0M6.7,6.6a1.3,1.3 0 1,0 2.6,0a1.3,1.3 0 1,0 -2.6,0M7.1,27.8a0.9,0.9 0 1,0 1.9,0a0.9,0.9 0 1,0 -1.9,0M25.3,11.8a1.5,1.5 0 1,0 3.0,0a1.5,1.5 0 1,0 -3.0,0M21.0,22.7a0.8,0.8 0 1,0 1.6,0a0.8,0.8 0 1,0 -1.6,0M4.0,1.0a0.8,0.8 0 1,0 1.6,0a0.8,0.8 0 1,0 -1.6,0M18.5,2.0a0.8,0.8 0 1,0 1.7,0a0.8,0.8 0 1,0 -1.7,0M15.5,4.8a0.9,0.9 0 1,0 1.9,0a0.9,0.9 0 1,0 -1.9,0M5.9,21.0a0.7,0.7 0 1,0 1.4,0a0.7,0.7 0 1,0 -1.4,0M27.6,18.6a1.3,1.3 0 1,0 2.6,0a1.3,1.3 0 1,0 -2.6,0"/><path fill="none" stroke="#888" stroke-width="0.35" d="M14.5,15.4a1.6,1.6 0 1,0 3.1,0a1.6,1.6 0 1,0 -3.1,0M25.3,25.5a0.6,0.6 0 1,0 1.3,0a0.6,0.6 0 1,0 -1.3,0M15.9,29.2a1.2,1.2 0 1,0 2.5,0a1.2,1.2 0 1,0 -2.5,0M14.1,20.1a0.8,0.8 0 1,0 1.6,0a0.8,0.8 0 1,0 -1.6,0M20.4,24.3a0.7,0.7 0 1,0 1.3,0a0.7,0.7 0 1,0 -1.3,0M13.8,18.5a1.0,1.0 0 1,0 1.9,0a1.0,1.0 0 1,0 -1.9,0M18.3,28.6a1.5,1.5 0 1,0 3.0,0a1.5,1.5 0 1,0 -3.0,0M7.5,4.7a1.5,1.5 0 1,0 2.9,0a1.5,1.5 0 1,0 -2.9,0M16.3,25.7a1.5,1.5 0 1,0 2.9,0a1.5,1.5 0 1,0 -2.9,0M7.2,18.2a0.9,0.9 0 1,0 1.8,0a0.9,0.9 0 1,0 -1.8,0M22.3,21.4a0.8,0.8 0 1,0 1.7,0a0.8,0.8 0 1,0 -1.7,0M13.7,18.4a0.8,0.8 0 1,0 1.7,0a0.8,0.8 0 1,0 -1.7,0M4.6,14.7a0.7,0.7 0 1,0 1.3,0a0.7,0.7 0 1,0 -1.3,0M12.9,29.1a1.4,1.4 0 1,0 2.9,0a1.4,1.4 0 1,0 -2.9,0M0.3,25.6a1.3,1.3 0 1,0 2.6,0a1.3,1.3 0 1,0 -2.6,0M19.2,0.8a1.4,1.4 0 1,0 2.7,0a1.4,1.4 0 1,0 -2.7,0M4.7,24.9a0.9,0.9 0 1,0 1.8,0a0.9,0.9 0 1,0 -1.8,0M9.2,5.3a1.5,1.5 0 1,0 2.9,0a1.5,1.5 0 1,0 -2.9,0"/><path fill="none" stroke="#c0c0c0" stroke-width="0.35" d="M5.3,27.1a1.1,1.1 0 1,0 2.2,0a1.1,1.1 0 1,0 -2.2,0M3.2,20.3a1.1,1.1 0 1,0 2.3,0a1.1,1.1 0 1,0 -2.3,0M-0.1,25.5a0.9,0.9 0 1,0 1.7,0a0.9,0.9 0 1,0 -1.7,0M-0.6,23.8a1.3,1.3 0 1,0 2.7,0a1.3,1.3 0 1,0 -2.7,0M10.1,5.8a1.1,1.1 0 1,0 2.3,0a1.1,1.1 0 1,0 -2.3,0M15.9,21.4a1.1,1.1 0 1,0 2.2,0a1.1,1.1 0 1,0 -2.2,0M15.7,22.3a0.8,0.8 0 1,0 1.6,0a0.8,0.8 0 1,0 -1.6,0M3.9,15.0a1.4,1.4 0 1,0 2.7,0a1.4,1.4 0 1,0 -2.7,0M22.2,26.5a1.0,1.0 0 1,0 2.1,0a1.0,1.0 0 1,0 -2.1,0M19.7,3.3a1.0,1.0 0 1,0 2.0,0a1.0,1.0 0 1,0 -2.0,0M0.3,25.9a1.6,1.6 0 1,0 3.2,0a1.6,1.6 0 1,0 -3.2,0M18.4,23.3a1.0,1.0 0 1,0 1.9,0a1.0,1.0 0 1,0 -1.9,0M22.1,2.6a1.0,1.0 0 1,0 1.9,0a1.0,1.0 0 1,0 -1.9,0M9.4,26.8a0.8,0.8 0 1,0 1.5,0a0.8,0.8 0 1,0 -1.5,0M3.2,2.8a1.4,1.4 0 1,0 2.9,0a1.4,1.4 0 1,0 -2.9,0M8.2,28.0a0.9,0.9 0 1,0 1.8,0a0.9,0.9 0 1,0 -1.8,0M22.8,6.0a1.5,1.5 0 1,0 3.0,0a1.5,1.5 0 1,0 -3.0,0M26.9,27.2a1.3,1.3 0 1,0 2.6,0a1.3,1.3 0 1,0 -2.6,0"/><path fill="none" stroke="#777" stroke-width="0.35" d="M24.4,28.3a1.6,1.6 0 1,0 3.1,0a1.6,1.6 0 1,0 -3.1,0M6.6,26.3a1.4,1.4 0 1,0 2.8,0a1.4,1.4 0 1,0 -2.8,0M8.5,5.2a1.5,1.5 0 1,0 3.0,0a1.5,1.5 0 1,0 -3.0,0M12.2,16.4a1.5,1.5 0 1,0 3.0,0a1.5,1.5 0 1,0 -3.0,0M12.7,7.8a1.3,1.3 0 1,0 2.6,0a1.3,1.3 0 1,0 -2.6,0M14.1,8.4a1.3,1.3 0 1,0 2.6,0a1.3,1.3 0 1,0 -2.6,0M24.8,7.6a1.4,1.4 0 1,0 2.8,0a1.4,1.4 0 1,0 -2.8,0M21.1,16.2a0.8,0.8 0 1,0 1.6,0a0.8,0.8 0 1,0 -1.6,0M18.4,8.7a0.9,0.9 0 1,0 1.7,0a0.9,0.9 0 1,0 -1.7,0M24.1,8.4a0.7,0.7 0 1,0 1.4,0a0.7,0.7 0 1,0 -1.4,0M23.6,30.8a0.9,0.9 0 1,0 1.8,0a0.9,0.9 0 1,0 -1.8,0M10.4,16.9a1.4,1.4 0 1,0 2.7,0a1.4,1.4 0 1,0 -2.7,0M-0.5,20.1a0.8,0.8 0 1,0 1.7,0a0.8,0.8 0 1,0 -1.7,0M25.4,12.9a1.5,1.5 0 1,0 3.1,0a1.5,1.5 0 1,0 -3.1,0M12.4,20.3a0.6,0.6 0 1,0 1.3,0a0.6,0.6 0 1,0 -1.3,0M4.9,9.2a1.0,1.0 0 1,0 1.9,0a1.0,1.0 0 1,0 -1.9,0M4.3,13.1a0.7,0.7 0 1,0 1.4,0a0.7,0.7 0 1,0 -1.4,0M15.0,29.9a1.5,1.5 0 1,0 2.9,0a1.5,1.5 0 1,0 -2.9,0"/></pattern><pattern id="ptcpG11" width="37" height="23" patternUnits="userSpaceOnUse"><path fill="none" stroke="#9a9a9a" stroke-width="0.35" d="M21.7,22.6a1.3,1.3 0 1,0 2.7,0a1.3,1.3 0 1,0 -2.7,0M22.8,10.5a0.7,0.7 0 1,0 1.4,0a0.7,0.7 0 1,0 -1.4,0M31.6,20.6a1.4,1.4 0 1,0 2.8,0a1.4,1.4 0 1,0 -2.8,0M23.9,18.7a1.6,1.6 0 1,0 3.1,0a1.6,1.6 0 1,0 -3.1,0M35.3,17.7a0.6,0.6 0 1,0 1.2,0a0.6,0.6 0 1,0 -1.2,0M34.0,13.1a1.1,1.1 0 1,0 2.1,0a1.1,1.1 0 1,0 -2.1,0M15.3,6.2a0.6,0.6 0 1,0 1.3,0a0.6,0.6 0 1,0 -1.3,0M22.2,14.2a0.7,0.7 0 1,0 1.4,0a0.7,0.7 0 1,0 -1.4,0M32.7,20.8a1.5,1.5 0 1,0 2.9,0a1.5,1.5 0 1,0 -2.9,0M18.8,8.9a1.1,1.1 0 1,0 2.1,0a1.1,1.1 0 1,0 -2.1,0M12.2,22.0a1.5,1.5 0 1,0 3.0,0a1.5,1.5 0 1,0 -3.0,0M32.1,12.0a1.1,1.1 0 1,0 2.2,0a1.1,1.1 0 1,0 -2.2,0M24.6,6.7a0.8,0.8 0 1,0 1.6,0a0.8,0.8 0 1,0 -1.6,0M35.6,6.2a0.9,0.9 0 1,0 1.7,0a0.9,0.9 0 1,0 -1.7,0M17.1,2.0a1.1,1.1 0 1,0 2.2,0a1.1,1.1 0 1,0 -2.2,0M5.2,19.1a0.7,0.7 0 1,0 1.4,0a0.7,0.7 0 1,0 -1.4,0"/><path fill="none" stroke="#b0b0b0" stroke-width="0.35" d="M28.3,6.2a1.4,1.4 0 1,0 2.8,0a1.4,1.4 0 1,0 -2.8,0M28.9,22.0a0.8,0.8 0 1,0 1.5,0a0.8,0.8 0 1,0 -1.5,0M35.5,3.4a1.0,1.0 0 1,0 1.9,0a1.0,1.0 0 1,0 -1.9,0M-0.4,11.4a0.7,0.7 0 1,0 1.4,0a0.7,0.7 0 1,0 -1.4,0M19.2,21.5a1.4,1.4 0 1,0 2.8,0a1.4,1.4 0 1,0 -2.8,0M22.4,2.1a1.6,1.6 0 1,0 3.2,0a1.6,1.6 0 1,0 -3.2,0M12.8,21.8a0.7,0.7 0 1,0 1.5,0a0.7,0.7 0 1,0 -1.5,0M9.7,21.8a1.3,1.3 0 1,0 2.7,0a1.3,1.3 0 1,0 -2.7,0M5.8,10.5a1.1,1.1 0 1,0 2.3,0a1.1,1.1 0 1,0 -2.3,0M8.6,5.0a0.7,0.7 0 1,0 1.4,0a0.7,0.7 0 1,0 -1.4,0M17.9,9.6a0.9,0.9 0 1,0 1.9,0a0.9,0.9 0 1,0 -1.9,0M16.8,8.0a1.0,1.0 0 1,0 2.0,0a1.0,1.0 0 1,0 -2.0,0M27.6,3.4a0.7,0.7 0 1,0 1.4,0a0.7,0.7 0 1,0 -1.4,0M15.5,6.7a1.1,1.1 0 1,0 2.2,0a1.1,1.1 0 1,0 -2.2,0M30.4,21.8a1.4,1.4 0 1,0 2.8,0a1.4,1.4 0 1,0 -2.8,0M33.1,5.3a0.9,0.9 0 1,0 1.9,0a0.9,0.9 0 1,0 -1.9,0"/><path fill="none" stroke="#888" stroke-width="0.35" d="M3.3,6.7a0.9,0.9 0 1,0 1.7,0a0.9,0.9 0 1,0 -1.7,0M7.3,7.7a1.5,1.5 0 1,0 3.1,0a1.5,1.5 0 1,0 -3.1,0M17.9,20.7a1.1,1.1 0 1,0 2.3,0a1.1,1.1 0 1,0 -2.3,0M26.5,15.4a1.2,1.2 0 1,0 2.4,0a1.2,1.2 0 1,0 -2.4,0M33.1,13.7a1.1,1.1 0 1,0 2.2,0a1.1,1.1 0 1,0 -2.2,0M7.5,2.3a1.0,1.0 0 1,0 2.1,0a1.0,1.0 0 1,0 -2.1,0M13.5,3.0a1.6,1.6 0 1,0 3.1,0a1.6,1.6 0 1,0 -3.1,0M-0.2,10.2a0.8,0.8 0 1,0 1.7,0a0.8,0.8 0 1,0 -1.7,0M13.5,19.2a1.6,1.6 0 1,0 3.1,0a1.6,1.6 0 1,0 -3.1,0M13.3,16.4a1.5,1.5 0 1,0 3.0,0a1.5,1.5 0 1,0 -3.0,0M9.7,9.1a1.0,1.0 0 1,0 2.1,0a1.0,1.0 0 1,0 -2.1,0M29.5,7.0a1.5,1.5 0 1,0 3.0,0a1.5,1.5 0 1,0 -3.0,0M5.6,15.7a1.2,1.2 0 1,0 2.5,0a1.2,1.2 0 1,0 -2.5,0M-0.2,7.5a1.4,1.4 0 1,0 2.9,0a1.4,1.4 0 1,0 -2.9,0M13.8,1.3a1.1,1.1 0 1,0 2.1,0a1.1,1.1 0 1,0 -2.1,0M19.0,10.8a1.0,1.0 0 1,0 2.0,0a1.0,1.0 0 1,0 -2.0,0"/><path fill="none" stroke="#c0c0c0" stroke-width="0.35" d="M33.7,15.4a1.0,1.0 0 1,0 2.1,0a1.0,1.0 0 1,0 -2.1,0M15.7,17.7a0.8,0.8 0 1,0 1.7,0a0.8,0.8 0 1,0 -1.7,0M17.1,17.5a0.7,0.7 0 1,0 1.4,0a0.7,0.7 0 1,0 -1.4,0M4.2,1.2a1.3,1.3 0 1,0 2.5,0a1.3,1.3 0 1,0 -2.5,0M28.4,15.2a1.2,1.2 0 1,0 2.4,0a1.2,1.2 0 1,0 -2.4,0M0.1,8.4a1.1,1.1 0 1,0 2.1,0a1.1,1.1 0 1,0 -2.1,0M11.5,5.8a1.0,1.0 0 1,0 1.9,0a1.0,1.0 0 1,0 -1.9,0M7.2,1.6a1.2,1.2 0 1,0 2.3,0a1.2,1.2 0 1,0 -2.3,0M-0.1,10.0a1.0,1.0 0 1,0 2.0,0a1.0,1.0 0 1,0 -2.0,0M28.9,16.2a1.1,1.1 0 1,0 2.1,0a1.1,1.1 0 1,0 -2.1,0M-1.1,16.4a1.3,1.3 0 1,0 2.6,0a1.3,1.3 0 1,0 -2.6,0M22.5,22.8a1.1,1.1 0 1,0 2.2,0a1.1,1.1 0 1,0 -2.2,0M13.9,12.3a0.7,0.7 0 1,0 1.4,0a0.7,0.7 0 1,0 -1.4,0M21.9,3.0a1.3,1.3 0 1,0 2.5,0a1.3,1.3 0 1,0 -2.5,0M21.9,15.8a0.8,0.8 0 1,0 1.6,0a0.8,0.8 0 1,0 -1.6,0M24.8,21.7a1.6,1.6 0 1,0 3.2,0a1.6,1.6 0 1,0 -3.2,0"/><path fill="none" stroke="#777" stroke-width="0.35" d="M26.9,3.6a1.4,1.4 0 1,0 2.7,0a1.4,1.4 0 1,0 -2.7,0M5.9,22.5a0.6,0.6 0 1,0 1.3,0a0.6,0.6 0 1,0 -1.3,0M-0.1,9.2a0.7,0.7 0 1,0 1.4,0a0.7,0.7 0 1,0 -1.4,0M34.4,21.4a0.9,0.9 0 1,0 1.7,0a0.9,0.9 0 1,0 -1.7,0M30.8,8.0a1.4,1.4 0 1,0 2.8,0a1.4,1.4 0 1,0 -2.8,0M3.6,21.6a1.0,1.0 0 1,0 2.1,0a1.0,1.0 0 1,0 -2.1,0M8.1,10.2a0.6,0.6 0 1,0 1.2,0a0.6,0.6 0 1,0 -1.2,0M0.2,10.9a1.2,1.2 0 1,0 2.4,0a1.2,1.2 0 1,0 -2.4,0M35.9,12.0a0.9,0.9 0 1,0 1.9,0a0.9,0.9 0 1,0 -1.9,0M8.2,0.5a1.5,1.5 0 1,0 3.0,0a1.5,1.5 0 1,0 -3.0,0M24.5,6.1a1.4,1.4 0 1,0 2.7,0a1.4,1.4 0 1,0 -2.7,0M24.5,14.7a1.1,1.1 0 1,0 2.1,0a1.1,1.1 0 1,0 -2.1,0M30.8,21.3a1.4,1.4 0 1,0 2.7,0a1.4,1.4 0 1,0 -2.7,0M5.6,10.3a1.2,1.2 0 1,0 2.5,0a1.2,1.2 0 1,0 -2.5,0M34.1,11.6a1.1,1.1 0 1,0 2.2,0a1.1,1.1 0 1,0 -2.2,0M1.6,1.5a0.9,0.9 0 1,0 1.7,0a0.9,0.9 0 1,0 -1.7,0"/></pattern></defs>
<path d="M314.2,16.0 C315.4,12.2 316.2,14.7 318.6,13.9 C321.0,13.1 325.2,10.9 328.8,11.0 C332.4,11.1 336.9,13.5 340.5,14.6 C344.1,15.7 347.8,16.5 350.7,17.5 C353.6,18.5 354.8,18.9 358.0,20.4 C361.2,21.9 367.5,24.1 369.7,26.3 C371.9,28.5 371.0,30.7 371.0,33.6 C371.0,36.5 370.4,40.1 369.7,43.8 C369.0,47.4 367.5,52.5 366.8,55.5 C366.1,58.5 366.2,58.4 365.4,61.7 C364.6,65.0 362.3,70.6 362.0,75.1 C361.7,79.6 362.6,84.9 363.7,88.5 C364.8,92.1 367.9,93.6 368.8,96.9 C369.7,100.2 369.9,105.0 368.8,108.6 C367.7,112.2 364.8,116.5 362.0,118.7 C359.2,120.9 355.6,121.7 352.0,122.0 C348.4,122.3 344.5,120.3 340.3,120.3 C336.1,120.3 331.6,121.4 326.9,122.0 C322.1,122.6 316.0,124.0 311.8,123.7 C307.6,123.4 304.5,122.2 301.7,120.3 C298.9,118.3 296.4,114.5 295.0,112.0 C293.6,109.5 293.1,107.0 293.4,105.3 C293.7,103.6 294.5,102.9 296.7,101.9 C298.9,100.9 303.2,100.5 306.8,99.4 C310.4,98.3 316.0,97.0 318.5,95.2 C321.0,93.4 322.1,91.6 321.8,88.5 C321.5,85.4 318.8,80.1 316.8,76.8 C314.8,73.5 312.8,71.7 310.0,68.4 C307.2,65.1 302.3,59.1 300.0,57.0 C297.7,54.9 296.6,56.7 296.0,55.5 C295.4,54.3 295.2,51.5 296.7,49.6 C298.2,47.7 302.6,46.2 305.0,44.0 C307.4,41.8 309.8,41.2 311.3,36.5 C312.8,31.8 313.0,19.8 314.2,16.0Z" fill="#f3f3f3"/>
<path d="M314.2,16.0 C315.4,12.2 316.2,14.7 318.6,13.9 C321.0,13.1 325.2,10.9 328.8,11.0 C332.4,11.1 336.9,13.5 340.5,14.6 C344.1,15.7 347.8,16.5 350.7,17.5 C353.6,18.5 354.8,18.9 358.0,20.4 C361.2,21.9 367.5,24.1 369.7,26.3 C371.9,28.5 371.0,30.7 371.0,33.6 C371.0,36.5 370.4,40.1 369.7,43.8 C369.0,47.4 367.5,52.5 366.8,55.5 C366.1,58.5 366.2,58.4 365.4,61.7 C364.6,65.0 362.3,70.6 362.0,75.1 C361.7,79.6 362.6,84.9 363.7,88.5 C364.8,92.1 367.9,93.6 368.8,96.9 C369.7,100.2 369.9,105.0 368.8,108.6 C367.7,112.2 364.8,116.5 362.0,118.7 C359.2,120.9 355.6,121.7 352.0,122.0 C348.4,122.3 344.5,120.3 340.3,120.3 C336.1,120.3 331.6,121.4 326.9,122.0 C322.1,122.6 316.0,124.0 311.8,123.7 C307.6,123.4 304.5,122.2 301.7,120.3 C298.9,118.3 296.4,114.5 295.0,112.0 C293.6,109.5 293.1,107.0 293.4,105.3 C293.7,103.6 294.5,102.9 296.7,101.9 C298.9,100.9 303.2,100.5 306.8,99.4 C310.4,98.3 316.0,97.0 318.5,95.2 C321.0,93.4 322.1,91.6 321.8,88.5 C321.5,85.4 318.8,80.1 316.8,76.8 C314.8,73.5 312.8,71.7 310.0,68.4 C307.2,65.1 302.3,59.1 300.0,57.0 C297.7,54.9 296.6,56.7 296.0,55.5 C295.4,54.3 295.2,51.5 296.7,49.6 C298.2,47.7 302.6,46.2 305.0,44.0 C307.4,41.8 309.8,41.2 311.3,36.5 C312.8,31.8 313.0,19.8 314.2,16.0Z" fill="url(#ptcpG10)"/>
<path d="M314.2,16.0 C315.4,12.2 316.2,14.7 318.6,13.9 C321.0,13.1 325.2,10.9 328.8,11.0 C332.4,11.1 336.9,13.5 340.5,14.6 C344.1,15.7 347.8,16.5 350.7,17.5 C353.6,18.5 354.8,18.9 358.0,20.4 C361.2,21.9 367.5,24.1 369.7,26.3 C371.9,28.5 371.0,30.7 371.0,33.6 C371.0,36.5 370.4,40.1 369.7,43.8 C369.0,47.4 367.5,52.5 366.8,55.5 C366.1,58.5 366.2,58.4 365.4,61.7 C364.6,65.0 362.3,70.6 362.0,75.1 C361.7,79.6 362.6,84.9 363.7,88.5 C364.8,92.1 367.9,93.6 368.8,96.9 C369.7,100.2 369.9,105.0 368.8,108.6 C367.7,112.2 364.8,116.5 362.0,118.7 C359.2,120.9 355.6,121.7 352.0,122.0 C348.4,122.3 344.5,120.3 340.3,120.3 C336.1,120.3 331.6,121.4 326.9,122.0 C322.1,122.6 316.0,124.0 311.8,123.7 C307.6,123.4 304.5,122.2 301.7,120.3 C298.9,118.3 296.4,114.5 295.0,112.0 C293.6,109.5 293.1,107.0 293.4,105.3 C293.7,103.6 294.5,102.9 296.7,101.9 C298.9,100.9 303.2,100.5 306.8,99.4 C310.4,98.3 316.0,97.0 318.5,95.2 C321.0,93.4 322.1,91.6 321.8,88.5 C321.5,85.4 318.8,80.1 316.8,76.8 C314.8,73.5 312.8,71.7 310.0,68.4 C307.2,65.1 302.3,59.1 300.0,57.0 C297.7,54.9 296.6,56.7 296.0,55.5 C295.4,54.3 295.2,51.5 296.7,49.6 C298.2,47.7 302.6,46.2 305.0,44.0 C307.4,41.8 309.8,41.2 311.3,36.5 C312.8,31.8 313.0,19.8 314.2,16.0Z" fill="url(#ptcpG11)"/>
<path fill="none" stroke="#111" stroke-width="0.90" stroke-linecap="round" d="M309.1 23.0h0M310.1 16.5h0M309.2 37.5h0M310.4 26.3h0M306.5 18.5h0M312.6 26.5h0M306.5 17.0h0M308.3 41.1h0M310.0 8.3h0M308.8 30.0h0M305.5 26.8h0M314.3 21.1h0M304.4 23.4h0M312.4 19.1h0M309.9 29.1h0M309.6 27.3h0M304.6 47.4h0M309.8 40.2h0M309.7 21.0h0M305.0 18.1h0M309.6 20.9h0M314.5 27.6h0M310.3 42.5h0M311.3 12.0h0M312.8 15.8h0M306.1 36.5h0M310.5 13.2h0M311.9 50.9h0M304.2 20.0h0M304.8 26.5h0M308.0 24.0h0M304.4 28.9h0M308.8 45.9h0M309.4 14.0h0M305.4 25.9h0M308.0 21.8h0M313.8 28.1h0M308.6 18.5h0M306.9 33.9h0M313.4 35.0h0M311.5 29.7h0M316.5 37.5h0M313.5 21.9h0M311.9 25.9h0M308.2 20.3h0M313.1 34.6h0M311.9 32.1h0M311.4 32.7h0M312.8 22.4h0M308.4 26.6h0M310.8 31.1h0M308.8 18.0h0M309.8 17.4h0M310.0 36.1h0M305.4 41.6h0M308.3 13.5h0M305.8 10.9h0M310.0 27.8h0M310.7 29.1h0M311.6 24.6h0M306.1 30.5h0M310.4 34.3h0M311.4 24.6h0M311.7 20.2h0M308.9 20.6h0M308.0 16.7h0M307.8 31.1h0M305.5 33.7h0M312.0 28.4h0M307.3 38.0h0M307.9 27.7h0M312.8 20.8h0M312.3 23.0h0M313.8 24.8h0M309.0 31.8h0M310.6 23.3h0M312.4 14.8h0M313.3 37.5h0M309.6 24.6h0M310.4 8.5h0M308.1 36.4h0M308.1 31.1h0M312.3 38.0h0M311.5 27.2h0M313.7 29.4h0M309.4 44.0h0M309.8 29.7h0M308.9 35.6h0M307.2 31.4h0M308.3 48.1h0M362.1 40.6h0M360.9 33.9h0M360.7 49.6h0M356.2 26.2h0M360.4 33.9h0M361.7 37.4h0M362.1 21.5h0M362.2 46.5h0M360.8 50.8h0M361.1 22.3h0M360.0 37.5h0M358.3 61.9h0M359.6 23.1h0M360.8 45.2h0M355.9 40.9h0M364.3 54.4h0M353.8 29.9h0M362.5 34.4h0M359.1 58.8h0M355.9 40.2h0M358.5 12.9h0M356.7 39.0h0M360.7 36.9h0M358.0 42.7h0M355.7 28.1h0M358.2 43.1h0M364.7 54.8h0M354.0 28.0h0M359.7 48.1h0M361.8 52.9h0M354.5 32.6h0M357.7 35.2h0M364.2 50.5h0M362.5 37.2h0M358.6 51.3h0M356.5 51.7h0M356.6 41.4h0M358.4 45.3h0M366.4 28.9h0M360.7 49.4h0M359.5 30.8h0M356.4 44.6h0M359.6 49.8h0M358.6 16.8h0M365.6 48.1h0M363.8 47.6h0M363.6 44.1h0M360.7 58.0h0M363.6 41.5h0M363.6 37.0h0M355.9 45.1h0M361.2 25.4h0M358.2 43.4h0M360.7 28.4h0M362.6 37.5h0M358.8 50.5h0M365.2 38.7h0M358.7 54.8h0M360.5 36.9h0M359.9 28.7h0M363.7 28.7h0M359.2 43.1h0M357.6 45.5h0M361.3 54.6h0M362.1 31.8h0M362.9 48.5h0M359.5 42.5h0M362.4 45.7h0M361.6 41.1h0M363.5 35.9h0M360.3 42.7h0M359.4 48.6h0M361.8 37.7h0M363.1 34.3h0M361.3 28.0h0M367.4 33.6h0M358.0 33.7h0M359.5 45.7h0M360.5 53.6h0M356.8 46.2h0M364.6 35.2h0M364.7 33.1h0M360.0 42.9h0M359.5 34.6h0M359.3 36.5h0M356.8 34.1h0M354.7 44.6h0M359.3 33.3h0M356.9 40.5h0M358.4 44.7h0M353.7 111.6h0M358.9 102.0h0M344.2 98.2h0M347.5 81.1h0M347.9 96.6h0M359.2 118.9h0M344.1 100.4h0M353.9 111.8h0M345.4 106.9h0M337.4 90.7h0M354.5 76.2h0M354.1 94.9h0M347.8 92.7h0M347.4 108.1h0M342.9 96.2h0M348.9 99.8h0M353.9 97.7h0M371.6 88.2h0M349.6 92.1h0M350.1 89.4h0M343.4 113.0h0M351.8 95.8h0M358.5 94.4h0M349.9 107.5h0M354.1 108.1h0M362.4 74.6h0M357.6 86.0h0M344.9 103.2h0M355.1 104.2h0M363.6 103.0h0M355.5 101.8h0M340.5 106.2h0M362.5 105.5h0M349.8 107.7h0M332.2 107.2h0M357.5 97.7h0M347.0 92.8h0M345.9 114.4h0M346.7 88.3h0M349.7 107.2h0M339.3 101.5h0M351.1 110.9h0M352.6 94.7h0M353.7 114.8h0M367.3 108.3h0M342.9 103.7h0M357.9 104.9h0M340.1 101.6h0M348.7 94.8h0M356.8 101.7h0M349.0 95.5h0M355.6 105.7h0M352.8 111.6h0M352.8 104.7h0M352.1 84.1h0M351.7 92.4h0M347.3 91.0h0M347.2 99.2h0M357.3 81.3h0M345.6 100.3h0M352.0 109.9h0M349.6 108.2h0M341.4 85.7h0M353.6 95.1h0M353.3 88.3h0M357.7 105.4h0M356.9 90.8h0M349.1 109.7h0M337.6 89.1h0M368.5 82.4h0M362.2 104.7h0M342.7 99.1h0M355.2 90.9h0M357.3 98.2h0M367.7 93.0h0M348.3 99.2h0M351.7 89.4h0M358.0 89.8h0M351.3 101.5h0M351.3 107.0h0M348.7 114.0h0M357.8 86.1h0M342.0 102.8h0M360.0 101.3h0M342.6 95.0h0M350.5 118.0h0M347.6 107.0h0M358.1 106.3h0M360.6 98.2h0M356.7 121.7h0M347.2 100.4h0M350.0 93.3h0M344.4 96.4h0M362.8 92.4h0M364.9 75.4h0M343.6 89.3h0M347.1 80.8h0M361.7 83.0h0M366.5 86.8h0M357.8 113.1h0M348.6 77.4h0M344.4 111.0h0M358.9 98.3h0M352.7 105.4h0M359.3 104.1h0M353.5 100.6h0M342.9 86.5h0M351.0 100.6h0M356.5 91.2h0M340.5 112.0h0M357.9 109.9h0M345.6 108.1h0M347.5 100.0h0M359.9 93.5h0M355.1 108.1h0M339.4 84.9h0M350.9 102.5h0M338.7 101.9h0M367.4 102.2h0M344.1 98.4h0M343.8 86.5h0M343.0 79.3h0M347.5 92.2h0M346.0 103.8h0M353.2 106.4h0M340.1 115.0h0M360.9 87.8h0M350.7 90.5h0M348.9 103.1h0M356.4 84.3h0M351.2 96.4h0M350.4 80.4h0M340.3 95.7h0M355.8 84.9h0M348.3 109.7h0M354.3 94.9h0M355.0 90.0h0M350.7 93.2h0M328.1 107.7h0M345.1 92.2h0M349.4 106.8h0M343.4 79.2h0M356.5 104.5h0M348.0 103.9h0M364.7 94.4h0M350.6 97.7h0M361.0 88.1h0M356.4 92.3h0M348.9 107.3h0M345.6 104.2h0M365.7 96.7h0M358.7 102.5h0M356.8 107.3h0M342.1 102.4h0M356.5 88.5h0M355.2 93.3h0M350.1 102.4h0M357.7 81.5h0M347.1 93.9h0M350.9 100.5h0M348.7 92.9h0M352.8 106.1h0M353.5 90.0h0M360.5 92.9h0M355.6 102.9h0M360.2 97.7h0M349.1 96.0h0M353.8 88.7h0M355.8 98.6h0M350.8 102.0h0M348.5 111.5h0M358.6 125.0h0M344.3 88.5h0M345.6 90.2h0M348.6 91.8h0M349.2 103.9h0M343.5 93.8h0M356.3 83.7h0M356.5 90.2h0M354.8 93.6h0M342.1 99.4h0M357.3 99.2h0M343.4 108.4h0M334.3 113.0h0M344.3 82.5h0M360.5 96.7h0M349.5 94.9h0M347.1 94.9h0M346.8 108.0h0M356.1 110.9h0M350.3 116.5h0M357.9 97.8h0M351.1 102.3h0M355.4 99.5h0M352.7 113.3h0M350.9 87.4h0M346.5 103.0h0M358.7 121.7h0M356.4 106.4h0M360.6 100.4h0M349.1 98.3h0M346.2 89.6h0M349.2 85.9h0M347.3 111.3h0M337.8 98.4h0M365.3 89.9h0M348.8 91.1h0M363.9 107.7h0M366.0 100.8h0M354.6 105.2h0M350.2 92.6h0M346.1 105.6h0M355.8 98.5h0M352.6 112.1h0M349.7 94.0h0M357.1 97.5h0M355.2 105.7h0M357.1 104.4h0M357.2 99.7h0M353.7 92.6h0M345.1 92.6h0M351.6 92.1h0M358.2 95.9h0M356.6 95.5h0M352.3 117.6h0M342.3 104.4h0M357.8 85.0h0M350.5 79.6h0M357.1 98.6h0M362.7 89.1h0M364.1 110.0h0M352.0 88.0h0M347.0 103.8h0M354.2 90.7h0M343.7 104.6h0M343.8 97.1h0M358.2 109.3h0M348.9 123.1h0M356.4 124.8h0M349.2 99.4h0M346.4 103.3h0M353.9 110.9h0M342.2 93.4h0M347.8 95.8h0M357.2 89.7h0M363.0 99.6h0M365.2 94.7h0M354.3 83.1h0M354.4 103.3h0M357.7 83.0h0M346.6 94.8h0M339.9 83.4h0M356.5 103.4h0M347.0 94.8h0M351.5 91.3h0M355.0 103.3h0M359.1 99.9h0M334.8 94.1h0M336.7 100.7h0M357.9 102.7h0M337.9 74.1h0M334.1 80.7h0M323.3 60.1h0M317.8 58.4h0M341.7 57.1h0M330.1 67.4h0M315.8 86.0h0M325.8 81.9h0M324.4 92.7h0M328.8 85.5h0M323.5 74.7h0M323.4 70.5h0M321.4 55.5h0M321.3 76.8h0M326.2 69.1h0M329.8 43.0h0M336.2 62.6h0M340.6 69.9h0M328.9 78.0h0M323.9 88.7h0M333.2 81.3h0M324.7 74.7h0M311.6 95.0h0M337.8 84.9h0M316.3 67.8h0M327.9 82.6h0M325.9 78.9h0M331.4 99.7h0M331.7 83.6h0M334.0 76.9h0M333.2 54.3h0M330.7 78.3h0M347.3 101.0h0M317.9 83.8h0M337.0 84.4h0M341.6 81.3h0M326.3 105.0h0M332.2 68.0h0M339.0 77.4h0M336.3 87.8h0"/>
<defs><clipPath id="cpG2"><path d="M420.6,8.7 C424.5,6.5 432.2,4.4 438.0,4.4 C443.8,4.4 450.7,7.5 455.5,8.7 C460.3,9.9 462.9,10.2 467.0,11.6 C471.1,13.0 477.6,14.5 480.0,17.4 C482.4,20.3 481.6,24.2 481.6,29.0 C481.6,33.8 481.0,41.6 480.0,46.4 C479.0,51.2 477.0,53.2 475.8,58.0 C474.6,62.8 472.4,71.0 472.9,75.4 C473.4,79.8 477.2,80.3 478.7,84.2 C480.1,88.1 482.1,94.8 481.6,98.7 C481.1,102.6 478.7,105.5 475.8,107.4 C472.9,109.3 468.1,110.3 464.2,110.3 C460.3,110.3 455.9,106.5 452.5,107.4 C449.1,108.4 447.2,113.3 443.8,116.0 C440.4,118.7 437.0,121.8 432.2,123.3 C427.4,124.8 420.1,126.0 414.8,124.8 C409.5,123.6 403.7,118.4 400.3,116.0 C396.9,113.6 394.0,113.2 394.5,110.3 C395.0,107.4 399.3,101.6 403.2,98.7 C407.1,95.8 413.8,95.3 417.7,92.9 C421.6,90.5 425.4,87.6 426.4,84.2 C427.4,80.8 425.9,76.9 423.5,72.5 C421.1,68.1 414.8,63.3 411.9,58.0 C409.0,52.7 406.6,45.4 406.1,40.6 C405.6,35.8 407.6,32.9 409.0,29.0 C410.4,25.1 412.9,20.8 414.8,17.4 C416.7,14.0 416.7,10.9 420.6,8.7Z"/></clipPath>
<pattern id="ptcpG20" width="29" height="31" patternUnits="userSpaceOnUse"><path fill="none" stroke="#9a9a9a" stroke-width="0.35" d="M17.7,0.8a0.9,0.9 0 1,0 1.8,0a0.9,0.9 0 1,0 -1.8,0M5.2,22.8a1.3,1.3 0 1,0 2.6,0a1.3,1.3 0 1,0 -2.6,0M24.9,2.7a1.0,1.0 0 1,0 2.0,0a1.0,1.0 0 1,0 -2.0,0M-0.2,6.8a1.1,1.1 0 1,0 2.2,0a1.1,1.1 0 1,0 -2.2,0M-0.5,6.2a1.2,1.2 0 1,0 2.5,0a1.2,1.2 0 1,0 -2.5,0M14.6,6.8a1.2,1.2 0 1,0 2.4,0a1.2,1.2 0 1,0 -2.4,0M22.1,0.2a1.4,1.4 0 1,0 2.8,0a1.4,1.4 0 1,0 -2.8,0M19.5,10.5a0.8,0.8 0 1,0 1.5,0a0.8,0.8 0 1,0 -1.5,0M27.1,10.4a0.7,0.7 0 1,0 1.4,0a0.7,0.7 0 1,0 -1.4,0M1.6,26.3a1.2,1.2 0 1,0 2.4,0a1.2,1.2 0 1,0 -2.4,0M22.3,22.6a1.1,1.1 0 1,0 2.3,0a1.1,1.1 0 1,0 -2.3,0M27.1,11.7a1.2,1.2 0 1,0 2.3,0a1.2,1.2 0 1,0 -2.3,0M22.6,19.2a1.5,1.5 0 1,0 2.9,0a1.5,1.5 0 1,0 -2.9,0M16.1,21.8a0.6,0.6 0 1,0 1.3,0a0.6,0.6 0 1,0 -1.3,0M5.9,9.0a0.7,0.7 0 1,0 1.4,0a0.7,0.7 0 1,0 -1.4,0M5.9,3.1a0.9,0.9 0 1,0 1.8,0a0.9,0.9 0 1,0 -1.8,0M17.5,11.3a1.0,1.0 0 1,0 1.9,0a1.0,1.0 0 1,0 -1.9,0M4.5,8.3a1.5,1.5 0 1,0 3.1,0a1.5,1.5 0 1,0 -3.1,0"/><path fill="none" stroke="#b0b0b0" stroke-width="0.35" d="M18.0,18.9a0.8,0.8 0 1,0 1.5,0a0.8,0.8 0 1,0 -1.5,0M20.2,5.1a1.0,1.0 0 1,0 2.0,0a1.0,1.0 0 1,0 -2.0,0M27.5,19.8a1.2,1.2 0 1,0 2.3,0a1.2,1.2 0 1,0 -2.3,0M18.5,26.1a1.4,1.4 0 1,0 2.8,0a1.4,1.4 0 1,0 -2.8,0M5.7,1.0a0.9,0.9 0 1,0 1.8,0a0.9,0.9 0 1,0 -1.8,0M6.2,6.5a1.5,1.5 0 1,0 3.1,0a1.5,1.5 0 1,0 -3.1,0M24.2,9.8a1.3,1.3 0 1,0 2.5,0a1.3,1.3 0 1,0 -2.5,0M10.4,28.4a1.1,1.1 0 1,0 2.1,0a1.1,1.1 0 1,0 -2.1,0M6.5,7.6a1.2,1.2 0 1,0 2.3,0a1.2,1.2 0 1,0 -2.3,0M6.1,18.1a1.5,1.5 0 1,0 3.0,0a1.5,1.5 0 1,0 -3.0,0M10.0,6.8a1.6,1.6 0 1,0 3.2,0a1.6,1.6 0 1,0 -3.2,0M14.1,2.8a0.6,0.6 0 1,0 1.3,0a0.6,0.6 0 1,0 -1.3,0M1.8,19.5a1.4,1.4 0 1,0 2.8,0a1.4,1.4 0 1,0 -2.8,0M11.3,2.0a1.0,1.0 0 1,0 2.0,0a1.0,1.0 0 1,0 -2.0,0M27.3,16.4a1.6,1.6 0 1,0 3.1,0a1.6,1.6 0 1,0 -3.1,0M23.6,0.4a1.3,1.3 0 1,0 2.6,0a1.3,1.3 0 1,0 -2.6,0M18.9,16.6a0.9,0.9 0 1,0 1.7,0a0.9,0.9 0 1,0 -1.7,0M17.6,3.5a1.0,1.0 0 1,0 2.1,0a1.0,1.0 0 1,0 -2.1,0"/><path fill="none" stroke="#888" stroke-width="0.35" d="M11.7,29.6a1.5,1.5 0 1,0 3.0,0a1.5,1.5 0 1,0 -3.0,0M6.9,15.5a0.8,0.8 0 1,0 1.6,0a0.8,0.8 0 1,0 -1.6,0M25.6,27.0a0.9,0.9 0 1,0 1.8,0a0.9,0.9 0 1,0 -1.8,0M17.8,18.9a0.8,0.8 0 1,0 1.5,0a0.8,0.8 0 1,0 -1.5,0M20.7,16.7a1.4,1.4 0 1,0 2.8,0a1.4,1.4 0 1,0 -2.8,0M14.5,0.0a0.9,0.9 0 1,0 1.8,0a0.9,0.9 0 1,0 -1.8,0M-0.9,28.8a1.5,1.5 0 1,0 3.0,0a1.5,1.5 0 1,0 -3.0,0M23.5,9.5a0.7,0.7 0 1,0 1.3,0a0.7,0.7 0 1,0 -1.3,0M24.8,29.4a0.7,0.7 0 1,0 1.4,0a0.7,0.7 0 1,0 -1.4,0M12.7,2.1a1.4,1.4 0 1,0 2.7,0a1.4,1.4 0 1,0 -2.7,0M21.1,4.0a1.1,1.1 0 1,0 2.2,0a1.1,1.1 0 1,0 -2.2,0M14.5,8.2a1.5,1.5 0 1,0 2.9,0a1.5,1.5 0 1,0 -2.9,0M11.1,6.6a1.1,1.1 0 1,0 2.3,0a1.1,1.1 0 1,0 -2.3,0M20.3,6.2a0.9,0.9 0 1,0 1.8,0a0.9,0.9 0 1,0 -1.8,0M27.8,20.1a1.0,1.0 0 1,0 2.1,0a1.0,1.0 0 1,0 -2.1,0M14.2,3.8a0.8,0.8 0 1,0 1.6,0a0.8,0.8 0 1,0 -1.6,0M9.0,18.2a0.8,0.8 0 1,0 1.7,0a0.8,0.8 0 1,0 -1.7,0M5.2,2.2a1.2,1.2 0 1,0 2.5,0a1.2,1.2 0 1,0 -2.5,0"/><path fill="none" stroke="#c0c0c0" stroke-width="0.35" d="M5.2,28.1a1.5,1.5 0 1,0 2.9,0a1.5,1.5 0 1,0 -2.9,0M0.8,7.4a1.3,1.3 0 1,0 2.5,0a1.3,1.3 0 1,0 -2.5,0M4.7,4.1a1.5,1.5 0 1,0 3.1,0a1.5,1.5 0 1,0 -3.1,0M15.2,14.7a1.4,1.4 0 1,0 2.8,0a1.4,1.4 0 1,0 -2.8,0M22.7,5.9a0.7,0.7 0 1,0 1.4,0a0.7,0.7 0 1,0 -1.4,0M11.4,13.1a1.1,1.1 0 1,0 2.1,0a1.1,1.1 0 1,0 -2.1,0M19.6,20.9a1.6,1.6 0 1,0 3.2,0a1.6,1.6 0 1,0 -3.2,0M1.9,12.5a0.9,0.9 0 1,0 1.9,0a0.9,0.9 0 1,0 -1.9,0M24.2,7.7a0.8,0.8 0 1,0 1.6,0a0.8,0.8 0 1,0 -1.6,0M12.1,13.1a0.9,0.9 0 1,0 1.8,0a0.9,0.9 0 1,0 -1.8,0M6.2,28.6a1.0,1.0 0 1,0 2.1,0a1.0,1.0 0 1,0 -2.1,0M24.3,17.1a0.7,0.7 0 1,0 1.3,0a0.7,0.7 0 1,0 -1.3,0M27.4,25.9a1.6,1.6 0 1,0 3.1,0a1.6,1.6 0 1,0 -3.1,0M26.1,26.3a0.8,0.8 0 1,0 1.5,0a0.8,0.8 0 1,0 -1.5,0M13.1,6.6a1.0,1.0 0 1,0 2.0,0a1.0,1.0 0 1,0 -2.0,0M0.1,11.7a1.6,1.6 0 1,0 3.2,0a1.6,1.6 0 1,0 -3.2,0M6.6,24.3a1.1,1.1 0 1,0 2.1,0a1.1,1.1 0 1,0 -2.1,0M10.7,29.7a1.6,1.6 0 1,0 3.2,0a1.6,1.6 0 1,0 -3.2,0"/><path fill="none" stroke="#777" stroke-width="0.35" d="M15.4,22.3a0.8,0.8 0 1,0 1.5,0a0.8,0.8 0 1,0 -1.5,0M7.4,30.0a1.2,1.2 0 1,0 2.4,0a1.2,1.2 0 1,0 -2.4,0M15.1,23.2a0.7,0.7 0 1,0 1.3,0a0.7,0.7 0 1,0 -1.3,0M15.5,15.6a1.5,1.5 0 1,0 2.9,0a1.5,1.5 0 1,0 -2.9,0M3.9,29.8a0.7,0.7 0 1,0 1.4,0a0.7,0.7 0 1,0 -1.4,0M4.1,18.4a1.3,1.3 0 1,0 2.6,0a1.3,1.3 0 1,0 -2.6,0M5.3,3.7a1.5,1.5 0 1,0 3.0,0a1.5,1.5 0 1,0 -3.0,0M5.9,18.4a1.2,1.2 0 1,0 2.4,0a1.2,1.2 0 1,0 -2.4,0M11.0,18.1a1.1,1.1 0 1,0 2.2,0a1.1,1.1 0 1,0 -2.2,0M25.8,6.3a1.3,1.3 0 1,0 2.6,0a1.3,1.3 0 1,0 -2.6,0M5.7,12.3a1.3,1.3 0 1,0 2.5,0a1.3,1.3 0 1,0 -2.5,0M7.3,9.8a1.4,1.4 0 1,0 2.7,0a1.4,1.4 0 1,0 -2.7,0M0.5,14.2a1.6,1.6 0 1,0 3.2,0a1.6,1.6 0 1,0 -3.2,0M28.1,2.3a0.8,0.8 0 1,0 1.6,0a0.8,0.8 0 1,0 -1.6,0M6.2,28.9a1.5,1.5 0 1,0 3.0,0a1.5,1.5 0 1,0 -3.0,0M24.7,11.5a0.8,0.8 0 1,0 1.5,0a0.8,0.8 0 1,0 -1.5,0M23.0,21.8a1.2,1.2 0 1,0 2.4,0a1.2,1.2 0 1,0 -2.4,0M28.0,20.3a0.6,0.6 0 1,0 1.2,0a0.6,0.6 0 1,0 -1.2,0"/></pattern><pattern id="ptcpG21" width="37" height="23" patternUnits="userSpaceOnUse"><path fill="none" stroke="#9a9a9a" stroke-width="0.35" d="M29.0,6.9a1.3,1.3 0 1,0 2.5,0a1.3,1.3 0 1,0 -2.5,0M34.0,3.1a0.7,0.7 0 1,0 1.4,0a0.7,0.7 0 1,0 -1.4,0M3.1,12.7a0.9,0.9 0 1,0 1.7,0a0.9,0.9 0 1,0 -1.7,0M21.6,16.5a0.8,0.8 0 1,0 1.6,0a0.8,0.8 0 1,0 -1.6,0M22.4,6.1a1.1,1.1 0 1,0 2.2,0a1.1,1.1 0 1,0 -2.2,0M32.8,19.5a0.7,0.7 0 1,0 1.4,0a0.7,0.7 0 1,0 -1.4,0M15.1,6.4a0.6,0.6 0 1,0 1.2,0a0.6,0.6 0 1,0 -1.2,0M27.7,14.7a0.9,0.9 0 1,0 1.7,0a0.9,0.9 0 1,0 -1.7,0M26.4,12.7a1.0,1.0 0 1,0 2.1,0a1.0,1.0 0 1,0 -2.1,0M-1.1,1.7a1.5,1.5 0 1,0 3.0,0a1.5,1.5 0 1,0 -3.0,0M32.0,12.5a1.4,1.4 0 1,0 2.9,0a1.4,1.4 0 1,0 -2.9,0M20.8,3.4a0.7,0.7 0 1,0 1.5,0a0.7,0.7 0 1,0 -1.5,0M10.0,20.7a1.4,1.4 0 1,0 2.8,0a1.4,1.4 0 1,0 -2.8,0M31.0,20.7a0.8,0.8 0 1,0 1.6,0a0.8,0.8 0 1,0 -1.6,0M7.9,2.4a1.4,1.4 0 1,0 2.8,0a1.4,1.4 0 1,0 -2.8,0M31.5,9.3a1.2,1.2 0 1,0 2.4,0a1.2,1.2 0 1,0 -2.4,0"/><path fill="none" stroke="#b0b0b0" stroke-width="0.35" d="M4.3,21.4a1.5,1.5 0 1,0 2.9,0a1.5,1.5 0 1,0 -2.9,0M34.6,18.6a1.5,1.5 0 1,0 3.0,0a1.5,1.5 0 1,0 -3.0,0M-0.0,16.9a0.9,0.9 0 1,0 1.9,0a0.9,0.9 0 1,0 -1.9,0M33.0,18.5a1.5,1.5 0 1,0 2.9,0a1.5,1.5 0 1,0 -2.9,0M28.6,6.1a1.4,1.4 0 1,0 2.8,0a1.4,1.4 0 1,0 -2.8,0M2.5,20.1a1.5,1.5 0 1,0 2.9,0a1.5,1.5 0 1,0 -2.9,0M7.2,18.8a1.1,1.1 0 1,0 2.1,0a1.1,1.1 0 1,0 -2.1,0M10.5,18.3a0.8,0.8 0 1,0 1.7,0a0.8,0.8 0 1,0 -1.7,0M-0.1,4.4a0.9,0.9 0 1,0 1.9,0a0.9,0.9 0 1,0 -1.9,0M31.1,22.2a0.9,0.9 0 1,0 1.8,0a0.9,0.9 0 1,0 -1.8,0M22.2,9.2a1.6,1.6 0 1,0 3.2,0a1.6,1.6 0 1,0 -3.2,0M19.1,21.6a0.7,0.7 0 1,0 1.4,0a0.7,0.7 0 1,0 -1.4,0M34.3,4.1a1.6,1.6 0 1,0 3.1,0a1.6,1.6 0 1,0 -3.1,0M8.8,2.5a1.0,1.0 0 1,0 2.1,0a1.0,1.0 0 1,0 -2.1,0M25.7,7.2a1.2,1.2 0 1,0 2.4,0a1.2,1.2 0 1,0 -2.4,0M17.7,8.9a1.2,1.2 0 1,0 2.4,0a1.2,1.2 0 1,0 -2.4,0"/><path fill="none" stroke="#888" stroke-width="0.35" d="M8.8,16.3a0.6,0.6 0 1,0 1.2,0a0.6,0.6 0 1,0 -1.2,0M32.9,12.4a1.3,1.3 0 1,0 2.6,0a1.3,1.3 0 1,0 -2.6,0M26.5,15.4a1.0,1.0 0 1,0 1.9,0a1.0,1.0 0 1,0 -1.9,0M1.7,15.3a0.9,0.9 0 1,0 1.9,0a0.9,0.9 0 1,0 -1.9,0M10.3,19.5a1.3,1.3 0 1,0 2.6,0a1.3,1.3 0 1,0 -2.6,0M10.1,7.1a1.0,1.0 0 1,0 2.0,0a1.0,1.0 0 1,0 -2.0,0M14.2,6.8a0.7,0.7 0 1,0 1.5,0a0.7,0.7 0 1,0 -1.5,0M14.3,21.6a1.3,1.3 0 1,0 2.6,0a1.3,1.3 0 1,0 -2.6,0M32.5,14.2a0.9,0.9 0 1,0 1.8,0a0.9,0.9 0 1,0 -1.8,0M19.4,0.0a0.9,0.9 0 1,0 1.8,0a0.9,0.9 0 1,0 -1.8,0M14.7,13.3a1.3,1.3 0 1,0 2.5,0a1.3,1.3 0 1,0 -2.5,0M16.4,10.2a0.8,0.8 0 1,0 1.6,0a0.8,0.8 0 1,0 -1.6,0M16.1,20.7a1.4,1.4 0 1,0 2.8,0a1.4,1.4 0 1,0 -2.8,0M5.2,2.0a1.1,1.1 0 1,0 2.2,0a1.1,1.1 0 1,0 -2.2,0M22.0,7.7a1.4,1.4 0 1,0 2.8,0a1.4,1.4 0 1,0 -2.8,0M27.0,15.5a0.8,0.8 0 1,0 1.6,0a0.8,0.8 0 1,0 -1.6,0"/><path fill="none" stroke="#c0c0c0" stroke-width="0.35" d="M6.5,0.6a0.8,0.8 0 1,0 1.7,0a0.8,0.8 0 1,0 -1.7,0M16.9,19.5a0.7,0.7 0 1,0 1.3,0a0.7,0.7 0 1,0 -1.3,0M14.5,14.5a0.8,0.8 0 1,0 1.6,0a0.8,0.8 0 1,0 -1.6,0M24.9,11.4a0.8,0.8 0 1,0 1.7,0a0.8,0.8 0 1,0 -1.7,0M22.9,0.1a1.4,1.4 0 1,0 2.7,0a1.4,1.4 0 1,0 -2.7,0M27.5,2.5a1.0,1.0 0 1,0 2.1,0a1.0,1.0 0 1,0 -2.1,0M5.4,22.0a1.1,1.1 0 1,0 2.2,0a1.1,1.1 0 1,0 -2.2,0M0.4,5.7a1.4,1.4 0 1,0 2.9,0a1.4,1.4 0 1,0 -2.9,0M15.6,18.4a1.3,1.3 0 1,0 2.5,0a1.3,1.3 0 1,0 -2.5,0M35.0,13.7a1.6,1.6 0 1,0 3.1,0a1.6,1.6 0 1,0 -3.1,0M31.7,14.1a1.3,1.3 0 1,0 2.6,0a1.3,1.3 0 1,0 -2.6,0M17.5,19.1a1.1,1.1 0 1,0 2.3,0a1.1,1.1 0 1,0 -2.3,0M32.1,17.1a1.1,1.1 0 1,0 2.1,0a1.1,1.1 0 1,0 -2.1,0M8.4,5.7a1.2,1.2 0 1,0 2.5,0a1.2,1.2 0 1,0 -2.5,0M27.1,12.0a1.2,1.2 0 1,0 2.5,0a1.2,1.2 0 1,0 -2.5,0M9.3,1.8a0.9,0.9 0 1,0 1.8,0a0.9,0.9 0 1,0 -1.8,0"/><path fill="none" stroke="#777" stroke-width="0.35" d="M8.9,7.4a1.1,1.1 0 1,0 2.3,0a1.1,1.1 0 1,0 -2.3,0M3.8,5.3a1.3,1.3 0 1,0 2.6,0a1.3,1.3 0 1,0 -2.6,0M25.1,1.5a1.0,1.0 0 1,0 2.0,0a1.0,1.0 0 1,0 -2.0,0M19.3,9.6a0.8,0.8 0 1,0 1.6,0a0.8,0.8 0 1,0 -1.6,0M14.4,20.8a1.2,1.2 0 1,0 2.4,0a1.2,1.2 0 1,0 -2.4,0M24.4,19.7a1.4,1.4 0 1,0 2.7,0a1.4,1.4 0 1,0 -2.7,0M13.1,0.1a1.0,1.0 0 1,0 1.9,0a1.0,1.0 0 1,0 -1.9,0M26.3,19.6a1.6,1.6 0 1,0 3.1,0a1.6,1.6 0 1,0 -3.1,0M14.4,17.2a1.1,1.1 0 1,0 2.3,0a1.1,1.1 0 1,0 -2.3,0M21.5,5.1a0.8,0.8 0 1,0 1.6,0a0.8,0.8 0 1,0 -1.6,0M15.2,0.7a0.9,0.9 0 1,0 1.9,0a0.9,0.9 0 1,0 -1.9,0M24.4,9.3a0.8,0.8 0 1,0 1.5,0a0.8,0.8 0 1,0 -1.5,0M16.1,2.9a1.2,1.2 0 1,0 2.4,0a1.2,1.2 0 1,0 -2.4,0M-0.2,9.1a1.2,1.2 0 1,0 2.3,0a1.2,1.2 0 1,0 -2.3,0M0.3,14.8a0.7,0.7 0 1,0 1.5,0a0.7,0.7 0 1,0 -1.5,0M16.1,1.2a1.0,1.0 0 1,0 2.0,0a1.0,1.0 0 1,0 -2.0,0"/></pattern></defs>
<path d="M420.6,8.7 C424.5,6.5 432.2,4.4 438.0,4.4 C443.8,4.4 450.7,7.5 455.5,8.7 C460.3,9.9 462.9,10.2 467.0,11.6 C471.1,13.0 477.6,14.5 480.0,17.4 C482.4,20.3 481.6,24.2 481.6,29.0 C481.6,33.8 481.0,41.6 480.0,46.4 C479.0,51.2 477.0,53.2 475.8,58.0 C474.6,62.8 472.4,71.0 472.9,75.4 C473.4,79.8 477.2,80.3 478.7,84.2 C480.1,88.1 482.1,94.8 481.6,98.7 C481.1,102.6 478.7,105.5 475.8,107.4 C472.9,109.3 468.1,110.3 464.2,110.3 C460.3,110.3 455.9,106.5 452.5,107.4 C449.1,108.4 447.2,113.3 443.8,116.0 C440.4,118.7 437.0,121.8 432.2,123.3 C427.4,124.8 420.1,126.0 414.8,124.8 C409.5,123.6 403.7,118.4 400.3,116.0 C396.9,113.6 394.0,113.2 394.5,110.3 C395.0,107.4 399.3,101.6 403.2,98.7 C407.1,95.8 413.8,95.3 417.7,92.9 C421.6,90.5 425.4,87.6 426.4,84.2 C427.4,80.8 425.9,76.9 423.5,72.5 C421.1,68.1 414.8,63.3 411.9,58.0 C409.0,52.7 406.6,45.4 406.1,40.6 C405.6,35.8 407.6,32.9 409.0,29.0 C410.4,25.1 412.9,20.8 414.8,17.4 C416.7,14.0 416.7,10.9 420.6,8.7Z" fill="#f3f3f3"/>
<path d="M420.6,8.7 C424.5,6.5 432.2,4.4 438.0,4.4 C443.8,4.4 450.7,7.5 455.5,8.7 C460.3,9.9 462.9,10.2 467.0,11.6 C471.1,13.0 477.6,14.5 480.0,17.4 C482.4,20.3 481.6,24.2 481.6,29.0 C481.6,33.8 481.0,41.6 480.0,46.4 C479.0,51.2 477.0,53.2 475.8,58.0 C474.6,62.8 472.4,71.0 472.9,75.4 C473.4,79.8 477.2,80.3 478.7,84.2 C480.1,88.1 482.1,94.8 481.6,98.7 C481.1,102.6 478.7,105.5 475.8,107.4 C472.9,109.3 468.1,110.3 464.2,110.3 C460.3,110.3 455.9,106.5 452.5,107.4 C449.1,108.4 447.2,113.3 443.8,116.0 C440.4,118.7 437.0,121.8 432.2,123.3 C427.4,124.8 420.1,126.0 414.8,124.8 C409.5,123.6 403.7,118.4 400.3,116.0 C396.9,113.6 394.0,113.2 394.5,110.3 C395.0,107.4 399.3,101.6 403.2,98.7 C407.1,95.8 413.8,95.3 417.7,92.9 C421.6,90.5 425.4,87.6 426.4,84.2 C427.4,80.8 425.9,76.9 423.5,72.5 C421.1,68.1 414.8,63.3 411.9,58.0 C409.0,52.7 406.6,45.4 406.1,40.6 C405.6,35.8 407.6,32.9 409.0,29.0 C410.4,25.1 412.9,20.8 414.8,17.4 C416.7,14.0 416.7,10.9 420.6,8.7Z" fill="url(#ptcpG20)"/>
<path d="M420.6,8.7 C424.5,6.5 432.2,4.4 438.0,4.4 C443.8,4.4 450.7,7.5 455.5,8.7 C460.3,9.9 462.9,10.2 467.0,11.6 C471.1,13.0 477.6,14.5 480.0,17.4 C482.4,20.3 481.6,24.2 481.6,29.0 C481.6,33.8 481.0,41.6 480.0,46.4 C479.0,51.2 477.0,53.2 475.8,58.0 C474.6,62.8 472.4,71.0 472.9,75.4 C473.4,79.8 477.2,80.3 478.7,84.2 C480.1,88.1 482.1,94.8 481.6,98.7 C481.1,102.6 478.7,105.5 475.8,107.4 C472.9,109.3 468.1,110.3 464.2,110.3 C460.3,110.3 455.9,106.5 452.5,107.4 C449.1,108.4 447.2,113.3 443.8,116.0 C440.4,118.7 437.0,121.8 432.2,123.3 C427.4,124.8 420.1,126.0 414.8,124.8 C409.5,123.6 403.7,118.4 400.3,116.0 C396.9,113.6 394.0,113.2 394.5,110.3 C395.0,107.4 399.3,101.6 403.2,98.7 C407.1,95.8 413.8,95.3 417.7,92.9 C421.6,90.5 425.4,87.6 426.4,84.2 C427.4,80.8 425.9,76.9 423.5,72.5 C421.1,68.1 414.8,63.3 411.9,58.0 C409.0,52.7 406.6,45.4 406.1,40.6 C405.6,35.8 407.6,32.9 409.0,29.0 C410.4,25.1 412.9,20.8 414.8,17.4 C416.7,14.0 416.7,10.9 420.6,8.7Z" fill="url(#ptcpG21)"/>
<path fill="none" stroke="#111" stroke-width="0.90" stroke-linecap="round" d="M464.3 95.5h0M463.4 88.1h0M463.1 84.4h0M463.0 93.7h0M470.4 92.6h0M468.6 92.0h0M456.9 86.4h0M457.2 86.5h0M466.8 91.2h0M466.4 92.3h0M469.3 96.2h0M459.1 90.9h0M459.8 85.5h0M467.1 96.8h0M463.0 90.0h0M469.5 82.6h0M464.1 92.6h0M459.6 97.6h0M468.8 91.0h0M462.5 90.4h0M459.9 86.8h0M471.3 96.1h0M467.8 87.6h0M475.5 99.9h0M464.1 88.4h0M457.8 93.7h0M457.5 91.9h0M469.5 86.0h0M475.0 98.3h0M455.6 86.3h0M461.3 87.9h0M461.4 81.7h0M461.6 99.2h0M456.3 90.9h0M454.1 94.6h0M461.6 99.8h0M464.2 90.5h0M466.3 90.0h0M455.0 93.2h0M462.0 92.7h0M465.3 90.0h0M465.5 99.0h0M456.4 98.9h0M461.5 88.9h0M477.6 92.6h0M471.2 95.3h0M452.9 92.5h0M459.8 86.6h0M452.4 92.4h0M466.5 93.6h0M461.2 88.8h0M457.1 89.8h0M456.8 91.2h0M462.9 88.4h0M461.6 89.0h0M463.0 94.0h0M464.1 93.9h0M453.1 90.5h0M464.7 94.6h0M453.4 92.6h0M470.2 91.3h0M462.4 93.8h0M464.5 94.7h0M463.4 92.6h0M458.3 91.3h0M470.5 91.2h0M462.0 90.0h0M467.7 88.6h0M468.5 88.3h0M456.7 92.8h0M463.8 93.2h0M469.4 90.4h0M465.7 88.4h0M470.6 94.5h0M466.2 92.8h0M458.3 90.7h0M466.0 91.9h0M463.7 86.6h0M464.1 89.2h0M456.5 91.4h0M451.9 94.8h0M468.1 91.8h0M457.0 88.2h0M462.1 82.3h0M464.1 94.7h0M461.1 90.0h0M464.1 93.4h0M469.6 92.1h0M458.9 90.2h0M464.1 98.2h0M461.1 87.8h0M457.8 83.6h0M465.0 86.6h0M455.6 84.1h0M456.3 94.3h0M455.1 85.0h0M464.1 90.6h0M465.6 95.0h0M462.9 86.8h0M462.3 94.0h0M459.5 86.3h0M469.6 90.3h0M460.5 92.1h0M469.2 93.1h0M461.0 94.7h0M475.9 97.6h0M467.0 87.5h0M485.5 87.2h0M460.8 89.2h0M472.8 93.7h0M454.4 93.1h0M466.3 90.7h0M455.7 89.1h0M460.4 92.1h0M459.9 94.9h0M457.3 85.1h0M458.6 97.4h0M459.6 101.4h0M465.9 87.3h0M458.0 93.0h0M455.9 101.5h0M457.1 94.7h0M471.8 91.6h0M457.0 90.9h0M465.2 95.5h0M463.3 86.4h0M463.3 89.3h0M449.9 89.2h0M454.4 94.3h0M474.7 99.4h0M459.6 90.1h0M467.1 96.2h0M460.5 91.4h0M476.2 91.6h0M460.1 92.5h0M466.5 87.9h0M461.5 87.3h0M461.3 99.5h0M467.5 91.6h0M457.4 90.8h0M469.3 89.8h0M471.7 86.5h0M461.3 99.0h0M451.0 96.8h0M451.9 91.6h0M462.0 95.3h0M444.1 84.3h0M459.6 92.1h0M457.6 91.1h0M455.9 90.4h0M457.9 93.0h0M466.5 97.7h0M459.1 90.7h0M463.3 90.8h0M462.7 85.8h0M465.2 88.3h0M457.3 85.6h0M470.0 91.4h0M469.9 93.1h0M452.8 87.7h0M467.5 88.9h0M456.5 91.3h0M461.9 88.0h0M461.0 90.1h0M447.5 94.0h0M458.1 97.2h0M456.1 85.7h0M470.1 85.7h0M459.2 94.4h0M461.0 85.4h0M464.1 91.2h0M470.7 94.4h0M481.2 85.4h0M462.9 87.7h0M469.9 95.3h0M467.5 88.9h0M458.5 83.9h0M473.3 94.0h0M461.4 95.7h0M467.5 95.9h0M453.3 89.1h0M464.2 93.4h0M468.7 88.0h0M463.8 100.8h0M467.2 95.5h0M462.9 95.1h0M473.8 92.4h0M470.3 88.5h0M466.5 95.6h0M458.5 96.4h0M458.9 88.8h0M463.0 99.7h0M464.9 95.7h0M458.6 92.3h0M455.9 89.7h0M468.0 91.8h0M471.7 91.2h0M461.8 97.1h0M459.1 85.9h0M470.8 93.7h0M424.0 60.9h0M445.2 94.9h0M441.3 48.4h0M439.1 38.9h0M441.6 31.3h0M437.6 27.9h0M432.0 28.8h0M443.7 46.3h0M435.3 69.6h0M449.4 51.4h0M444.4 91.9h0M452.9 69.5h0M419.0 46.9h0M423.9 51.5h0M454.5 46.5h0M456.2 39.5h0M456.9 28.9h0M446.9 68.4h0M456.4 57.5h0M473.3 51.7h0M444.6 4.8h0M471.2 52.6h0M435.9 86.4h0M464.8 62.2h0M432.8 68.4h0M442.5 36.6h0M462.5 17.3h0M456.8 69.2h0M474.6 66.5h0M425.3 43.3h0M450.8 67.1h0M461.8 20.8h0M446.0 79.4h0M468.5 97.2h0M445.3 82.0h0M470.5 84.0h0M458.7 76.6h0M440.5 31.1h0M461.8 53.1h0M449.7 48.4h0M401.9 106.2h0M396.8 105.3h0M407.0 104.6h0M399.1 108.9h0M420.0 102.0h0M414.9 109.4h0M383.8 101.2h0M399.9 108.9h0M406.5 107.4h0M410.1 100.5h0M399.0 98.9h0M403.6 104.4h0M406.4 101.4h0M412.3 109.6h0M417.4 108.6h0M406.5 108.4h0M409.9 101.7h0M415.3 113.6h0M420.8 105.2h0M407.6 107.1h0M405.0 108.1h0M404.0 104.0h0M419.1 105.8h0M405.5 109.4h0M406.2 106.5h0M404.5 98.9h0M404.8 99.3h0M406.7 99.1h0M412.3 108.7h0M407.2 104.5h0M408.3 95.2h0M396.2 104.3h0M407.8 104.6h0M397.0 105.7h0M401.4 99.7h0M407.6 104.0h0M414.6 108.3h0M410.9 106.6h0M398.2 100.3h0M393.2 119.4h0M396.4 104.0h0M402.1 103.6h0M400.3 95.7h0M397.0 98.0h0M404.0 101.6h0M399.5 106.1h0M400.3 109.7h0M401.9 106.1h0M394.4 108.3h0M401.8 107.0h0M407.6 104.1h0M406.7 103.1h0M415.8 109.7h0M408.9 99.1h0M396.2 101.7h0M403.0 107.2h0M397.8 110.9h0M405.0 94.9h0M401.2 92.1h0M399.0 102.3h0M400.1 103.4h0M401.8 102.0h0M417.0 111.1h0M395.9 111.3h0M392.0 100.9h0M417.2 93.8h0M409.6 98.7h0M403.8 104.1h0M418.6 100.9h0M404.4 108.1h0M403.0 100.9h0M404.5 105.5h0M412.1 100.3h0M401.4 106.6h0M403.7 104.1h0M404.9 101.5h0M398.6 107.2h0M396.2 110.8h0M406.7 98.6h0M407.3 105.8h0"/>
<path fill="none" stroke="#888" stroke-width="0.3" d="M437.5,92.4L420.3,74.1M438.9,94.9L422.1,90.1M441.3,91.1L433.9,81.9M435.6,85.5L420.3,74.0M430.2,85.0L408.0,74.2M439.2,84.2L430.8,75.3M437.4,83.8L414.3,77.5M432.5,85.0L418.5,65.6M433.5,95.5L416.7,83.0M432.5,95.2L413.7,77.9M440.7,86.2L429.7,80.0M431.7,82.9L414.2,74.0M430.0,91.5L416.9,84.3M439.8,88.7L424.1,80.5M438.5,82.8L432.4,74.4M439.0,93.8L417.2,87.7M434.4,90.1L424.0,87.3M432.2,95.4L411.8,86.8M441.2,95.2L427.4,87.6M436.3,92.9L415.6,85.6M439.6,94.0L415.5,86.9M431.1,86.8L412.0,71.1M420.2,109.2L413.5,115.4M419.5,101.8L416.5,108.6M430.7,110.0L427.6,115.7M439.6,105.3L434.2,111.7M427.8,108.3L420.9,115.8M411.7,109.2L407.6,119.3M435.2,101.3L422.2,109.8M428.9,107.9L424.5,117.2M414.5,108.4L408.5,117.1M440.0,108.5L430.2,112.3M424.6,107.3L418.5,113.7M422.1,101.5L412.1,113.8M438.8,106.3L432.2,112.9M412.7,102.7L400.1,110.3M420.8,107.9L409.8,114.6M429.9,107.6L421.9,117.9M418.4,104.9L407.4,111.6M418.8,109.5L409.5,116.6M465.2,92.4L471.6,84.7M471.0,94.5L479.9,88.5M469.5,93.2L479.0,87.6M469.6,94.7L478.7,90.4M477.7,95.7L484.8,89.8M467.2,94.7L475.3,91.3M474.0,93.8L480.0,90.2M475.1,92.6L482.3,88.0"/><path fill="none" stroke="#222" stroke-width="0.90" stroke-linecap="round" d="M420.3 74.1h0M422.1 90.1h0M433.9 81.9h0M420.3 74.0h0M408.0 74.2h0M430.8 75.3h0M414.3 77.5h0M418.5 65.6h0M416.7 83.0h0M413.7 77.9h0M429.7 80.0h0M414.2 74.0h0M416.9 84.3h0M424.1 80.5h0M432.4 74.4h0M417.2 87.7h0M424.0 87.3h0M411.8 86.8h0M427.4 87.6h0M415.6 85.6h0M415.5 86.9h0M412.0 71.1h0M413.5 115.4h0M416.5 108.6h0M427.6 115.7h0M434.2 111.7h0M420.9 115.8h0M407.6 119.3h0M422.2 109.8h0M424.5 117.2h0M408.5 117.1h0M430.2 112.3h0M418.5 113.7h0M412.1 113.8h0M432.2 112.9h0M400.1 110.3h0M409.8 114.6h0M421.9 117.9h0M407.4 111.6h0M409.5 116.6h0M471.6 84.7h0M479.9 88.5h0M479.0 87.6h0M478.7 90.4h0M484.8 89.8h0M475.3 91.3h0M480.0 90.2h0M482.3 88.0h0"/>
<path d="M306.7,48 C304.2,40 304.2,30 306.5,17.5 L302.1,12.3 L317.7,3.7 L315.8,20.3 L313.5,17.5 C311,25 310,36 311.6,47.3 Z" fill="#858585"/>
<path d="M358,14.9 L363.5,14.9 C366.5,26 368.5,38 366.6,51 L370.3,56 L356,64.5 L356.5,52 L359.5,53 C361.5,42 361,27 358,14.9 Z" fill="#858585"/>
<path d="M346.7,117.5 L354.1,119.5 L361.5,86.4 L367.5,85.8 L356.8,72.4 L353.0,83 L355.8,84 Z" fill="#858585"/>
<path d="M432.8,95.6 C420,95 410,96 402.3,99.5 L393.9,96.4 L386.2,112.1 L403.2,108.7 L401,104.8 C410,101.5 420,99.5 432.8,99.6 Z" fill="#858585"/>
<path d="M460,90 C470,89.5 480,90 490,90.8 L489.3,84.2 L501.7,97.3 L487.1,99.5 L487.5,97.5 C478,96.5 470,96 460,96.5 Z" fill="#858585"/>
<path fill="none" stroke="#222" stroke-width="0.90" stroke-linecap="round" d="M307.2 32.7h0M308.5 34.8h0M308.1 24.7h0M306.3 37.1h0M304.6 26.0h0M306.4 30.5h0M307.2 26.8h0M309.2 26.1h0M306.3 36.9h0M309.3 38.4h0M308.8 24.8h0M309.7 27.2h0M308.3 22.2h0M307.0 33.2h0M309.0 30.2h0M309.9 29.4h0M304.9 33.5h0M304.8 18.2h0M307.3 33.8h0M308.8 28.0h0M308.5 20.9h0M311.6 28.2h0M363.8 33.9h0M365.7 37.5h0M364.3 32.6h0M363.4 37.7h0M363.9 36.9h0M363.1 45.6h0M364.8 51.1h0M365.0 38.1h0M363.9 45.1h0M364.1 27.6h0M362.9 16.9h0M366.0 49.2h0M362.0 27.3h0M362.8 30.2h0M364.7 38.9h0M364.4 41.0h0M364.6 40.9h0M361.6 30.2h0M364.9 19.4h0M366.1 47.2h0M364.2 39.2h0M363.5 47.6h0M354.0 101.9h0M347.5 109.9h0M349.5 105.5h0M351.1 102.9h0M356.9 86.0h0M351.5 91.1h0M349.6 102.7h0M349.5 89.2h0M349.7 117.0h0M351.6 93.8h0M353.6 87.4h0M352.0 107.5h0M352.0 96.3h0M344.9 108.8h0M351.9 110.6h0M357.1 89.9h0M352.9 89.2h0M354.1 97.0h0M354.3 93.7h0M349.8 89.6h0M351.1 113.3h0M345.0 83.8h0M350.4 91.6h0M347.4 112.9h0M349.5 111.0h0M349.3 78.1h0M353.5 112.5h0M354.0 111.3h0M349.3 87.6h0M353.5 95.1h0M353.8 93.6h0M350.8 102.6h0M351.9 99.9h0M350.3 112.5h0M352.0 94.6h0M352.7 90.5h0M353.4 114.4h0M351.8 89.9h0M347.9 97.6h0M348.5 88.7h0M352.2 94.0h0M353.4 100.5h0M350.6 111.1h0M355.0 97.7h0M349.4 108.4h0M468.3 91.7h0M459.6 97.8h0M470.9 92.7h0M459.5 94.1h0M459.5 93.4h0M465.7 95.4h0M466.6 89.2h0M451.2 96.7h0M463.6 95.1h0M461.0 96.9h0M465.8 91.1h0M467.4 86.7h0M451.5 93.8h0M466.4 90.8h0M463.0 94.0h0M462.4 96.3h0M466.5 93.3h0M457.5 93.1h0M461.3 89.1h0M455.1 92.1h0M457.5 91.5h0M465.4 96.5h0M463.3 93.2h0M460.0 94.8h0M462.1 91.2h0M454.8 94.7h0M454.1 95.7h0M464.3 94.2h0M461.2 95.8h0M458.9 92.3h0M454.8 91.3h0M456.7 88.5h0M468.6 95.2h0M460.5 87.5h0M463.2 94.0h0M462.4 88.7h0M467.1 98.3h0M460.6 88.9h0M462.5 88.9h0M461.1 93.8h0M403.9 104.3h0M411.9 103.2h0M417.2 103.5h0M422.7 101.3h0M417.8 102.2h0M408.5 101.2h0M411.6 100.6h0M396.7 103.2h0M412.3 101.4h0M416.7 98.3h0M417.3 99.1h0M405.2 103.2h0M417.7 102.6h0M408.5 103.1h0"/>
<path fill="none" stroke="#222" stroke-width="1.00" stroke-linecap="round" d="M463.1 9.9h0M463.1 10.2h0M464.0 11.2h0M464.8 11.4h0M464.9 11.2h0M465.7 12.1h0M466.7 11.9h0M467.6 11.7h0M467.5 12.4h0M469.6 13.0h0M469.4 13.7h0M469.4 13.4h0M471.0 14.4h0M471.9 14.0h0M472.2 14.1h0M472.7 14.4h0M473.7 14.9h0M474.8 16.2h0M475.4 15.9h0M476.3 15.7h0M476.3 15.8h0M478.0 16.4h0M477.2 16.6h0M479.0 16.9h0M479.3 17.0h0M480.9 18.3h0"/>
<text x="332.10" y="142.50" font-size="8.4" fill="#111" text-anchor="middle" textLength="88.50" lengthAdjust="spacingAndGlyphs">PC1: opening/closing of</text>
<text x="332.10" y="152.05" font-size="8.4" fill="#111" text-anchor="middle" textLength="90.50" lengthAdjust="spacingAndGlyphs">the N-HEAT domain and</text>
<text x="332.10" y="161.60" font-size="8.4" fill="#111" text-anchor="middle" textLength="85.00" lengthAdjust="spacingAndGlyphs">rotation of the FAT-KIN</text>
<text x="332.10" y="171.15" font-size="8.4" fill="#111" text-anchor="middle" textLength="31.50" lengthAdjust="spacingAndGlyphs">domains</text>
<text x="441.00" y="142.50" font-size="8.4" fill="#111" text-anchor="middle" textLength="46.40" lengthAdjust="spacingAndGlyphs">PC2: Lateral</text>
<text x="441.00" y="152.05" font-size="8.4" fill="#111" text-anchor="middle" textLength="90.20" lengthAdjust="spacingAndGlyphs">expansion/contraction of</text>
<text x="441.00" y="161.60" font-size="8.4" fill="#111" text-anchor="middle" textLength="72.70" lengthAdjust="spacingAndGlyphs">the N- and M-HEAT</text>
<text x="441.00" y="171.15" font-size="8.4" fill="#111" text-anchor="middle" textLength="31.90" lengthAdjust="spacingAndGlyphs">domains</text>
<line x1="530.1" y1="10" x2="680.4" y2="10" stroke="#333" stroke-width="0.6"/>
<line x1="680.4" y1="10" x2="680.4" y2="160" stroke="#444" stroke-width="0.7"/>
<line x1="530.1" y1="10" x2="530.1" y2="11.4" stroke="#666" stroke-width="0.5"/>
<line x1="530.1" y1="160" x2="530.1" y2="158.6" stroke="#bbb" stroke-width="0.5"/>
<text x="530.10" y="168.00" font-size="5.9" fill="#333" text-anchor="middle">0</text>
<line x1="560.2" y1="10" x2="560.2" y2="11.4" stroke="#666" stroke-width="0.5"/>
<line x1="560.2" y1="160" x2="560.2" y2="158.6" stroke="#bbb" stroke-width="0.5"/>
<text x="560.16" y="168.00" font-size="5.9" fill="#333" text-anchor="middle">20</text>
<line x1="590.2" y1="10" x2="590.2" y2="11.4" stroke="#666" stroke-width="0.5"/>
<line x1="590.2" y1="160" x2="590.2" y2="158.6" stroke="#bbb" stroke-width="0.5"/>
<text x="590.22" y="168.00" font-size="5.9" fill="#333" text-anchor="middle">40</text>
<line x1="620.3" y1="10" x2="620.3" y2="11.4" stroke="#666" stroke-width="0.5"/>
<line x1="620.3" y1="160" x2="620.3" y2="158.6" stroke="#bbb" stroke-width="0.5"/>
<text x="620.28" y="168.00" font-size="5.9" fill="#333" text-anchor="middle">60</text>
<line x1="650.3" y1="10" x2="650.3" y2="11.4" stroke="#666" stroke-width="0.5"/>
<line x1="650.3" y1="160" x2="650.3" y2="158.6" stroke="#bbb" stroke-width="0.5"/>
<text x="650.34" y="168.00" font-size="5.9" fill="#333" text-anchor="middle">80</text>
<line x1="680.4" y1="10" x2="680.4" y2="11.4" stroke="#666" stroke-width="0.5"/>
<line x1="680.4" y1="160" x2="680.4" y2="158.6" stroke="#bbb" stroke-width="0.5"/>
<text x="680.40" y="168.00" font-size="5.9" fill="#333" text-anchor="middle">100</text>
<line x1="530.1" y1="160.0" x2="531.5" y2="160.0" stroke="#bbb" stroke-width="0.5"/>
<line x1="680.4" y1="160.0" x2="679" y2="160.0" stroke="#666" stroke-width="0.5"/>
<text x="528.00" y="162.40" font-size="5.9" fill="#333" text-anchor="end">3</text>
<line x1="530.1" y1="143.3" x2="531.5" y2="143.3" stroke="#bbb" stroke-width="0.5"/>
<line x1="680.4" y1="143.3" x2="679" y2="143.3" stroke="#666" stroke-width="0.5"/>
<text x="528.00" y="145.42" font-size="5.9" fill="#333" text-anchor="end">3.5</text>
<line x1="530.1" y1="126.7" x2="531.5" y2="126.7" stroke="#bbb" stroke-width="0.5"/>
<line x1="680.4" y1="126.7" x2="679" y2="126.7" stroke="#666" stroke-width="0.5"/>
<text x="528.00" y="128.75" font-size="5.9" fill="#333" text-anchor="end">4</text>
<line x1="530.1" y1="110.0" x2="531.5" y2="110.0" stroke="#bbb" stroke-width="0.5"/>
<line x1="680.4" y1="110.0" x2="679" y2="110.0" stroke="#666" stroke-width="0.5"/>
<text x="528.00" y="112.07" font-size="5.9" fill="#333" text-anchor="end">4.5</text>
<line x1="530.1" y1="93.3" x2="531.5" y2="93.3" stroke="#bbb" stroke-width="0.5"/>
<line x1="680.4" y1="93.3" x2="679" y2="93.3" stroke="#666" stroke-width="0.5"/>
<text x="528.00" y="95.40" font-size="5.9" fill="#333" text-anchor="end">5</text>
<line x1="530.1" y1="76.6" x2="531.5" y2="76.6" stroke="#bbb" stroke-width="0.5"/>
<line x1="680.4" y1="76.6" x2="679" y2="76.6" stroke="#666" stroke-width="0.5"/>
<text x="528.00" y="78.72" font-size="5.9" fill="#333" text-anchor="end">5.5</text>
<line x1="530.1" y1="59.9" x2="531.5" y2="59.9" stroke="#bbb" stroke-width="0.5"/>
<line x1="680.4" y1="59.9" x2="679" y2="59.9" stroke="#666" stroke-width="0.5"/>
<text x="528.00" y="62.05" font-size="5.9" fill="#333" text-anchor="end">6</text>
<line x1="530.1" y1="43.3" x2="531.5" y2="43.3" stroke="#bbb" stroke-width="0.5"/>
<line x1="680.4" y1="43.3" x2="679" y2="43.3" stroke="#666" stroke-width="0.5"/>
<text x="528.00" y="45.37" font-size="5.9" fill="#333" text-anchor="end">6.5</text>
<line x1="530.1" y1="26.6" x2="531.5" y2="26.6" stroke="#bbb" stroke-width="0.5"/>
<line x1="680.4" y1="26.6" x2="679" y2="26.6" stroke="#666" stroke-width="0.5"/>
<text x="528.00" y="28.70" font-size="5.9" fill="#333" text-anchor="end">7</text>
<line x1="530.1" y1="9.9" x2="531.5" y2="9.9" stroke="#bbb" stroke-width="0.5"/>
<line x1="680.4" y1="9.9" x2="679" y2="9.9" stroke="#666" stroke-width="0.5"/>
<text x="528.00" y="12.02" font-size="5.9" fill="#333" text-anchor="end">7.5</text>
<text x="605.30" y="176.30" font-size="6.3" fill="#222" text-anchor="middle" textLength="78.20" lengthAdjust="spacingAndGlyphs">Transition percentage (%)</text>
<text x="519.00" y="84.90" font-size="6.7" fill="#222" text-anchor="middle" textLength="30.50" lengthAdjust="spacingAndGlyphs" transform="rotate(-90 519.00 84.90)">RMSD (Å)</text>
<path d="M530.1,25.9 C532.6,27.6 540.3,32.3 545.1,35.9 C550.0,39.6 554.2,44.1 559.3,47.9 C564.3,51.8 570.6,55.8 575.2,58.9 C579.7,62.1 582.1,64.2 586.6,67.0 C591.1,69.7 597.8,73.0 602.1,75.3 C606.4,77.6 608.9,78.8 612.3,80.6 C615.7,82.4 619.1,84.0 622.5,86.0 C626.0,87.9 629.5,90.6 632.9,92.3 C636.3,94.0 639.7,94.7 643.1,96.0 C646.5,97.2 649.9,98.7 653.3,100.0 C656.8,101.2 660.3,102.6 663.7,103.6 C667.1,104.7 671.2,105.9 673.9,106.3 C676.7,106.8 679.3,106.3 680.4,106.3" fill="none" stroke="#f2a98a" stroke-width="0.8" stroke-linecap="round"/>
<path d="M530.1,112.6 C531.8,113.1 536.9,114.8 540.3,115.3 C543.8,115.9 547.3,116.1 550.7,116.0 C554.1,115.9 557.5,115.4 560.9,114.6 C564.3,113.9 567.9,112.7 571.3,111.3 C574.7,109.9 578.1,108.2 581.5,106.3 C584.9,104.4 588.3,102.3 591.7,100.0 C595.2,97.6 598.7,94.9 602.1,92.3 C605.5,89.7 608.9,87.0 612.3,84.6 C615.7,82.2 619.1,79.9 622.5,78.0 C626.0,76.0 629.5,74.8 632.9,73.0 C636.3,71.1 639.7,68.7 643.1,66.6 C646.5,64.6 649.6,62.8 653.3,60.6 C657.1,58.4 660.9,55.7 665.4,53.3 C669.9,50.8 677.9,47.2 680.4,45.9" fill="none" stroke="#b6d88f" stroke-width="0.8" stroke-linecap="round"/>
<path d="M530.1,104.0 C531.8,105.0 536.9,108.3 540.3,110.0 C543.8,111.6 547.3,112.9 550.7,114.0 C554.1,115.1 557.5,116.2 560.9,116.6 C564.3,117.1 567.9,116.9 571.3,116.6 C574.7,116.4 578.1,116.4 581.5,115.3 C584.9,114.2 588.3,111.7 591.7,110.0 C595.2,108.3 598.7,106.4 602.1,105.0 C605.5,103.5 608.9,102.8 612.3,101.3 C615.7,99.8 619.1,97.8 622.5,96.0 C626.0,94.1 629.5,91.8 632.9,90.3 C636.3,88.8 639.7,88.1 643.1,87.0 C646.5,85.8 649.9,84.6 653.3,83.3 C656.8,82.0 659.2,81.2 663.7,79.3 C668.2,77.4 677.6,73.2 680.4,72.0" fill="none" stroke="#8cc4ea" stroke-width="0.8" stroke-linecap="round"/>
<path d="M530.1,109.0 C531.8,110.0 536.9,113.4 540.3,115.3 C543.8,117.2 547.3,119.0 550.7,120.3 C554.1,121.6 557.5,122.6 560.9,123.0 C564.3,123.3 567.9,122.8 571.3,122.3 C574.7,121.9 578.1,121.5 581.5,120.3 C584.9,119.1 588.3,117.6 591.7,115.3 C595.2,113.0 598.7,109.5 602.1,106.3 C605.5,103.1 608.9,99.6 612.3,96.0 C615.7,92.4 619.1,88.2 622.5,84.6 C626.0,81.0 629.5,77.5 632.9,74.3 C636.3,71.1 639.7,68.5 643.1,65.3 C646.5,62.1 649.6,58.6 653.3,54.9 C657.1,51.3 660.9,47.2 665.4,43.3 C669.9,39.3 677.9,33.3 680.4,31.3" fill="none" stroke="#D95319" stroke-width="1.1" stroke-linecap="round"/>
<path d="M530.1,45.9 C531.8,48.3 536.9,55.2 540.3,59.9 C543.8,64.7 547.3,69.8 550.7,74.3 C554.1,78.8 557.5,83.1 560.9,87.0 C564.3,90.8 567.9,94.1 571.3,97.3 C574.7,100.5 578.1,102.9 581.5,106.3 C584.9,109.8 588.3,114.8 591.7,118.0 C595.2,121.2 598.7,123.5 602.1,125.6 C605.5,127.8 608.9,129.4 612.3,130.7 C615.7,131.9 619.1,132.8 622.5,133.3 C626.0,133.8 629.5,133.9 632.9,133.7 C636.3,133.4 639.7,132.7 643.1,132.0 C646.5,131.3 649.9,130.4 653.3,129.3 C656.8,128.3 659.2,127.3 663.7,125.6 C668.2,124.0 677.6,120.6 680.4,119.6" fill="none" stroke="#77AC30" stroke-width="1.1" stroke-linecap="round"/>
<path d="M530.1,71.6 C531.8,74.0 536.9,81.5 540.3,86.0 C543.8,90.5 547.3,94.6 550.7,98.6 C554.1,102.6 557.5,106.1 560.9,110.0 C564.3,113.8 567.9,118.4 571.3,121.6 C574.7,124.9 578.1,127.2 581.5,129.3 C584.9,131.5 588.3,133.2 591.7,134.7 C595.2,136.2 598.7,137.4 602.1,138.3 C605.5,139.2 609.3,139.7 612.3,140.0 C615.3,140.3 617.4,140.5 620.0,140.0 C622.6,139.5 624.8,138.1 627.8,137.0 C630.8,135.9 634.6,134.8 638.0,133.3 C641.4,131.8 644.8,129.9 648.2,128.0 C651.7,126.0 655.2,123.5 658.6,121.6 C662.0,119.8 665.2,118.6 668.8,116.6 C672.5,114.7 678.5,111.1 680.4,110.0" fill="none" stroke="#0072BD" stroke-width="1.1" stroke-linecap="round"/>
<text x="560.20" y="24.80" font-size="8.8" fill="#111" textLength="95.80" lengthAdjust="spacingAndGlyphs">RMSD from intermediates</text>
<text x="563.8" y="33.6" font-size="8.8" fill="#111" textLength="88.7" lengthAdjust="spacingAndGlyphs"><tspan font-style="italic">7k19</tspan> &lt;--&gt; <tspan font-style="italic">7k0y</tspan> pathway</text>
<text x="563.80" y="47.80" font-size="8.8" fill="#0072BD" textLength="18.20" lengthAdjust="spacingAndGlyphs">7k1n</text>
<text x="600.80" y="47.80" font-size="8.8" fill="#D95319" textLength="17.80" lengthAdjust="spacingAndGlyphs">8ez9</text>
<text x="635.70" y="47.80" font-size="8.8" fill="#77AC30" textLength="18.20" lengthAdjust="spacingAndGlyphs">8bhy</text>
<text x="5.60" y="195.80" font-size="9.7" fill="#111" font-weight="bold">(b)</text>
<defs><clipPath id="cpB1"><path d="M44.9,201.7 C46.4,200.2 48.5,199.3 51.3,199.1 C54.1,198.9 58.5,199.6 61.5,200.4 C64.5,201.2 66.6,203.1 69.2,204.2 C71.8,205.3 74.3,206.4 76.9,206.8 C79.5,207.2 81.8,206.2 84.6,206.8 C87.4,207.4 91.7,208.9 93.6,210.6 C95.5,212.3 96.2,214.8 96.2,217.0 C96.2,219.2 94.2,220.9 93.6,223.5 C92.9,226.1 93.1,229.6 92.3,232.4 C91.5,235.2 89.8,237.5 88.5,240.1 C87.2,242.7 85.7,245.5 84.6,247.8 C83.5,250.2 82.2,251.8 82.0,254.2 C81.8,256.5 82.2,260.2 83.3,261.9 C84.4,263.6 87.0,263.2 88.5,264.5 C90.0,265.8 91.2,267.7 92.3,269.6 C93.4,271.5 95.1,273.6 94.9,276.0 C94.7,278.4 93.2,281.8 91.0,283.7 C88.8,285.6 84.8,287.2 82.0,287.6 C79.2,288.0 76.8,287.0 74.4,286.3 C72.1,285.6 69.8,283.9 67.9,283.7 C66.0,283.5 64.9,284.1 62.8,285.0 C60.7,285.9 57.9,288.2 55.1,288.8 C52.3,289.4 49.4,289.2 46.2,288.8 C43.0,288.4 38.5,287.8 35.9,286.3 C33.2,284.8 31.1,282.2 30.3,279.9 C29.5,277.5 29.4,274.3 30.8,272.2 C32.2,270.1 35.5,268.3 38.5,267.0 C41.5,265.7 45.9,265.8 48.7,264.5 C51.5,263.2 53.8,261.5 55.1,259.4 C56.4,257.3 57.0,253.8 56.4,251.7 C55.8,249.5 53.4,248.0 51.3,246.5 C49.2,245.0 46.0,244.2 43.6,242.7 C41.2,241.2 38.9,239.5 37.2,237.6 C35.5,235.7 33.5,233.1 33.3,231.2 C33.1,229.3 34.6,227.5 35.9,226.0 C37.2,224.5 39.9,223.9 41.0,222.2 C42.1,220.5 42.1,218.2 42.3,215.8 C42.5,213.5 41.9,210.4 42.3,208.1 C42.7,205.8 43.4,203.2 44.9,201.7Z"/></clipPath></defs>
<path d="M44.9,201.7 C46.4,200.2 48.5,199.3 51.3,199.1 C54.1,198.9 58.5,199.6 61.5,200.4 C64.5,201.2 66.6,203.1 69.2,204.2 C71.8,205.3 74.3,206.4 76.9,206.8 C79.5,207.2 81.8,206.2 84.6,206.8 C87.4,207.4 91.7,208.9 93.6,210.6 C95.5,212.3 96.2,214.8 96.2,217.0 C96.2,219.2 94.2,220.9 93.6,223.5 C92.9,226.1 93.1,229.6 92.3,232.4 C91.5,235.2 89.8,237.5 88.5,240.1 C87.2,242.7 85.7,245.5 84.6,247.8 C83.5,250.2 82.2,251.8 82.0,254.2 C81.8,256.5 82.2,260.2 83.3,261.9 C84.4,263.6 87.0,263.2 88.5,264.5 C90.0,265.8 91.2,267.7 92.3,269.6 C93.4,271.5 95.1,273.6 94.9,276.0 C94.7,278.4 93.2,281.8 91.0,283.7 C88.8,285.6 84.8,287.2 82.0,287.6 C79.2,288.0 76.8,287.0 74.4,286.3 C72.1,285.6 69.8,283.9 67.9,283.7 C66.0,283.5 64.9,284.1 62.8,285.0 C60.7,285.9 57.9,288.2 55.1,288.8 C52.3,289.4 49.4,289.2 46.2,288.8 C43.0,288.4 38.5,287.8 35.9,286.3 C33.2,284.8 31.1,282.2 30.3,279.9 C29.5,277.5 29.4,274.3 30.8,272.2 C32.2,270.1 35.5,268.3 38.5,267.0 C41.5,265.7 45.9,265.8 48.7,264.5 C51.5,263.2 53.8,261.5 55.1,259.4 C56.4,257.3 57.0,253.8 56.4,251.7 C55.8,249.5 53.4,248.0 51.3,246.5 C49.2,245.0 46.0,244.2 43.6,242.7 C41.2,241.2 38.9,239.5 37.2,237.6 C35.5,235.7 33.5,233.1 33.3,231.2 C33.1,229.3 34.6,227.5 35.9,226.0 C37.2,224.5 39.9,223.9 41.0,222.2 C42.1,220.5 42.1,218.2 42.3,215.8 C42.5,213.5 41.9,210.4 42.3,208.1 C42.7,205.8 43.4,203.2 44.9,201.7Z" fill="#0630ff"/>
<path fill="none" stroke="#0630ff" stroke-width="2.00" stroke-linecap="round" d="M48.4 201.2h0M62.4 200.6h0M68.8 203.5h0M72.9 204.9h0M74.8 206.1h0M80.7 207.2h0M86.9 207.2h0M89.1 208.8h0M93.6 210.5h0M96.9 218.6h0M95.1 224.0h0M93.4 226.3h0M93.1 230.4h0M88.7 239.6h0M88.1 242.9h0M85.2 248.3h0M83.0 259.7h0M84.4 263.4h0M86.2 263.4h0M91.1 268.2h0M92.2 269.0h0M93.7 271.6h0M94.4 277.4h0M93.5 279.2h0M90.8 283.5h0M75.3 286.6h0M67.4 284.6h0M65.8 283.1h0M65.9 283.9h0M61.5 285.0h0M60.5 284.3h0M48.3 289.7h0M38.5 286.4h0M36.5 284.4h0M33.6 285.0h0M31.5 281.1h0M30.5 276.7h0M29.8 273.0h0M34.1 271.7h0M35.5 267.2h0M45.9 263.9h0M51.9 262.1h0M54.9 259.6h0M55.9 253.7h0M52.3 250.9h0M40.1 240.3h0M38.7 238.8h0M36.5 237.5h0M36.0 234.8h0M33.1 231.2h0M35.3 224.2h0M37.3 225.5h0M39.5 222.9h0M40.9 215.5h0M43.1 209.5h0M43.9 204.7h0M44.5 203.5h0"/>
<path fill="none" stroke="#0630ff" stroke-width="2.60" stroke-linecap="round" d="M45.8 200.7h0M45.2 201.5h0M51.2 199.4h0M57.4 199.5h0M64.1 202.8h0M70.4 205.3h0M77.5 208.0h0M83.8 207.2h0M91.4 209.3h0M94.4 211.8h0M96.7 217.5h0M91.1 234.1h0M89.6 238.5h0M85.0 245.4h0M84.0 250.5h0M82.0 251.7h0M82.5 253.0h0M81.0 255.6h0M83.1 262.0h0M88.2 263.7h0M89.9 265.3h0M94.3 276.9h0M86.4 285.0h0M82.2 287.4h0M79.9 287.2h0M74.4 286.4h0M73.4 286.4h0M59.1 286.6h0M56.9 288.3h0M54.5 289.4h0M43.1 287.4h0M30.3 281.0h0M30.2 277.9h0M37.5 266.7h0M42.7 267.5h0M50.7 261.7h0M53.4 261.8h0M55.0 258.1h0M55.6 255.6h0M53.3 247.5h0M35.4 232.2h0M33.2 232.0h0M34.3 228.5h0M34.1 226.2h0M42.8 207.7h0M43.3 206.2h0"/>
<path fill="none" stroke="#0630ff" stroke-width="3.20" stroke-linecap="round" d="M49.4 199.5h0M53.2 198.7h0M58.4 199.3h0M61.7 200.5h0M67.3 203.8h0M77.0 206.1h0M81.2 206.8h0M95.2 214.6h0M95.6 214.7h0M94.4 221.6h0M93.4 223.2h0M92.7 228.5h0M92.3 233.3h0M89.5 236.3h0M87.1 245.6h0M82.4 254.1h0M83.1 258.3h0M86.8 264.3h0M89.6 265.8h0M95.2 273.3h0M93.9 273.2h0M91.6 281.2h0M89.2 285.0h0M84.0 285.9h0M81.0 287.5h0M71.9 286.3h0M70.3 284.0h0M64.5 284.4h0M52.3 290.0h0M50.4 288.9h0M46.0 287.9h0M41.6 288.1h0M32.7 282.6h0M31.5 273.9h0M34.1 270.1h0M41.5 264.8h0M49.0 264.3h0M55.8 252.8h0M52.8 249.0h0M51.7 246.8h0M48.1 245.1h0M46.9 243.9h0M45.5 244.7h0M44.0 244.0h0M41.1 241.3h0M36.4 236.2h0M38.2 225.2h0M39.8 221.5h0M41.3 221.1h0M41.8 218.9h0M41.2 217.8h0M41.7 213.2h0M41.2 211.1h0"/>
<g clip-path="url(#cpB1)">
<path fill="none" stroke="#000850" stroke-width="1.50" stroke-linecap="round" opacity="0.55" d="M69.0 254.2h0M73.9 243.9h0M70.5 242.2h0M67.9 236.4h0M73.7 254.6h0M68.1 261.0h0M68.5 258.8h0M69.5 241.8h0M75.7 247.8h0M71.9 238.2h0M75.2 250.3h0M66.9 235.2h0M69.4 248.7h0M72.2 251.7h0M72.1 254.2h0M69.5 237.5h0M73.5 258.2h0M72.0 249.9h0M69.0 254.0h0M70.0 252.9h0M68.5 257.1h0M72.6 249.5h0M69.0 252.6h0M67.1 262.8h0M70.1 245.5h0"/>
<path fill="none" stroke="#000850" stroke-width="2.50" stroke-linecap="round" opacity="0.55" d="M71.6 240.3h0M75.1 256.8h0M74.9 234.1h0M74.0 243.7h0M72.2 259.1h0M68.7 260.8h0M70.8 252.4h0M70.9 242.7h0M72.2 246.1h0M69.5 257.8h0M69.2 255.0h0M71.7 253.6h0M72.8 262.8h0M70.6 251.9h0M76.8 230.2h0M71.7 246.4h0M70.1 270.7h0M70.5 254.0h0M69.7 251.2h0M73.7 253.0h0M69.3 248.1h0M72.8 254.2h0M69.9 246.0h0M72.4 252.2h0M68.2 251.7h0"/>
<path fill="none" stroke="#000850" stroke-width="3.50" stroke-linecap="round" opacity="0.55" d="M71.3 235.0h0M72.9 248.5h0M70.6 256.1h0M68.5 245.7h0M66.2 245.7h0M73.2 253.7h0M69.1 239.0h0M67.9 228.4h0M66.5 261.9h0M66.0 263.7h0M72.9 239.1h0M68.8 242.6h0M69.0 248.3h0M69.3 252.6h0M68.2 246.0h0M70.3 268.6h0M68.9 235.2h0M75.2 250.6h0M68.0 241.5h0M67.8 255.4h0M73.1 250.6h0M68.4 255.1h0M70.6 240.2h0M71.5 241.9h0M70.6 241.3h0"/>
<path fill="none" stroke="#000850" stroke-width="1.50" stroke-linecap="round" opacity="0.55" d="M60.1 214.1h0M71.9 218.2h0M63.8 214.1h0M65.8 214.4h0M59.3 214.1h0M56.5 215.7h0M64.8 212.8h0M64.3 217.4h0M65.3 217.4h0M50.8 212.5h0M56.8 212.4h0M59.4 209.5h0M64.3 216.9h0M66.3 217.5h0M53.1 215.0h0M44.5 214.7h0M58.3 219.1h0M58.1 210.4h0M62.4 217.3h0M61.3 222.4h0"/>
<path fill="none" stroke="#000850" stroke-width="2.50" stroke-linecap="round" opacity="0.55" d="M48.4 214.9h0M64.0 219.3h0M59.2 214.7h0M59.9 215.7h0M65.5 215.5h0M57.6 220.0h0M64.0 214.1h0M62.2 223.4h0M52.6 215.3h0M55.1 218.0h0M70.8 219.5h0M62.8 211.9h0M66.7 209.9h0M61.0 211.8h0M59.9 212.0h0M62.7 216.4h0M65.6 211.5h0M56.6 219.9h0M62.3 213.3h0M54.0 211.7h0"/>
<path fill="none" stroke="#000850" stroke-width="3.50" stroke-linecap="round" opacity="0.55" d="M53.1 215.6h0M51.8 214.1h0M46.6 212.7h0M45.5 216.3h0M66.9 215.2h0M69.2 212.8h0M56.8 211.7h0M60.6 212.3h0M64.1 213.6h0M56.1 212.8h0M65.9 213.5h0M50.0 216.5h0M70.0 212.4h0M58.2 218.6h0M68.8 214.8h0M63.8 222.7h0M58.8 211.4h0M73.0 217.8h0M71.9 215.7h0M47.7 212.3h0"/>
<path fill="none" stroke="#000850" stroke-width="1.50" stroke-linecap="round" opacity="0.55" d="M44.7 237.1h0M43.2 241.1h0M42.9 239.0h0M48.7 241.8h0M49.5 235.7h0M45.2 241.0h0M46.8 242.1h0M52.6 240.8h0M40.3 241.8h0M43.3 243.5h0M43.4 242.1h0M47.7 241.6h0"/>
<path fill="none" stroke="#000850" stroke-width="2.50" stroke-linecap="round" opacity="0.55" d="M50.7 240.7h0M51.0 243.2h0M39.4 242.2h0M36.3 240.5h0M42.7 242.8h0M40.7 244.4h0M43.9 241.4h0M37.8 240.4h0M50.0 241.8h0M51.4 241.4h0M48.7 239.8h0M48.9 240.1h0"/>
<path fill="none" stroke="#000850" stroke-width="3.50" stroke-linecap="round" opacity="0.55" d="M48.8 241.8h0M44.1 239.8h0M44.6 240.3h0M52.0 244.3h0M47.6 238.9h0M48.0 243.6h0M43.6 237.6h0M41.2 242.4h0M43.7 246.2h0M38.6 240.9h0M44.2 241.6h0M52.7 236.8h0"/>
<path fill="none" stroke="#000850" stroke-width="1.50" stroke-linecap="round" opacity="0.55" d="M75.0 274.3h0M66.1 275.9h0M73.7 277.5h0M70.8 279.1h0M70.4 272.3h0M69.6 274.8h0M79.0 272.5h0M85.0 270.0h0M66.7 268.2h0M65.7 272.6h0M69.9 275.4h0M82.1 273.4h0M75.3 273.3h0M78.3 271.9h0"/>
<path fill="none" stroke="#000850" stroke-width="2.50" stroke-linecap="round" opacity="0.55" d="M75.5 277.1h0M79.1 264.6h0M77.4 268.4h0M75.4 273.7h0M84.4 271.1h0M82.6 268.8h0M71.4 275.9h0M66.0 278.9h0M67.6 278.5h0M81.7 281.9h0M76.0 273.0h0M74.6 269.4h0M73.4 274.9h0M72.2 273.9h0"/>
<path fill="none" stroke="#000850" stroke-width="3.50" stroke-linecap="round" opacity="0.55" d="M78.2 283.5h0M76.6 276.7h0M70.9 279.4h0M64.7 273.5h0M74.3 273.4h0M74.9 270.0h0M74.0 275.0h0M76.2 277.4h0M71.4 268.6h0M73.7 275.4h0M70.0 277.4h0M87.2 271.6h0M72.9 278.7h0M58.9 270.2h0"/>
<path fill="none" stroke="#000850" stroke-width="1.50" stroke-linecap="round" opacity="0.55" d="M84.3 226.1h0M87.0 229.5h0M82.0 220.2h0M84.9 217.5h0M88.1 232.5h0M89.1 220.8h0M81.7 228.8h0M90.2 234.7h0M89.8 218.9h0M83.3 215.3h0M88.2 234.9h0M91.2 224.2h0"/>
<path fill="none" stroke="#000850" stroke-width="2.50" stroke-linecap="round" opacity="0.55" d="M91.4 225.1h0M83.4 227.1h0M86.5 233.4h0M87.7 231.3h0M84.3 234.7h0M82.2 223.0h0M83.6 229.9h0M83.5 225.8h0M83.3 225.2h0M85.4 229.5h0M78.9 230.1h0M85.8 228.9h0"/>
<path fill="none" stroke="#000850" stroke-width="3.50" stroke-linecap="round" opacity="0.55" d="M89.3 227.5h0M85.5 222.6h0M89.1 215.7h0M86.7 231.1h0M88.7 235.4h0M76.0 229.5h0M80.4 221.2h0M82.3 224.6h0M85.7 223.6h0M89.9 227.3h0M84.8 231.9h0M83.5 234.1h0"/>
<path fill="none" stroke="#000850" stroke-width="1.50" stroke-linecap="round" opacity="0.55" d="M35.5 277.3h0M36.3 280.2h0M43.1 280.9h0M37.9 281.7h0M37.1 280.1h0M34.3 275.7h0M35.6 277.1h0M51.1 273.6h0M35.5 271.2h0M37.2 277.7h0"/>
<path fill="none" stroke="#000850" stroke-width="2.50" stroke-linecap="round" opacity="0.55" d="M34.3 273.6h0M41.0 280.6h0M34.9 279.3h0M44.8 281.3h0M37.2 284.2h0M31.8 279.4h0M38.4 281.9h0M36.6 277.7h0M40.1 277.1h0M37.8 271.6h0"/>
<path fill="none" stroke="#000850" stroke-width="3.50" stroke-linecap="round" opacity="0.55" d="M36.9 279.5h0M38.3 277.9h0M36.5 275.4h0M38.2 275.2h0M40.7 281.5h0M39.7 274.9h0M32.3 281.0h0M51.3 273.3h0M42.3 281.8h0M43.0 272.7h0"/>
<path fill="none" stroke="#000850" stroke-width="1.20" stroke-linecap="round" opacity="0.45" d="M70.8 256.5h0M80.6 213.3h0M57.5 202.1h0M65.1 209.7h0M57.0 229.3h0M39.0 221.0h0M91.7 203.9h0M82.0 263.8h0M82.2 235.3h0M63.1 208.3h0M53.1 279.5h0M90.5 249.8h0M57.1 224.4h0M88.9 240.7h0M90.0 261.0h0M84.7 209.6h0M37.9 283.3h0M52.1 245.8h0M58.0 201.3h0M90.1 225.7h0M70.9 238.0h0M55.1 228.0h0M82.3 278.3h0M88.1 221.0h0M85.9 220.8h0M87.8 286.3h0M61.6 208.6h0M90.3 248.0h0M73.6 283.4h0M88.3 288.7h0M78.5 277.3h0M54.6 248.1h0M67.5 213.8h0M73.1 236.9h0M38.4 205.5h0M64.5 210.8h0M88.4 250.8h0M60.2 225.7h0M78.3 201.2h0M41.6 238.6h0M60.0 246.7h0M39.6 261.2h0M45.5 226.6h0M60.3 227.2h0M51.7 211.9h0"/>
<path fill="none" stroke="#000850" stroke-width="1.20" stroke-linecap="round" opacity="0.8" d="M81.5 268.8h0M88.2 217.3h0M86.9 261.2h0M34.2 227.4h0M86.9 279.8h0M31.4 256.1h0M76.3 249.3h0M65.4 220.3h0M92.9 286.7h0M73.1 226.6h0M84.2 285.3h0M48.3 236.8h0M88.2 229.1h0M93.4 269.0h0M57.7 214.3h0M87.1 209.9h0M75.8 223.2h0M77.8 244.1h0M49.8 223.6h0M83.3 246.1h0M37.9 245.4h0M94.7 279.4h0M42.2 219.4h0M39.0 259.0h0M60.8 205.9h0M90.7 205.7h0M90.1 199.7h0M69.0 247.3h0M58.2 250.1h0M41.1 287.8h0M42.8 215.2h0M78.7 201.7h0M82.4 212.6h0M89.5 254.9h0M90.7 251.6h0M30.5 279.1h0M34.3 204.8h0M81.5 280.7h0M51.4 242.5h0M32.4 225.2h0M84.8 256.0h0M95.1 265.9h0M65.3 252.4h0M81.1 209.2h0M59.0 259.1h0"/>
<path fill="none" stroke="#000850" stroke-width="2.00" stroke-linecap="round" opacity="0.45" d="M66.4 222.1h0M77.5 263.8h0M47.4 247.9h0M86.5 253.2h0M47.5 217.3h0M94.3 203.8h0M59.8 278.1h0M51.7 253.7h0M70.4 271.4h0M63.5 264.0h0M86.8 201.9h0M37.8 215.1h0M72.5 251.1h0M77.9 255.0h0M33.9 237.3h0M76.1 272.6h0M79.0 269.1h0M80.7 243.8h0M73.1 244.9h0M55.3 221.4h0M63.0 258.2h0M69.6 239.9h0M51.1 241.0h0M76.3 262.2h0M93.4 210.6h0M80.1 253.0h0M39.2 265.9h0M64.7 287.5h0M30.5 235.9h0M64.9 207.3h0M66.9 241.4h0M92.0 286.3h0M75.1 263.4h0M94.6 254.0h0M49.8 209.8h0M86.7 236.6h0M36.0 219.5h0M50.6 284.0h0M91.1 218.7h0M40.9 251.6h0M95.9 265.2h0M67.7 280.9h0M88.6 282.0h0M42.0 276.2h0M91.9 218.2h0"/>
<path fill="none" stroke="#000850" stroke-width="2.00" stroke-linecap="round" opacity="0.8" d="M55.3 203.5h0M57.9 221.2h0M82.6 271.2h0M61.9 235.0h0M69.4 267.2h0M61.4 243.1h0M71.6 215.4h0M62.4 247.6h0M57.9 203.3h0M48.5 284.2h0M71.2 245.6h0M79.2 245.0h0M67.7 257.4h0M44.6 208.4h0M34.1 264.4h0M81.5 211.4h0M46.2 274.4h0M38.2 288.6h0M85.6 239.5h0M86.6 233.3h0M47.2 277.9h0M74.4 226.2h0M70.4 242.9h0M42.7 245.2h0M38.7 217.8h0M57.4 242.0h0M76.0 245.5h0M66.4 227.3h0M60.1 232.9h0M88.3 274.0h0M65.6 239.4h0M39.3 245.5h0M53.7 208.3h0M54.7 253.9h0M39.5 275.2h0M79.5 242.4h0M31.0 267.4h0M79.3 258.3h0M34.7 275.6h0M67.1 230.8h0M38.3 268.6h0M55.0 269.4h0M47.4 270.8h0M38.2 243.3h0M62.6 282.6h0"/>
<path fill="none" stroke="#000850" stroke-width="3.00" stroke-linecap="round" opacity="0.45" d="M49.1 262.2h0M44.9 282.1h0M43.6 268.0h0M53.4 263.0h0M64.6 265.7h0M90.1 271.2h0M61.8 222.2h0M86.5 226.8h0M90.6 280.1h0M38.2 280.7h0M90.4 223.5h0M55.2 275.1h0M50.1 263.6h0M88.7 205.6h0M32.6 228.1h0M54.9 225.8h0M84.0 278.7h0M72.6 233.6h0M52.8 279.6h0M32.3 262.5h0M44.6 205.9h0M33.4 247.8h0M70.7 204.8h0M34.8 240.7h0M59.9 285.8h0M55.7 271.2h0M75.3 223.6h0M62.9 241.5h0M31.7 253.4h0M48.1 222.3h0M44.8 245.8h0M91.4 287.0h0M30.5 248.2h0M86.2 267.7h0M35.5 273.0h0M88.6 261.1h0M82.8 222.8h0M37.1 200.8h0M83.4 217.8h0M56.4 213.1h0M43.0 213.5h0M52.2 260.9h0M83.3 225.4h0M57.6 232.0h0M74.3 243.8h0"/>
<path fill="none" stroke="#000850" stroke-width="3.00" stroke-linecap="round" opacity="0.8" d="M72.9 231.6h0M76.8 281.4h0M78.9 277.8h0M95.5 272.5h0M88.7 226.9h0M86.2 245.1h0M75.1 202.7h0M71.3 236.1h0M62.1 230.0h0M56.5 265.4h0M76.0 221.8h0M72.1 232.1h0M75.3 215.6h0M86.7 217.5h0M67.4 210.7h0M95.1 256.6h0M38.6 265.5h0M48.0 213.5h0M43.5 254.8h0M49.5 257.6h0M94.5 241.4h0M76.0 270.0h0M91.4 223.1h0M48.2 221.7h0M74.2 233.8h0M75.1 211.5h0M40.7 288.6h0M87.7 216.5h0M53.8 247.4h0M83.1 235.4h0M89.9 273.8h0M86.7 214.5h0M34.7 238.5h0M87.6 257.4h0M45.0 263.9h0M57.2 211.8h0M68.3 259.6h0M44.6 224.5h0M87.4 238.8h0M85.2 249.0h0M89.4 278.1h0M58.8 212.7h0M88.6 223.3h0M67.8 223.7h0M56.7 228.0h0"/>
<path fill="none" stroke="#2a50ff" stroke-width="1.60" stroke-linecap="round" opacity="0.55" d="M35.6 217.1h0M66.6 249.2h0M40.3 199.7h0M80.4 259.2h0M30.6 229.3h0M39.5 269.9h0M95.6 235.7h0M32.4 230.6h0M67.2 249.1h0M44.5 254.4h0M84.8 221.7h0M42.7 225.2h0M46.7 271.3h0M67.9 283.5h0M33.4 276.0h0M92.6 247.4h0M74.8 223.4h0M31.9 248.9h0M34.4 240.9h0M88.7 204.8h0M54.3 267.9h0M47.8 221.1h0M91.2 243.5h0M50.6 246.8h0M74.2 271.1h0M80.9 283.1h0M62.1 274.4h0M57.2 279.7h0M71.4 200.0h0M39.6 228.1h0M78.0 244.5h0M48.5 288.1h0M71.6 239.4h0M50.9 205.1h0M73.4 252.4h0M47.7 218.3h0M42.2 203.3h0M38.9 226.4h0M43.9 230.3h0M40.6 232.5h0M42.3 201.1h0M56.6 203.8h0M36.5 284.4h0M85.6 267.4h0M31.7 214.8h0M34.7 251.9h0M68.4 227.9h0M61.5 283.3h0M63.2 269.1h0M88.8 272.0h0"/>
<path fill="none" stroke="#2a50ff" stroke-width="2.60" stroke-linecap="round" opacity="0.55" d="M34.9 234.1h0M91.0 278.2h0M81.5 246.2h0M31.0 264.6h0M74.0 280.8h0M33.9 254.4h0M53.0 238.5h0M77.4 237.1h0M94.2 282.1h0M38.3 265.4h0M79.3 238.2h0M61.1 274.1h0M63.3 232.8h0M66.0 202.9h0M90.9 246.5h0M60.1 224.6h0M33.3 204.0h0M51.7 247.3h0M51.9 222.1h0M71.3 216.0h0M61.2 248.6h0M33.8 285.9h0M79.9 279.6h0M37.6 215.9h0M91.2 270.0h0M39.7 209.4h0M37.2 221.7h0M47.5 215.7h0M32.8 229.8h0M64.4 230.4h0M44.0 200.4h0M58.4 243.0h0M93.7 220.5h0M37.4 238.6h0M80.2 277.7h0M35.1 243.6h0M34.0 277.1h0M94.4 205.0h0M92.4 271.9h0M42.1 229.0h0M91.5 284.8h0M44.8 225.0h0M57.7 254.2h0M32.4 260.3h0M61.0 243.0h0M36.1 257.3h0M65.4 227.5h0M93.4 286.1h0M67.2 288.3h0M55.2 272.3h0"/>
</g>
<defs><clipPath id="cpR1"><path d="M130.6,196.5 C132.1,195.0 134.4,194.0 137.0,194.0 C139.6,194.0 143.4,195.2 146.0,196.5 C148.6,197.8 150.1,200.0 152.4,201.7 C154.8,203.4 157.3,205.7 160.1,206.8 C162.9,207.9 166.3,207.2 169.1,208.1 C171.9,208.9 174.9,210.4 176.8,211.9 C178.7,213.4 180.4,215.1 180.6,217.0 C180.8,218.9 178.7,221.3 178.1,223.5 C177.5,225.7 177.5,227.8 176.8,229.9 C176.2,232.0 174.8,234.0 174.2,236.3 C173.5,238.7 173.3,241.4 172.9,244.0 C172.5,246.6 171.3,249.3 171.7,251.7 C172.1,254.0 174.4,256.0 175.5,258.1 C176.6,260.2 177.9,262.1 178.1,264.5 C178.3,266.9 177.5,269.8 176.8,272.2 C176.2,274.6 175.9,277.1 174.2,278.6 C172.5,280.1 169.1,280.8 166.5,281.2 C163.9,281.6 161.8,280.8 158.8,281.2 C155.8,281.6 151.6,282.2 148.6,283.7 C145.6,285.2 143.9,289.0 140.9,290.1 C137.9,291.2 134.0,290.7 130.6,290.1 C127.2,289.5 123.0,288.2 120.4,286.3 C117.9,284.4 116.0,281.0 115.3,278.6 C114.6,276.2 115.2,273.9 116.5,272.2 C117.8,270.5 120.1,269.6 122.9,268.3 C125.7,267.0 130.6,266.0 133.2,264.5 C135.8,263.0 137.7,261.5 138.3,259.4 C138.9,257.3 137.6,254.0 137.0,251.7 C136.4,249.3 135.8,247.5 134.5,245.3 C133.2,243.2 130.9,241.0 129.4,238.8 C127.9,236.7 126.2,234.5 125.5,232.4 C124.8,230.3 125.1,228.3 125.5,226.0 C125.9,223.7 127.9,220.9 128.1,218.3 C128.3,215.7 126.8,213.2 126.8,210.6 C126.8,208.0 127.5,205.3 128.1,203.0 C128.7,200.7 129.1,198.0 130.6,196.5Z"/></clipPath></defs>
<path d="M130.6,196.5 C132.1,195.0 134.4,194.0 137.0,194.0 C139.6,194.0 143.4,195.2 146.0,196.5 C148.6,197.8 150.1,200.0 152.4,201.7 C154.8,203.4 157.3,205.7 160.1,206.8 C162.9,207.9 166.3,207.2 169.1,208.1 C171.9,208.9 174.9,210.4 176.8,211.9 C178.7,213.4 180.4,215.1 180.6,217.0 C180.8,218.9 178.7,221.3 178.1,223.5 C177.5,225.7 177.5,227.8 176.8,229.9 C176.2,232.0 174.8,234.0 174.2,236.3 C173.5,238.7 173.3,241.4 172.9,244.0 C172.5,246.6 171.3,249.3 171.7,251.7 C172.1,254.0 174.4,256.0 175.5,258.1 C176.6,260.2 177.9,262.1 178.1,264.5 C178.3,266.9 177.5,269.8 176.8,272.2 C176.2,274.6 175.9,277.1 174.2,278.6 C172.5,280.1 169.1,280.8 166.5,281.2 C163.9,281.6 161.8,280.8 158.8,281.2 C155.8,281.6 151.6,282.2 148.6,283.7 C145.6,285.2 143.9,289.0 140.9,290.1 C137.9,291.2 134.0,290.7 130.6,290.1 C127.2,289.5 123.0,288.2 120.4,286.3 C117.9,284.4 116.0,281.0 115.3,278.6 C114.6,276.2 115.2,273.9 116.5,272.2 C117.8,270.5 120.1,269.6 122.9,268.3 C125.7,267.0 130.6,266.0 133.2,264.5 C135.8,263.0 137.7,261.5 138.3,259.4 C138.9,257.3 137.6,254.0 137.0,251.7 C136.4,249.3 135.8,247.5 134.5,245.3 C133.2,243.2 130.9,241.0 129.4,238.8 C127.9,236.7 126.2,234.5 125.5,232.4 C124.8,230.3 125.1,228.3 125.5,226.0 C125.9,223.7 127.9,220.9 128.1,218.3 C128.3,215.7 126.8,213.2 126.8,210.6 C126.8,208.0 127.5,205.3 128.1,203.0 C128.7,200.7 129.1,198.0 130.6,196.5Z" fill="#fa0000"/>
<path fill="none" stroke="#fa0000" stroke-width="2.00" stroke-linecap="round" d="M142.7 195.7h0M142.5 195.8h0M148.7 197.2h0M155.5 204.0h0M157.6 206.0h0M165.6 207.3h0M170.7 209.6h0M173.9 211.9h0M176.3 211.8h0M180.1 216.0h0M178.5 223.4h0M176.8 230.0h0M176.2 231.8h0M176.1 234.1h0M174.1 237.4h0M173.8 255.7h0M173.6 256.1h0M176.2 261.0h0M179.2 264.6h0M178.2 265.0h0M176.2 273.7h0M173.7 278.9h0M152.6 282.4h0M150.5 283.1h0M143.8 287.5h0M141.8 289.9h0M135.4 290.8h0M115.8 277.4h0M116.9 273.1h0M121.1 269.2h0M123.1 268.7h0M130.1 266.1h0M132.4 264.8h0M138.7 257.1h0M136.1 250.5h0M135.3 246.8h0M131.2 241.5h0M125.4 230.7h0M126.0 229.7h0M127.2 220.7h0M129.2 200.4h0"/>
<path fill="none" stroke="#fa0000" stroke-width="2.60" stroke-linecap="round" d="M130.5 197.4h0M132.3 196.0h0M132.8 195.4h0M135.1 193.7h0M138.8 195.1h0M151.1 200.3h0M153.3 201.5h0M168.2 207.3h0M168.9 207.8h0M178.2 213.3h0M180.5 217.6h0M179.5 220.8h0M178.3 220.6h0M178.2 227.7h0M176.3 233.1h0M173.2 239.8h0M173.6 241.8h0M172.7 243.9h0M173.4 245.6h0M175.5 257.4h0M177.0 262.4h0M176.2 268.1h0M177.4 269.2h0M166.7 281.6h0M161.1 281.5h0M157.9 282.2h0M146.7 285.1h0M142.1 288.4h0M132.9 289.8h0M130.7 291.0h0M127.3 289.2h0M125.1 289.8h0M117.0 283.0h0M115.9 281.5h0M114.8 279.1h0M116.3 275.8h0M119.9 269.8h0M127.2 266.5h0M127.9 266.4h0M135.2 261.4h0M137.0 253.9h0M136.0 248.6h0M130.1 239.9h0M128.6 239.2h0M128.6 236.5h0M126.1 233.0h0M126.0 226.6h0M124.5 225.3h0M125.3 225.3h0M127.8 215.8h0M127.8 214.4h0M126.7 209.1h0M128.7 205.9h0M128.0 200.7h0"/>
<path fill="none" stroke="#fa0000" stroke-width="3.20" stroke-linecap="round" d="M138.0 194.0h0M144.9 197.3h0M148.9 199.1h0M152.5 202.3h0M159.2 207.0h0M163.5 207.3h0M173.3 209.2h0M179.4 215.0h0M179.8 217.8h0M177.5 225.4h0M177.6 227.6h0M174.7 235.4h0M171.1 248.3h0M171.9 250.3h0M171.9 251.7h0M173.2 252.8h0M176.7 260.1h0M175.8 273.0h0M176.1 276.0h0M174.5 276.2h0M171.7 280.2h0M169.9 280.9h0M167.5 279.2h0M164.2 281.4h0M162.0 280.8h0M155.8 282.0h0M148.9 283.3h0M137.9 291.2h0M122.7 288.5h0M120.2 286.6h0M120.1 284.6h0M116.8 271.6h0M119.1 270.6h0M135.0 263.7h0M137.8 259.5h0M139.6 259.6h0M137.6 252.8h0M136.8 251.9h0M134.1 244.4h0M134.3 243.4h0M126.1 234.5h0M127.1 233.7h0M126.2 222.0h0M128.7 218.9h0M126.8 212.2h0M127.3 211.4h0M127.6 204.7h0M127.7 203.3h0M129.8 198.0h0"/>
<g clip-path="url(#cpR1)">
<path fill="none" stroke="#3a0000" stroke-width="1.50" stroke-linecap="round" opacity="0.55" d="M135.3 211.4h0M145.0 202.8h0M143.2 205.2h0M136.5 207.2h0M134.7 213.6h0M140.4 208.5h0M138.0 204.6h0M139.4 209.0h0M141.2 209.5h0M139.7 203.6h0M146.2 210.4h0M132.6 208.4h0M137.5 215.6h0M143.5 212.0h0M142.0 202.5h0M133.2 201.7h0M144.3 204.0h0M136.5 208.3h0M150.6 209.7h0M136.9 212.8h0M137.7 211.4h0M136.4 202.5h0M135.6 205.8h0M126.7 210.5h0M145.5 210.4h0"/>
<path fill="none" stroke="#3a0000" stroke-width="2.50" stroke-linecap="round" opacity="0.55" d="M134.1 206.4h0M143.4 213.7h0M130.9 205.5h0M138.8 208.7h0M145.4 214.1h0M132.8 210.4h0M139.2 217.0h0M146.0 200.7h0M143.8 208.9h0M142.1 205.4h0M140.1 208.1h0M131.7 205.8h0M130.3 207.3h0M150.1 205.8h0M141.6 205.9h0M132.2 218.7h0M128.5 212.1h0M148.7 209.6h0M147.5 204.7h0M145.1 196.6h0M140.4 203.0h0M149.5 207.2h0M136.2 208.1h0M138.4 208.3h0M137.2 204.1h0"/>
<path fill="none" stroke="#3a0000" stroke-width="3.50" stroke-linecap="round" opacity="0.55" d="M137.5 210.1h0M138.2 211.7h0M137.4 208.0h0M139.0 205.9h0M135.3 217.0h0M137.4 203.5h0M131.5 200.8h0M150.9 211.8h0M144.2 207.9h0M142.2 202.4h0M145.0 211.4h0M146.0 204.8h0M155.0 206.3h0M144.4 207.3h0M131.5 208.1h0M137.8 209.2h0M140.0 207.6h0M127.6 209.8h0M145.4 216.6h0M146.8 205.4h0M137.1 212.3h0M134.8 209.7h0M146.6 207.8h0M147.7 203.0h0M139.0 206.8h0"/>
<path fill="none" stroke="#3a0000" stroke-width="1.50" stroke-linecap="round" opacity="0.55" d="M167.7 237.8h0M173.1 256.7h0M171.6 242.1h0M165.8 241.1h0M174.1 234.7h0M175.4 255.5h0M166.8 236.6h0M177.3 244.1h0M168.9 250.3h0M171.7 246.6h0M168.4 250.2h0M165.0 227.6h0M168.5 256.2h0M174.0 235.8h0M166.6 234.7h0M168.6 236.9h0M170.5 240.5h0M171.6 261.6h0M167.6 243.3h0M169.2 249.5h0"/>
<path fill="none" stroke="#3a0000" stroke-width="2.50" stroke-linecap="round" opacity="0.55" d="M171.2 242.9h0M168.7 236.0h0M168.5 222.2h0M172.7 252.6h0M170.4 251.0h0M172.5 248.9h0M172.4 240.9h0M173.1 251.3h0M171.3 242.3h0M171.8 236.4h0M171.4 254.5h0M173.4 251.3h0M169.4 233.9h0M169.6 243.0h0M165.2 247.8h0M169.9 240.6h0M174.2 236.8h0M162.2 251.4h0M168.3 242.8h0M176.0 235.8h0"/>
<path fill="none" stroke="#3a0000" stroke-width="3.50" stroke-linecap="round" opacity="0.55" d="M171.8 224.5h0M172.4 239.0h0M167.5 239.5h0M168.7 240.6h0M167.5 251.3h0M172.7 239.9h0M169.5 244.1h0M167.8 239.8h0M163.6 242.4h0M167.1 235.0h0M166.5 240.8h0M169.8 243.6h0M172.2 251.9h0M167.4 250.8h0M173.1 251.2h0M168.8 230.2h0M171.2 236.2h0M170.3 242.1h0M171.3 252.0h0M173.8 226.5h0"/>
<path fill="none" stroke="#3a0000" stroke-width="1.50" stroke-linecap="round" opacity="0.55" d="M162.4 268.1h0M168.4 268.4h0M157.1 270.5h0M153.0 274.9h0M155.4 265.8h0M160.7 266.3h0M157.2 260.9h0M161.0 264.2h0M159.1 271.7h0M163.5 270.3h0M160.5 271.5h0M168.0 265.4h0M155.5 268.5h0M163.7 270.8h0M162.9 271.6h0M153.8 268.0h0"/>
<path fill="none" stroke="#3a0000" stroke-width="2.50" stroke-linecap="round" opacity="0.55" d="M165.7 262.4h0M166.4 263.5h0M158.6 269.0h0M170.1 261.4h0M157.6 266.5h0M169.6 267.5h0M154.0 269.6h0M163.6 267.3h0M163.3 268.0h0M153.6 268.2h0M160.6 257.0h0M168.0 264.6h0M158.3 268.8h0M157.7 271.4h0M158.3 270.9h0M164.0 269.7h0"/>
<path fill="none" stroke="#3a0000" stroke-width="3.50" stroke-linecap="round" opacity="0.55" d="M164.5 268.5h0M160.3 270.6h0M157.1 269.4h0M162.7 256.9h0M159.5 267.6h0M162.6 265.4h0M168.4 270.3h0M155.4 262.9h0M164.8 268.5h0M163.0 265.0h0M162.5 271.8h0M167.2 273.2h0M165.7 265.6h0M161.7 265.8h0M154.4 263.4h0M158.8 269.6h0"/>
<path fill="none" stroke="#3a0000" stroke-width="1.50" stroke-linecap="round" opacity="0.55" d="M149.8 216.9h0M150.3 208.6h0M151.4 222.4h0M147.0 221.6h0M149.7 222.9h0M148.1 229.0h0M144.4 213.4h0M149.0 224.7h0M142.3 223.0h0M156.8 229.4h0M144.4 223.5h0M143.5 227.2h0M148.2 228.8h0M145.8 222.1h0"/>
<path fill="none" stroke="#3a0000" stroke-width="2.50" stroke-linecap="round" opacity="0.55" d="M150.2 228.8h0M151.8 224.9h0M154.5 222.3h0M152.4 221.4h0M157.2 220.2h0M149.0 229.9h0M150.5 218.0h0M153.4 212.0h0M154.6 223.0h0M152.2 214.0h0M158.1 209.3h0M148.1 213.6h0M154.5 233.3h0M156.8 213.9h0"/>
<path fill="none" stroke="#3a0000" stroke-width="3.50" stroke-linecap="round" opacity="0.55" d="M146.7 220.4h0M152.0 227.7h0M154.3 234.8h0M142.1 219.0h0M150.1 230.2h0M154.0 220.5h0M149.2 227.3h0M153.9 219.6h0M155.1 225.4h0M154.2 228.1h0M148.0 221.6h0M149.0 222.0h0M150.5 214.6h0M150.8 221.3h0"/>
<path fill="none" stroke="#3a0000" stroke-width="1.50" stroke-linecap="round" opacity="0.55" d="M130.4 272.3h0M119.1 277.8h0M122.1 271.2h0M129.1 274.6h0M126.4 276.6h0M125.4 276.4h0M132.5 273.3h0M126.1 276.3h0M125.3 276.7h0M129.8 276.1h0M127.2 271.0h0M135.6 269.3h0"/>
<path fill="none" stroke="#3a0000" stroke-width="2.50" stroke-linecap="round" opacity="0.55" d="M128.8 276.7h0M129.1 275.7h0M128.3 273.3h0M129.8 270.0h0M124.7 277.6h0M123.9 272.8h0M124.7 273.0h0M127.0 273.5h0M129.6 272.0h0M124.9 270.1h0M127.4 277.0h0M126.4 272.1h0"/>
<path fill="none" stroke="#3a0000" stroke-width="3.50" stroke-linecap="round" opacity="0.55" d="M126.4 274.0h0M132.0 275.7h0M137.1 276.2h0M127.6 277.1h0M133.3 276.1h0M131.2 270.9h0M128.2 270.9h0M131.6 275.7h0M127.6 274.7h0M126.8 280.3h0M137.2 270.8h0M125.9 275.1h0"/>
<path fill="none" stroke="#3a0000" stroke-width="1.50" stroke-linecap="round" opacity="0.55" d="M148.9 215.6h0M163.9 214.5h0M173.9 212.9h0M159.5 218.9h0M168.1 213.9h0M170.9 213.4h0M170.0 211.4h0M163.6 217.0h0M153.7 216.2h0M166.5 209.5h0"/>
<path fill="none" stroke="#3a0000" stroke-width="2.50" stroke-linecap="round" opacity="0.55" d="M157.8 210.6h0M166.8 214.8h0M165.0 213.9h0M166.0 216.5h0M168.4 212.6h0M160.6 221.5h0M161.8 209.7h0M169.4 216.8h0M162.4 214.5h0M165.4 222.7h0"/>
<path fill="none" stroke="#3a0000" stroke-width="3.50" stroke-linecap="round" opacity="0.55" d="M168.6 222.0h0M158.0 216.8h0M167.4 218.5h0M164.7 212.8h0M161.2 221.0h0M159.3 215.9h0M163.7 221.0h0M169.0 212.2h0M161.4 214.7h0M161.5 213.4h0"/>
<path fill="none" stroke="#3a0000" stroke-width="1.20" stroke-linecap="round" opacity="0.45" d="M116.0 277.9h0M154.7 271.7h0M161.6 238.2h0M180.5 210.7h0M146.2 253.0h0M158.0 288.7h0M123.1 246.2h0M124.3 242.5h0M162.5 232.9h0M147.1 229.4h0M139.3 262.2h0M158.1 265.7h0M138.0 278.1h0M116.1 284.4h0M152.8 221.0h0M117.1 245.3h0M163.0 234.1h0M150.7 285.5h0M167.7 207.9h0M159.4 264.9h0M166.5 242.8h0M143.5 207.4h0M135.1 250.7h0M148.5 194.7h0M177.7 272.6h0M171.8 275.0h0M159.7 241.9h0M163.5 214.4h0M160.5 240.0h0M174.2 228.1h0M161.1 243.8h0M153.8 273.8h0M136.5 202.2h0M144.4 205.5h0M146.5 197.1h0M148.7 239.1h0M172.0 248.8h0M140.4 275.8h0M175.8 264.0h0M145.7 264.1h0M176.1 252.4h0M159.5 264.2h0M132.6 258.8h0M153.3 243.3h0M177.8 266.5h0"/>
<path fill="none" stroke="#3a0000" stroke-width="1.20" stroke-linecap="round" opacity="0.8" d="M160.7 231.4h0M156.2 282.3h0M161.5 201.7h0M132.2 209.9h0M174.4 215.9h0M148.7 271.4h0M117.9 240.5h0M155.5 215.8h0M151.3 220.8h0M157.7 246.8h0M133.1 269.7h0M168.9 228.7h0M127.6 195.0h0M160.6 280.2h0M118.2 271.2h0M177.6 268.9h0M142.5 241.4h0M154.4 290.0h0M143.6 278.0h0M131.7 208.5h0M117.3 236.2h0M150.9 230.0h0M172.3 242.6h0M142.0 259.5h0M123.8 273.4h0M151.1 254.0h0M157.7 243.2h0M123.8 252.1h0M139.5 214.7h0M132.3 222.8h0M122.3 221.0h0M116.2 198.8h0M149.6 200.6h0M131.7 230.6h0M120.4 229.2h0M159.0 250.7h0M131.6 286.9h0M169.5 215.1h0M162.4 244.7h0M157.8 243.5h0M120.1 253.4h0M139.0 248.4h0M176.7 225.0h0M118.7 268.6h0M165.1 279.5h0"/>
<path fill="none" stroke="#3a0000" stroke-width="2.00" stroke-linecap="round" opacity="0.45" d="M159.4 197.6h0M159.0 245.3h0M134.6 204.7h0M138.6 203.5h0M169.1 223.8h0M132.3 262.9h0M118.7 280.0h0M130.1 261.7h0M151.3 234.3h0M141.5 256.1h0M157.7 203.7h0M120.5 244.4h0M122.4 261.8h0M115.8 239.0h0M159.0 197.6h0M148.1 267.3h0M115.5 247.0h0M157.3 212.6h0M152.7 276.9h0M164.3 239.6h0M125.7 288.6h0M137.7 270.7h0M139.9 225.8h0M143.7 248.7h0M172.7 263.0h0M130.5 228.7h0M160.5 202.9h0M144.9 236.3h0M176.2 204.8h0M144.9 219.0h0M172.6 276.4h0M127.1 222.1h0M162.1 213.2h0M153.1 218.5h0M163.2 224.0h0M175.5 252.1h0M159.1 227.8h0M152.3 228.7h0M142.5 244.7h0M121.9 258.4h0M179.3 208.7h0M179.4 239.9h0M152.1 282.4h0M148.1 270.8h0M170.7 243.6h0"/>
<path fill="none" stroke="#3a0000" stroke-width="2.00" stroke-linecap="round" opacity="0.8" d="M169.7 216.9h0M166.4 201.0h0M158.6 282.8h0M127.5 246.5h0M137.9 234.6h0M140.7 250.6h0M117.5 229.0h0M128.5 281.9h0M168.7 207.2h0M152.6 268.1h0M145.4 254.5h0M160.6 211.2h0M177.2 223.7h0M122.3 286.9h0M150.9 286.5h0M134.5 239.9h0M122.6 260.0h0M122.1 195.7h0M127.5 282.5h0M161.8 280.8h0M134.5 221.6h0M152.7 255.5h0M128.8 289.3h0M176.7 235.8h0M122.5 265.9h0M173.2 269.7h0M176.7 285.1h0M153.1 278.3h0M148.5 237.7h0M171.1 240.0h0M116.3 196.8h0M176.0 198.8h0M177.5 213.5h0M166.0 232.6h0M166.5 209.9h0M135.1 201.5h0M152.4 222.0h0M122.4 222.9h0M121.8 223.0h0M152.9 268.3h0M165.9 241.7h0M140.7 207.6h0M171.8 242.6h0M133.6 211.5h0M126.6 225.8h0"/>
<path fill="none" stroke="#3a0000" stroke-width="3.00" stroke-linecap="round" opacity="0.45" d="M158.7 256.3h0M128.0 269.0h0M170.5 206.8h0M125.0 258.6h0M118.6 240.0h0M171.7 270.6h0M155.0 251.6h0M123.3 289.2h0M178.3 268.0h0M126.0 205.5h0M150.3 209.6h0M147.9 259.7h0M121.0 212.8h0M150.7 230.4h0M122.6 260.0h0M124.7 227.8h0M128.6 256.2h0M170.1 210.9h0M178.1 229.7h0M168.2 286.0h0M165.3 208.6h0M156.7 197.0h0M130.2 272.4h0M125.4 285.9h0M121.1 253.7h0M156.9 246.4h0M174.7 260.0h0M160.6 282.6h0M116.1 281.7h0M167.6 242.4h0M147.5 245.6h0M168.6 290.1h0M121.3 219.1h0M137.8 205.0h0M126.0 261.8h0M169.1 256.7h0M135.3 236.3h0M117.3 204.3h0M126.0 200.4h0M143.3 271.7h0M127.0 252.3h0M115.3 214.1h0M163.2 219.1h0M141.7 281.1h0M149.7 277.2h0"/>
<path fill="none" stroke="#3a0000" stroke-width="3.00" stroke-linecap="round" opacity="0.8" d="M177.7 274.5h0M151.7 210.9h0M153.3 246.5h0M157.7 289.7h0M172.8 202.1h0M176.9 280.2h0M165.2 243.1h0M139.4 225.9h0M171.1 275.7h0M155.5 278.4h0M140.7 280.1h0M129.2 235.1h0M134.3 250.7h0M130.8 229.8h0M160.7 239.8h0M140.9 211.1h0M158.7 206.6h0M176.0 266.7h0M155.2 200.8h0M149.4 257.6h0M165.8 271.5h0M177.5 278.9h0M179.1 200.5h0M124.4 223.8h0M134.1 202.7h0M137.0 279.0h0M122.0 223.1h0M131.7 210.3h0M117.4 230.9h0M146.0 232.7h0M146.3 253.6h0M116.0 229.0h0M134.9 208.8h0M153.8 225.5h0M118.0 281.9h0M138.2 225.1h0M147.2 211.3h0M133.2 215.2h0M132.0 222.8h0M127.8 243.1h0M162.3 218.2h0M131.6 209.3h0M161.4 244.6h0M171.4 238.6h0M137.5 267.4h0"/>
<path fill="none" stroke="#ff3030" stroke-width="1.60" stroke-linecap="round" opacity="0.55" d="M163.2 220.5h0M160.1 287.0h0M152.8 198.8h0M138.8 234.6h0M149.6 212.1h0M178.8 230.5h0M148.7 240.6h0M150.7 261.8h0M122.4 243.0h0M158.9 241.5h0M125.7 213.8h0M149.9 219.4h0M151.8 260.3h0M116.2 251.5h0M130.9 270.8h0M147.1 225.0h0M148.4 219.8h0M169.3 237.1h0M125.1 206.4h0M141.6 261.1h0M154.6 249.0h0M144.9 229.3h0M159.0 209.8h0M163.1 245.3h0M170.6 217.7h0M169.7 233.1h0M165.8 277.4h0M162.9 248.0h0M180.0 264.7h0M176.8 204.6h0M124.2 215.5h0M125.2 232.1h0M155.4 249.8h0M176.9 274.0h0M127.5 257.2h0M161.8 254.3h0M164.0 204.9h0M124.7 241.2h0M146.0 199.6h0M123.0 283.5h0M175.5 221.1h0M154.1 264.7h0M128.3 213.7h0M118.2 277.2h0M165.7 285.8h0M139.4 264.1h0M160.7 200.0h0M164.0 239.7h0M168.6 246.7h0M132.3 269.3h0"/>
<path fill="none" stroke="#ff3030" stroke-width="2.60" stroke-linecap="round" opacity="0.55" d="M151.1 279.2h0M154.2 195.8h0M155.3 262.6h0M142.3 235.5h0M143.6 271.4h0M153.2 245.1h0M165.4 237.8h0M175.9 221.1h0M151.6 245.5h0M132.0 203.9h0M154.8 245.2h0M116.7 204.3h0M157.2 246.6h0M157.5 257.0h0M174.7 273.2h0M121.5 283.5h0M176.6 256.5h0M171.5 268.1h0M121.4 199.3h0M137.8 240.7h0M155.0 195.4h0M163.6 202.2h0M177.7 235.4h0M125.3 233.7h0M153.8 207.5h0M172.1 283.7h0M115.4 196.0h0M124.6 202.4h0M135.4 212.8h0M124.7 240.5h0M179.6 240.3h0M127.0 245.4h0M153.4 209.2h0M123.3 254.8h0M171.3 200.7h0M135.4 235.1h0M154.7 237.2h0M132.4 198.0h0M123.3 256.7h0M148.0 232.5h0M136.3 286.4h0M133.8 243.8h0M136.7 266.0h0M122.2 247.2h0M166.7 263.6h0M134.5 276.9h0M136.5 259.8h0M123.4 217.8h0M175.2 264.3h0M167.4 215.2h0"/>
</g>
<defs><clipPath id="cpR2"><path d="M45.6,326.5 C47.1,325.0 49.4,324.0 52.0,324.0 C54.6,324.0 58.4,325.2 61.0,326.5 C63.6,327.8 65.1,330.0 67.4,331.7 C69.8,333.4 72.3,335.7 75.1,336.8 C77.9,337.9 81.3,337.2 84.1,338.1 C86.9,339.0 89.9,340.4 91.8,341.9 C93.7,343.4 95.4,345.1 95.6,347.0 C95.8,348.9 93.7,351.4 93.1,353.5 C92.5,355.6 92.5,357.8 91.8,359.9 C91.2,362.0 89.8,363.9 89.2,366.3 C88.5,368.7 88.3,371.4 87.9,374.0 C87.5,376.6 86.3,379.3 86.7,381.7 C87.1,384.1 89.4,386.0 90.5,388.1 C91.6,390.2 92.9,392.1 93.1,394.5 C93.3,396.9 92.5,399.8 91.8,402.2 C91.2,404.6 90.9,407.1 89.2,408.6 C87.5,410.1 84.1,410.8 81.5,411.2 C78.9,411.6 76.8,410.8 73.8,411.2 C70.8,411.6 66.6,412.2 63.6,413.7 C60.6,415.2 58.9,419.0 55.9,420.1 C52.9,421.2 49.0,420.7 45.6,420.1 C42.2,419.5 38.0,418.2 35.4,416.3 C32.9,414.4 30.9,411.0 30.3,408.6 C29.6,406.2 30.2,403.9 31.5,402.2 C32.8,400.5 35.1,399.6 37.9,398.3 C40.7,397.0 45.6,396.0 48.2,394.5 C50.8,393.0 52.7,391.5 53.3,389.4 C53.9,387.3 52.6,384.0 52.0,381.7 C51.4,379.4 50.8,377.4 49.5,375.3 C48.2,373.2 45.9,371.0 44.4,368.8 C42.9,366.6 41.1,364.5 40.5,362.4 C39.9,360.3 40.1,358.4 40.5,356.0 C40.9,353.6 42.9,350.9 43.1,348.3 C43.3,345.7 41.8,343.2 41.8,340.6 C41.8,338.1 42.5,335.4 43.1,333.0 C43.7,330.6 44.1,328.0 45.6,326.5Z"/></clipPath></defs>
<path d="M45.6,326.5 C47.1,325.0 49.4,324.0 52.0,324.0 C54.6,324.0 58.4,325.2 61.0,326.5 C63.6,327.8 65.1,330.0 67.4,331.7 C69.8,333.4 72.3,335.7 75.1,336.8 C77.9,337.9 81.3,337.2 84.1,338.1 C86.9,339.0 89.9,340.4 91.8,341.9 C93.7,343.4 95.4,345.1 95.6,347.0 C95.8,348.9 93.7,351.4 93.1,353.5 C92.5,355.6 92.5,357.8 91.8,359.9 C91.2,362.0 89.8,363.9 89.2,366.3 C88.5,368.7 88.3,371.4 87.9,374.0 C87.5,376.6 86.3,379.3 86.7,381.7 C87.1,384.1 89.4,386.0 90.5,388.1 C91.6,390.2 92.9,392.1 93.1,394.5 C93.3,396.9 92.5,399.8 91.8,402.2 C91.2,404.6 90.9,407.1 89.2,408.6 C87.5,410.1 84.1,410.8 81.5,411.2 C78.9,411.6 76.8,410.8 73.8,411.2 C70.8,411.6 66.6,412.2 63.6,413.7 C60.6,415.2 58.9,419.0 55.9,420.1 C52.9,421.2 49.0,420.7 45.6,420.1 C42.2,419.5 38.0,418.2 35.4,416.3 C32.9,414.4 30.9,411.0 30.3,408.6 C29.6,406.2 30.2,403.9 31.5,402.2 C32.8,400.5 35.1,399.6 37.9,398.3 C40.7,397.0 45.6,396.0 48.2,394.5 C50.8,393.0 52.7,391.5 53.3,389.4 C53.9,387.3 52.6,384.0 52.0,381.7 C51.4,379.4 50.8,377.4 49.5,375.3 C48.2,373.2 45.9,371.0 44.4,368.8 C42.9,366.6 41.1,364.5 40.5,362.4 C39.9,360.3 40.1,358.4 40.5,356.0 C40.9,353.6 42.9,350.9 43.1,348.3 C43.3,345.7 41.8,343.2 41.8,340.6 C41.8,338.1 42.5,335.4 43.1,333.0 C43.7,330.6 44.1,328.0 45.6,326.5Z" fill="#fa0000"/>
<path fill="none" stroke="#fa0000" stroke-width="2.00" stroke-linecap="round" d="M57.7 325.7h0M57.5 325.8h0M63.7 327.2h0M70.5 334.0h0M72.6 336.0h0M80.6 337.3h0M85.7 339.6h0M88.9 341.9h0M91.3 341.8h0M95.1 346.0h0M93.5 353.4h0M91.8 360.0h0M91.2 361.8h0M91.1 364.1h0M89.1 367.4h0M88.8 385.7h0M88.6 386.1h0M91.2 391.0h0M94.2 394.6h0M93.2 395.0h0M91.2 403.7h0M88.7 408.9h0M67.6 412.4h0M65.5 413.1h0M58.8 417.5h0M56.8 419.9h0M50.4 420.8h0M30.8 407.4h0M31.9 403.1h0M36.1 399.2h0M38.1 398.7h0M45.1 396.1h0M47.4 394.8h0M53.7 387.1h0M51.1 380.5h0M50.3 376.8h0M46.2 371.5h0M40.4 360.7h0M41.0 359.7h0M42.2 350.7h0M44.2 330.4h0"/>
<path fill="none" stroke="#fa0000" stroke-width="2.60" stroke-linecap="round" d="M45.5 327.4h0M47.3 326.0h0M47.8 325.4h0M50.1 323.7h0M53.8 325.1h0M66.1 330.3h0M68.3 331.5h0M83.2 337.3h0M83.9 337.8h0M93.2 343.3h0M95.5 347.6h0M94.5 350.8h0M93.3 350.6h0M93.2 357.7h0M91.3 363.1h0M88.2 369.8h0M88.6 371.8h0M87.7 373.9h0M88.4 375.6h0M90.5 387.4h0M92.0 392.4h0M91.2 398.1h0M92.4 399.2h0M81.7 411.6h0M76.1 411.5h0M72.9 412.2h0M61.7 415.1h0M57.1 418.4h0M47.9 419.8h0M45.7 421.0h0M42.3 419.2h0M40.1 419.8h0M32.0 413.0h0M30.9 411.5h0M29.8 409.1h0M31.3 405.8h0M34.9 399.8h0M42.2 396.5h0M42.9 396.4h0M50.2 391.4h0M52.0 383.9h0M51.0 378.6h0M45.1 369.9h0M43.6 369.2h0M43.6 366.5h0M41.1 363.0h0M41.0 356.6h0M39.5 355.3h0M40.3 355.3h0M42.8 345.8h0M42.8 344.4h0M41.7 339.1h0M43.7 335.9h0M43.0 330.7h0"/>
<path fill="none" stroke="#fa0000" stroke-width="3.20" stroke-linecap="round" d="M53.0 324.0h0M59.9 327.3h0M63.9 329.1h0M67.5 332.3h0M74.2 337.0h0M78.5 337.3h0M88.3 339.2h0M94.4 345.0h0M94.8 347.8h0M92.5 355.4h0M92.6 357.6h0M89.7 365.4h0M86.1 378.3h0M86.9 380.3h0M86.9 381.7h0M88.2 382.8h0M91.7 390.1h0M90.8 403.0h0M91.1 406.0h0M89.5 406.2h0M86.7 410.2h0M84.9 410.9h0M82.5 409.2h0M79.2 411.4h0M77.0 410.8h0M70.8 412.0h0M63.9 413.3h0M52.9 421.2h0M37.7 418.5h0M35.2 416.6h0M35.1 414.6h0M31.8 401.6h0M34.1 400.6h0M50.0 393.7h0M52.8 389.5h0M54.6 389.6h0M52.6 382.8h0M51.8 381.9h0M49.1 374.4h0M49.3 373.4h0M41.1 364.5h0M42.1 363.7h0M41.2 352.0h0M43.7 348.9h0M41.8 342.2h0M42.3 341.4h0M42.6 334.7h0M42.7 333.3h0M44.8 328.0h0"/>
<g clip-path="url(#cpR2)">
<path fill="none" stroke="#3a0000" stroke-width="1.50" stroke-linecap="round" opacity="0.55" d="M50.3 341.4h0M60.0 332.8h0M58.2 335.2h0M51.5 337.2h0M49.7 343.6h0M55.4 338.5h0M53.0 334.6h0M54.4 339.0h0M56.2 339.5h0M54.7 333.6h0M61.2 340.4h0M47.6 338.4h0M52.5 345.6h0M58.5 342.0h0M57.0 332.5h0M48.2 331.7h0M59.3 334.0h0M51.5 338.3h0M65.6 339.7h0M51.9 342.8h0M52.7 341.4h0M51.4 332.5h0M50.6 335.8h0M41.7 340.5h0M60.5 340.4h0"/>
<path fill="none" stroke="#3a0000" stroke-width="2.50" stroke-linecap="round" opacity="0.55" d="M49.1 336.4h0M58.4 343.7h0M45.9 335.5h0M53.8 338.7h0M60.4 344.1h0M47.8 340.4h0M54.2 347.0h0M61.0 330.7h0M58.8 338.9h0M57.1 335.4h0M55.1 338.1h0M46.7 335.8h0M45.3 337.3h0M65.1 335.8h0M56.6 335.9h0M47.2 348.7h0M43.5 342.1h0M63.7 339.6h0M62.5 334.7h0M60.1 326.6h0M55.4 333.0h0M64.5 337.2h0M51.2 338.1h0M53.4 338.3h0M52.2 334.1h0"/>
<path fill="none" stroke="#3a0000" stroke-width="3.50" stroke-linecap="round" opacity="0.55" d="M52.5 340.1h0M53.2 341.7h0M52.4 338.0h0M54.0 335.9h0M50.3 347.0h0M52.4 333.5h0M46.5 330.8h0M65.9 341.8h0M59.2 337.9h0M57.2 332.4h0M60.0 341.4h0M61.0 334.8h0M70.0 336.3h0M59.4 337.3h0M46.5 338.1h0M52.8 339.2h0M55.0 337.6h0M42.6 339.8h0M60.4 346.6h0M61.8 335.4h0M52.1 342.3h0M49.8 339.7h0M61.6 337.8h0M62.7 333.0h0M54.0 336.8h0"/>
<path fill="none" stroke="#3a0000" stroke-width="1.50" stroke-linecap="round" opacity="0.55" d="M82.7 367.8h0M88.1 386.7h0M86.6 372.1h0M80.8 371.1h0M89.1 364.7h0M90.4 385.5h0M81.8 366.6h0M92.3 374.1h0M83.9 380.3h0M86.7 376.6h0M83.4 380.2h0M80.0 357.6h0M83.5 386.2h0M89.0 365.8h0M81.6 364.7h0M83.6 366.9h0M85.5 370.5h0M86.6 391.6h0M82.6 373.3h0M84.2 379.5h0"/>
<path fill="none" stroke="#3a0000" stroke-width="2.50" stroke-linecap="round" opacity="0.55" d="M86.2 372.9h0M83.7 366.0h0M83.5 352.2h0M87.7 382.6h0M85.4 381.0h0M87.5 378.9h0M87.4 370.9h0M88.1 381.3h0M86.3 372.3h0M86.8 366.4h0M86.4 384.5h0M88.4 381.3h0M84.4 363.9h0M84.6 373.0h0M80.2 377.8h0M84.9 370.6h0M89.2 366.8h0M77.2 381.4h0M83.3 372.8h0M91.0 365.8h0"/>
<path fill="none" stroke="#3a0000" stroke-width="3.50" stroke-linecap="round" opacity="0.55" d="M86.8 354.5h0M87.4 369.0h0M82.5 369.5h0M83.7 370.6h0M82.5 381.3h0M87.7 369.9h0M84.5 374.1h0M82.8 369.8h0M78.6 372.4h0M82.1 365.0h0M81.5 370.8h0M84.8 373.6h0M87.2 381.9h0M82.4 380.8h0M88.1 381.2h0M83.8 360.2h0M86.2 366.2h0M85.3 372.1h0M86.3 382.0h0M88.8 356.5h0"/>
<path fill="none" stroke="#3a0000" stroke-width="1.50" stroke-linecap="round" opacity="0.55" d="M77.4 398.1h0M83.4 398.4h0M72.1 400.5h0M68.0 404.9h0M70.4 395.8h0M75.7 396.3h0M72.2 390.9h0M76.0 394.2h0M74.1 401.7h0M78.5 400.3h0M75.5 401.5h0M83.0 395.4h0M70.5 398.5h0M78.7 400.8h0M77.9 401.6h0M68.8 398.0h0"/>
<path fill="none" stroke="#3a0000" stroke-width="2.50" stroke-linecap="round" opacity="0.55" d="M80.7 392.4h0M81.4 393.5h0M73.6 399.0h0M85.1 391.4h0M72.6 396.5h0M84.6 397.5h0M69.0 399.6h0M78.6 397.3h0M78.3 398.0h0M68.6 398.2h0M75.6 387.0h0M83.0 394.6h0M73.3 398.8h0M72.7 401.4h0M73.3 400.9h0M79.0 399.7h0"/>
<path fill="none" stroke="#3a0000" stroke-width="3.50" stroke-linecap="round" opacity="0.55" d="M79.5 398.5h0M75.3 400.6h0M72.1 399.4h0M77.7 386.9h0M74.5 397.6h0M77.6 395.4h0M83.4 400.3h0M70.4 392.9h0M79.8 398.5h0M78.0 395.0h0M77.5 401.8h0M82.2 403.2h0M80.7 395.6h0M76.7 395.8h0M69.4 393.4h0M73.8 399.6h0"/>
<path fill="none" stroke="#3a0000" stroke-width="1.50" stroke-linecap="round" opacity="0.55" d="M64.8 346.9h0M65.3 338.6h0M66.4 352.4h0M62.0 351.6h0M64.7 352.9h0M63.1 359.0h0M59.4 343.4h0M64.0 354.7h0M57.3 353.0h0M71.8 359.4h0M59.4 353.5h0M58.5 357.2h0M63.2 358.8h0M60.8 352.1h0"/>
<path fill="none" stroke="#3a0000" stroke-width="2.50" stroke-linecap="round" opacity="0.55" d="M65.2 358.8h0M66.8 354.9h0M69.5 352.3h0M67.4 351.4h0M72.2 350.2h0M64.0 359.9h0M65.5 348.0h0M68.4 342.0h0M69.6 353.0h0M67.2 344.0h0M73.1 339.3h0M63.1 343.6h0M69.5 363.3h0M71.8 343.9h0"/>
<path fill="none" stroke="#3a0000" stroke-width="3.50" stroke-linecap="round" opacity="0.55" d="M61.7 350.4h0M67.0 357.7h0M69.3 364.8h0M57.1 349.0h0M65.1 360.2h0M69.0 350.5h0M64.2 357.3h0M68.9 349.6h0M70.1 355.4h0M69.2 358.1h0M63.0 351.6h0M64.0 352.0h0M65.5 344.6h0M65.8 351.3h0"/>
<path fill="none" stroke="#3a0000" stroke-width="1.50" stroke-linecap="round" opacity="0.55" d="M45.4 402.3h0M34.1 407.8h0M37.1 401.2h0M44.1 404.6h0M41.4 406.6h0M40.4 406.4h0M47.5 403.3h0M41.1 406.3h0M40.3 406.7h0M44.8 406.1h0M42.2 401.0h0M50.6 399.3h0"/>
<path fill="none" stroke="#3a0000" stroke-width="2.50" stroke-linecap="round" opacity="0.55" d="M43.8 406.7h0M44.1 405.7h0M43.3 403.3h0M44.8 400.0h0M39.7 407.6h0M38.9 402.8h0M39.7 403.0h0M42.0 403.5h0M44.6 402.0h0M39.9 400.1h0M42.4 407.0h0M41.4 402.1h0"/>
<path fill="none" stroke="#3a0000" stroke-width="3.50" stroke-linecap="round" opacity="0.55" d="M41.4 404.0h0M47.0 405.7h0M52.1 406.2h0M42.6 407.1h0M48.3 406.1h0M46.2 400.9h0M43.2 400.9h0M46.6 405.7h0M42.6 404.7h0M41.8 410.3h0M52.2 400.8h0M40.9 405.1h0"/>
<path fill="none" stroke="#3a0000" stroke-width="1.50" stroke-linecap="round" opacity="0.55" d="M63.9 345.6h0M78.9 344.5h0M88.9 342.9h0M74.5 348.9h0M83.1 343.9h0M85.9 343.4h0M85.0 341.4h0M78.6 347.0h0M68.7 346.2h0M81.5 339.5h0"/>
<path fill="none" stroke="#3a0000" stroke-width="2.50" stroke-linecap="round" opacity="0.55" d="M72.8 340.6h0M81.8 344.8h0M80.0 343.9h0M81.0 346.5h0M83.4 342.6h0M75.6 351.5h0M76.8 339.7h0M84.4 346.8h0M77.4 344.5h0M80.4 352.7h0"/>
<path fill="none" stroke="#3a0000" stroke-width="3.50" stroke-linecap="round" opacity="0.55" d="M83.6 352.0h0M73.0 346.8h0M82.4 348.5h0M79.7 342.8h0M76.2 351.0h0M74.3 345.9h0M78.7 351.0h0M84.0 342.2h0M76.4 344.7h0M76.5 343.4h0"/>
<path fill="none" stroke="#3a0000" stroke-width="1.20" stroke-linecap="round" opacity="0.45" d="M31.0 407.9h0M69.7 401.7h0M76.6 368.2h0M95.5 340.7h0M61.2 383.0h0M73.0 418.7h0M38.1 376.2h0M39.3 372.5h0M77.5 362.9h0M62.1 359.4h0M54.3 392.2h0M73.1 395.7h0M53.0 408.1h0M31.1 414.4h0M67.8 351.0h0M32.1 375.3h0M78.0 364.1h0M65.7 415.5h0M82.7 337.9h0M74.4 394.9h0M81.5 372.8h0M58.5 337.4h0M50.1 380.7h0M63.5 324.7h0M92.7 402.6h0M86.8 405.0h0M74.7 371.9h0M78.5 344.4h0M75.5 370.0h0M89.2 358.1h0M76.1 373.8h0M68.8 403.8h0M51.5 332.2h0M59.4 335.5h0M61.5 327.1h0M63.7 369.1h0M87.0 378.8h0M55.4 405.8h0M90.8 394.0h0M60.7 394.1h0M91.1 382.4h0M74.5 394.2h0M47.6 388.8h0M68.3 373.3h0M92.8 396.5h0"/>
<path fill="none" stroke="#3a0000" stroke-width="1.20" stroke-linecap="round" opacity="0.8" d="M75.7 361.4h0M71.2 412.3h0M76.5 331.7h0M47.2 339.9h0M89.4 345.9h0M63.7 401.4h0M32.9 370.5h0M70.5 345.8h0M66.3 350.8h0M72.7 376.8h0M48.1 399.7h0M83.9 358.7h0M42.6 325.0h0M75.6 410.2h0M33.2 401.2h0M92.6 398.9h0M57.5 371.4h0M69.4 420.0h0M58.6 408.0h0M46.7 338.5h0M32.3 366.2h0M65.9 360.0h0M87.3 372.6h0M57.0 389.5h0M38.8 403.4h0M66.1 384.0h0M72.7 373.2h0M38.8 382.1h0M54.5 344.7h0M47.3 352.8h0M37.3 351.0h0M31.2 328.8h0M64.6 330.6h0M46.7 360.6h0M35.4 359.2h0M74.0 380.7h0M46.6 416.9h0M84.5 345.1h0M77.4 374.7h0M72.8 373.5h0M35.1 383.4h0M54.0 378.4h0M91.7 355.0h0M33.7 398.6h0M80.1 409.5h0"/>
<path fill="none" stroke="#3a0000" stroke-width="2.00" stroke-linecap="round" opacity="0.45" d="M74.4 327.6h0M74.0 375.3h0M49.6 334.7h0M53.6 333.5h0M84.1 353.8h0M47.3 392.9h0M33.7 410.0h0M45.1 391.7h0M66.3 364.3h0M56.5 386.1h0M72.7 333.7h0M35.5 374.4h0M37.4 391.8h0M30.8 369.0h0M74.0 327.6h0M63.1 397.3h0M30.5 377.0h0M72.3 342.6h0M67.7 406.9h0M79.3 369.6h0M40.7 418.6h0M52.7 400.7h0M54.9 355.8h0M58.7 378.7h0M87.7 393.0h0M45.5 358.7h0M75.5 332.9h0M59.9 366.3h0M91.2 334.8h0M59.9 349.0h0M87.6 406.4h0M42.1 352.1h0M77.1 343.2h0M68.1 348.5h0M78.2 354.0h0M90.5 382.1h0M74.1 357.8h0M67.3 358.7h0M57.5 374.7h0M36.9 388.4h0M94.3 338.7h0M94.4 369.9h0M67.1 412.4h0M63.1 400.8h0M85.7 373.6h0"/>
<path fill="none" stroke="#3a0000" stroke-width="2.00" stroke-linecap="round" opacity="0.8" d="M84.7 346.9h0M81.4 331.0h0M73.6 412.8h0M42.5 376.5h0M52.9 364.6h0M55.7 380.6h0M32.5 359.0h0M43.5 411.9h0M83.7 337.2h0M67.6 398.1h0M60.4 384.5h0M75.6 341.2h0M92.2 353.7h0M37.3 416.9h0M65.9 416.5h0M49.5 369.9h0M37.6 390.0h0M37.1 325.7h0M42.5 412.5h0M76.8 410.8h0M49.5 351.6h0M67.7 385.5h0M43.8 419.3h0M91.7 365.8h0M37.5 395.9h0M88.2 399.7h0M91.7 415.1h0M68.1 408.3h0M63.5 367.7h0M86.1 370.0h0M31.3 326.8h0M91.0 328.8h0M92.5 343.5h0M81.0 362.6h0M81.5 339.9h0M50.1 331.5h0M67.4 352.0h0M37.4 352.9h0M36.8 353.0h0M67.9 398.3h0M80.9 371.7h0M55.7 337.6h0M86.8 372.6h0M48.6 341.5h0M41.6 355.8h0"/>
<path fill="none" stroke="#3a0000" stroke-width="3.00" stroke-linecap="round" opacity="0.45" d="M73.7 386.3h0M43.0 399.0h0M85.5 336.8h0M40.0 388.6h0M33.6 370.0h0M86.7 400.6h0M70.0 381.6h0M38.3 419.2h0M93.3 398.0h0M41.0 335.5h0M65.3 339.6h0M62.9 389.7h0M36.0 342.8h0M65.7 360.4h0M37.6 390.0h0M39.7 357.8h0M43.6 386.2h0M85.1 340.9h0M93.1 359.7h0M83.2 416.0h0M80.3 338.6h0M71.7 327.0h0M45.2 402.4h0M40.4 415.9h0M36.1 383.7h0M71.9 376.4h0M89.7 390.0h0M75.6 412.6h0M31.1 411.7h0M82.6 372.4h0M62.5 375.6h0M83.6 420.1h0M36.3 349.1h0M52.8 335.0h0M41.0 391.8h0M84.1 386.7h0M50.3 366.3h0M32.3 334.3h0M41.0 330.4h0M58.3 401.7h0M42.0 382.3h0M30.3 344.1h0M78.2 349.1h0M56.7 411.1h0M64.7 407.2h0"/>
<path fill="none" stroke="#3a0000" stroke-width="3.00" stroke-linecap="round" opacity="0.8" d="M92.7 404.5h0M66.7 340.9h0M68.3 376.5h0M72.7 419.7h0M87.8 332.1h0M91.9 410.2h0M80.2 373.1h0M54.4 355.9h0M86.1 405.7h0M70.5 408.4h0M55.7 410.1h0M44.2 365.1h0M49.3 380.7h0M45.8 359.8h0M75.7 369.8h0M55.9 341.1h0M73.7 336.6h0M91.0 396.7h0M70.2 330.8h0M64.4 387.6h0M80.8 401.5h0M92.5 408.9h0M94.1 330.5h0M39.4 353.8h0M49.1 332.7h0M52.0 409.0h0M37.0 353.1h0M46.7 340.3h0M32.4 360.9h0M61.0 362.7h0M61.3 383.6h0M31.0 359.0h0M49.9 338.8h0M68.8 355.5h0M33.0 411.9h0M53.2 355.1h0M62.2 341.3h0M48.2 345.2h0M47.0 352.8h0M42.8 373.1h0M77.3 348.2h0M46.6 339.3h0M76.4 374.6h0M86.4 368.6h0M52.5 397.4h0"/>
<path fill="none" stroke="#ff3030" stroke-width="1.60" stroke-linecap="round" opacity="0.55" d="M78.2 350.5h0M75.1 417.0h0M67.8 328.8h0M53.8 364.6h0M64.6 342.1h0M93.8 360.5h0M63.7 370.6h0M65.7 391.8h0M37.4 373.0h0M73.9 371.5h0M40.7 343.8h0M64.9 349.4h0M66.8 390.3h0M31.2 381.5h0M45.9 400.8h0M62.1 355.0h0M63.4 349.8h0M84.3 367.1h0M40.1 336.4h0M56.6 391.1h0M69.6 379.0h0M59.9 359.3h0M74.0 339.8h0M78.1 375.3h0M85.6 347.7h0M84.7 363.1h0M80.8 407.4h0M77.9 378.0h0M95.0 394.7h0M91.8 334.6h0M39.2 345.5h0M40.2 362.1h0M70.4 379.8h0M91.9 404.0h0M42.5 387.2h0M76.8 384.3h0M79.0 334.9h0M39.7 371.2h0M61.0 329.6h0M38.0 413.5h0M90.5 351.1h0M69.1 394.7h0M43.3 343.7h0M33.2 407.2h0M80.7 415.8h0M54.4 394.1h0M75.7 330.0h0M79.0 369.7h0M83.6 376.7h0M47.3 399.3h0"/>
<path fill="none" stroke="#ff3030" stroke-width="2.60" stroke-linecap="round" opacity="0.55" d="M66.1 409.2h0M69.2 325.8h0M70.3 392.6h0M57.3 365.5h0M58.6 401.4h0M68.2 375.1h0M80.4 367.8h0M90.9 351.1h0M66.6 375.5h0M47.0 333.9h0M69.8 375.2h0M31.7 334.3h0M72.2 376.6h0M72.5 387.0h0M89.7 403.2h0M36.5 413.5h0M91.6 386.5h0M86.5 398.1h0M36.4 329.3h0M52.8 370.7h0M70.0 325.4h0M78.6 332.2h0M92.7 365.4h0M40.3 363.7h0M68.8 337.5h0M87.1 413.7h0M30.4 326.0h0M39.6 332.4h0M50.4 342.8h0M39.7 370.5h0M94.6 370.3h0M42.0 375.4h0M68.4 339.2h0M38.3 384.8h0M86.3 330.7h0M50.4 365.1h0M69.7 367.2h0M47.4 328.0h0M38.3 386.7h0M63.0 362.5h0M51.3 416.4h0M48.8 373.8h0M51.7 396.0h0M37.2 377.2h0M81.7 393.6h0M49.5 406.9h0M51.5 389.8h0M38.4 347.8h0M90.2 394.3h0M82.4 345.2h0"/>
</g>
<defs><clipPath id="cpB2"><path d="M129.9,331.7 C131.4,330.2 133.5,329.3 136.3,329.1 C139.1,328.9 143.5,329.5 146.5,330.4 C149.5,331.2 151.6,333.1 154.2,334.2 C156.8,335.3 159.3,336.4 161.9,336.8 C164.5,337.2 166.8,336.2 169.6,336.8 C172.4,337.4 176.7,338.9 178.6,340.6 C180.5,342.3 181.2,344.9 181.2,347.0 C181.2,349.1 179.2,350.9 178.6,353.5 C177.9,356.1 178.2,359.6 177.3,362.4 C176.5,365.2 174.8,367.5 173.5,370.1 C172.2,372.7 170.7,375.5 169.6,377.8 C168.5,380.1 167.2,381.9 167.0,384.2 C166.8,386.5 167.2,390.2 168.3,391.9 C169.4,393.6 172.0,393.2 173.5,394.5 C175.0,395.8 176.2,397.7 177.3,399.6 C178.4,401.5 180.1,403.6 179.9,406.0 C179.7,408.4 178.2,411.8 176.0,413.7 C173.8,415.6 169.8,417.2 167.0,417.6 C164.2,418.0 161.8,417.0 159.4,416.3 C157.1,415.6 154.8,413.9 152.9,413.7 C151.0,413.5 149.9,414.1 147.8,415.0 C145.7,415.9 142.9,418.2 140.1,418.8 C137.3,419.4 134.4,419.2 131.2,418.8 C128.0,418.4 123.6,417.8 120.9,416.3 C118.2,414.8 116.2,412.2 115.3,409.9 C114.4,407.5 114.4,404.3 115.8,402.2 C117.2,400.1 120.5,398.3 123.5,397.0 C126.5,395.7 130.9,395.8 133.7,394.5 C136.5,393.2 138.8,391.5 140.1,389.4 C141.4,387.3 142.0,383.8 141.4,381.7 C140.8,379.6 138.4,378.0 136.3,376.5 C134.2,375.0 130.9,374.2 128.6,372.7 C126.2,371.2 123.9,369.5 122.2,367.6 C120.5,365.7 118.5,363.1 118.3,361.2 C118.1,359.3 119.6,357.5 120.9,356.0 C122.2,354.5 124.9,353.9 126.0,352.2 C127.1,350.5 127.1,348.1 127.3,345.8 C127.5,343.5 126.9,340.5 127.3,338.1 C127.7,335.8 128.4,333.2 129.9,331.7Z"/></clipPath></defs>
<path d="M129.9,331.7 C131.4,330.2 133.5,329.3 136.3,329.1 C139.1,328.9 143.5,329.5 146.5,330.4 C149.5,331.2 151.6,333.1 154.2,334.2 C156.8,335.3 159.3,336.4 161.9,336.8 C164.5,337.2 166.8,336.2 169.6,336.8 C172.4,337.4 176.7,338.9 178.6,340.6 C180.5,342.3 181.2,344.9 181.2,347.0 C181.2,349.1 179.2,350.9 178.6,353.5 C177.9,356.1 178.2,359.6 177.3,362.4 C176.5,365.2 174.8,367.5 173.5,370.1 C172.2,372.7 170.7,375.5 169.6,377.8 C168.5,380.1 167.2,381.9 167.0,384.2 C166.8,386.5 167.2,390.2 168.3,391.9 C169.4,393.6 172.0,393.2 173.5,394.5 C175.0,395.8 176.2,397.7 177.3,399.6 C178.4,401.5 180.1,403.6 179.9,406.0 C179.7,408.4 178.2,411.8 176.0,413.7 C173.8,415.6 169.8,417.2 167.0,417.6 C164.2,418.0 161.8,417.0 159.4,416.3 C157.1,415.6 154.8,413.9 152.9,413.7 C151.0,413.5 149.9,414.1 147.8,415.0 C145.7,415.9 142.9,418.2 140.1,418.8 C137.3,419.4 134.4,419.2 131.2,418.8 C128.0,418.4 123.6,417.8 120.9,416.3 C118.2,414.8 116.2,412.2 115.3,409.9 C114.4,407.5 114.4,404.3 115.8,402.2 C117.2,400.1 120.5,398.3 123.5,397.0 C126.5,395.7 130.9,395.8 133.7,394.5 C136.5,393.2 138.8,391.5 140.1,389.4 C141.4,387.3 142.0,383.8 141.4,381.7 C140.8,379.6 138.4,378.0 136.3,376.5 C134.2,375.0 130.9,374.2 128.6,372.7 C126.2,371.2 123.9,369.5 122.2,367.6 C120.5,365.7 118.5,363.1 118.3,361.2 C118.1,359.3 119.6,357.5 120.9,356.0 C122.2,354.5 124.9,353.9 126.0,352.2 C127.1,350.5 127.1,348.1 127.3,345.8 C127.5,343.5 126.9,340.5 127.3,338.1 C127.7,335.8 128.4,333.2 129.9,331.7Z" fill="#0630ff"/>
<path fill="none" stroke="#0630ff" stroke-width="2.00" stroke-linecap="round" d="M133.4 331.2h0M147.4 330.6h0M153.8 333.5h0M157.9 334.9h0M159.8 336.1h0M165.7 337.2h0M171.9 337.2h0M174.1 338.8h0M178.6 340.5h0M181.9 348.6h0M180.1 354.0h0M178.4 356.3h0M178.1 360.4h0M173.7 369.6h0M173.1 372.9h0M170.2 378.3h0M168.0 389.7h0M169.4 393.4h0M171.2 393.4h0M176.1 398.2h0M177.2 399.0h0M178.7 401.6h0M179.4 407.4h0M178.5 409.2h0M175.8 413.5h0M160.3 416.6h0M152.4 414.6h0M150.8 413.1h0M150.9 413.9h0M146.5 415.0h0M145.5 414.3h0M133.3 419.7h0M123.5 416.4h0M121.5 414.4h0M118.6 415.0h0M116.5 411.1h0M115.5 406.7h0M114.8 403.0h0M119.1 401.7h0M120.5 397.2h0M130.9 393.9h0M136.9 392.1h0M139.9 389.6h0M140.9 383.7h0M137.3 380.9h0M125.1 370.3h0M123.7 368.8h0M121.5 367.5h0M121.0 364.8h0M118.1 361.2h0M120.3 354.2h0M122.3 355.5h0M124.5 352.9h0M125.9 345.5h0M128.1 339.5h0M128.9 334.7h0M129.5 333.5h0"/>
<path fill="none" stroke="#0630ff" stroke-width="2.60" stroke-linecap="round" d="M130.8 330.7h0M130.2 331.5h0M136.2 329.4h0M142.4 329.5h0M149.1 332.8h0M155.4 335.3h0M162.5 338.0h0M168.8 337.2h0M176.4 339.3h0M179.4 341.8h0M181.7 347.5h0M176.1 364.1h0M174.6 368.5h0M170.0 375.4h0M169.0 380.5h0M167.0 381.7h0M167.5 383.0h0M166.0 385.6h0M168.1 392.0h0M173.2 393.7h0M174.9 395.3h0M179.3 406.9h0M171.4 415.0h0M167.2 417.4h0M164.9 417.2h0M159.4 416.4h0M158.4 416.4h0M144.1 416.6h0M141.9 418.3h0M139.5 419.4h0M128.1 417.4h0M115.3 411.0h0M115.2 407.9h0M122.5 396.7h0M127.7 397.5h0M135.7 391.7h0M138.4 391.8h0M140.0 388.1h0M140.6 385.6h0M138.3 377.5h0M120.4 362.2h0M118.2 362.0h0M119.3 358.5h0M119.1 356.2h0M127.8 337.7h0M128.3 336.2h0"/>
<path fill="none" stroke="#0630ff" stroke-width="3.20" stroke-linecap="round" d="M134.4 329.5h0M138.2 328.7h0M143.4 329.3h0M146.7 330.5h0M152.3 333.8h0M162.0 336.1h0M166.2 336.8h0M180.2 344.6h0M180.6 344.7h0M179.4 351.6h0M178.4 353.2h0M177.7 358.5h0M177.3 363.3h0M174.5 366.3h0M172.1 375.6h0M167.4 384.1h0M168.1 388.3h0M171.8 394.3h0M174.6 395.8h0M180.2 403.3h0M178.9 403.2h0M176.6 411.2h0M174.2 415.0h0M169.0 415.9h0M166.0 417.5h0M156.9 416.3h0M155.3 414.0h0M149.5 414.4h0M137.3 420.0h0M135.4 418.9h0M131.0 417.9h0M126.6 418.1h0M117.7 412.6h0M116.5 403.9h0M119.1 400.1h0M126.5 394.8h0M134.0 394.3h0M140.8 382.8h0M137.8 379.0h0M136.7 376.8h0M133.1 375.1h0M131.9 373.9h0M130.5 374.7h0M129.0 374.0h0M126.1 371.3h0M121.4 366.2h0M123.2 355.2h0M124.8 351.5h0M126.3 351.1h0M126.8 348.9h0M126.2 347.8h0M126.7 343.2h0M126.2 341.1h0"/>
<g clip-path="url(#cpB2)">
<path fill="none" stroke="#000850" stroke-width="1.50" stroke-linecap="round" opacity="0.55" d="M154.0 384.2h0M158.9 373.9h0M155.5 372.2h0M152.9 366.4h0M158.7 384.6h0M153.1 391.0h0M153.5 388.8h0M154.5 371.8h0M160.7 377.8h0M156.9 368.2h0M160.2 380.3h0M151.9 365.2h0M154.4 378.7h0M157.2 381.7h0M157.1 384.2h0M154.5 367.5h0M158.5 388.2h0M157.0 379.9h0M154.0 384.0h0M155.0 382.9h0M153.5 387.1h0M157.6 379.5h0M154.0 382.6h0M152.1 392.8h0M155.1 375.5h0"/>
<path fill="none" stroke="#000850" stroke-width="2.50" stroke-linecap="round" opacity="0.55" d="M156.6 370.3h0M160.1 386.8h0M159.9 364.1h0M159.0 373.7h0M157.2 389.1h0M153.7 390.8h0M155.8 382.4h0M155.9 372.7h0M157.2 376.1h0M154.5 387.8h0M154.2 385.0h0M156.7 383.6h0M157.8 392.8h0M155.6 381.9h0M161.8 360.2h0M156.7 376.4h0M155.1 400.7h0M155.5 384.0h0M154.7 381.2h0M158.7 383.0h0M154.3 378.1h0M157.8 384.2h0M154.9 376.0h0M157.4 382.2h0M153.2 381.7h0"/>
<path fill="none" stroke="#000850" stroke-width="3.50" stroke-linecap="round" opacity="0.55" d="M156.3 365.0h0M157.9 378.5h0M155.6 386.1h0M153.5 375.7h0M151.2 375.7h0M158.2 383.7h0M154.1 369.0h0M152.9 358.4h0M151.5 391.9h0M151.0 393.7h0M157.9 369.1h0M153.8 372.6h0M154.0 378.3h0M154.3 382.6h0M153.2 376.0h0M155.3 398.6h0M153.9 365.2h0M160.2 380.6h0M153.0 371.5h0M152.8 385.4h0M158.1 380.6h0M153.4 385.1h0M155.6 370.2h0M156.5 371.9h0M155.6 371.3h0"/>
<path fill="none" stroke="#000850" stroke-width="1.50" stroke-linecap="round" opacity="0.55" d="M145.1 344.1h0M156.9 348.2h0M148.8 344.1h0M150.8 344.4h0M144.3 344.1h0M141.5 345.7h0M149.8 342.8h0M149.3 347.4h0M150.3 347.4h0M135.8 342.5h0M141.8 342.4h0M144.4 339.5h0M149.3 346.9h0M151.3 347.5h0M138.1 345.0h0M129.5 344.7h0M143.3 349.1h0M143.1 340.4h0M147.4 347.3h0M146.3 352.4h0"/>
<path fill="none" stroke="#000850" stroke-width="2.50" stroke-linecap="round" opacity="0.55" d="M133.4 344.9h0M149.0 349.3h0M144.2 344.7h0M144.9 345.7h0M150.5 345.5h0M142.6 350.0h0M149.0 344.1h0M147.2 353.4h0M137.6 345.3h0M140.1 348.0h0M155.8 349.5h0M147.8 341.9h0M151.7 339.9h0M146.0 341.8h0M144.9 342.0h0M147.7 346.4h0M150.6 341.5h0M141.6 349.9h0M147.3 343.3h0M139.0 341.7h0"/>
<path fill="none" stroke="#000850" stroke-width="3.50" stroke-linecap="round" opacity="0.55" d="M138.1 345.6h0M136.8 344.1h0M131.6 342.7h0M130.5 346.3h0M151.9 345.2h0M154.2 342.8h0M141.8 341.7h0M145.6 342.3h0M149.1 343.6h0M141.1 342.8h0M150.9 343.5h0M135.0 346.5h0M155.0 342.4h0M143.2 348.6h0M153.8 344.8h0M148.8 352.7h0M143.8 341.4h0M158.0 347.8h0M156.9 345.7h0M132.7 342.3h0"/>
<path fill="none" stroke="#000850" stroke-width="1.50" stroke-linecap="round" opacity="0.55" d="M129.7 367.1h0M128.2 371.1h0M127.9 369.0h0M133.7 371.8h0M134.5 365.7h0M130.2 371.0h0M131.8 372.1h0M137.6 370.8h0M125.3 371.8h0M128.3 373.5h0M128.4 372.1h0M132.7 371.6h0"/>
<path fill="none" stroke="#000850" stroke-width="2.50" stroke-linecap="round" opacity="0.55" d="M135.7 370.7h0M136.0 373.2h0M124.4 372.2h0M121.3 370.5h0M127.7 372.8h0M125.7 374.4h0M128.9 371.4h0M122.8 370.4h0M135.0 371.8h0M136.4 371.4h0M133.7 369.8h0M133.9 370.1h0"/>
<path fill="none" stroke="#000850" stroke-width="3.50" stroke-linecap="round" opacity="0.55" d="M133.8 371.8h0M129.1 369.8h0M129.6 370.3h0M137.0 374.3h0M132.6 368.9h0M133.0 373.6h0M128.6 367.6h0M126.2 372.4h0M128.7 376.2h0M123.6 370.9h0M129.2 371.6h0M137.7 366.8h0"/>
<path fill="none" stroke="#000850" stroke-width="1.50" stroke-linecap="round" opacity="0.55" d="M160.0 404.3h0M151.1 405.9h0M158.7 407.5h0M155.8 409.1h0M155.4 402.3h0M154.6 404.8h0M164.0 402.5h0M170.0 400.0h0M151.7 398.2h0M150.7 402.6h0M154.9 405.4h0M167.1 403.4h0M160.3 403.3h0M163.3 401.9h0"/>
<path fill="none" stroke="#000850" stroke-width="2.50" stroke-linecap="round" opacity="0.55" d="M160.5 407.1h0M164.1 394.6h0M162.4 398.4h0M160.4 403.7h0M169.4 401.1h0M167.6 398.8h0M156.4 405.9h0M151.0 408.9h0M152.6 408.5h0M166.7 411.9h0M161.0 403.0h0M159.6 399.4h0M158.4 404.9h0M157.2 403.9h0"/>
<path fill="none" stroke="#000850" stroke-width="3.50" stroke-linecap="round" opacity="0.55" d="M163.2 413.5h0M161.6 406.7h0M155.9 409.4h0M149.7 403.5h0M159.3 403.4h0M159.9 400.0h0M159.0 405.0h0M161.2 407.4h0M156.4 398.6h0M158.7 405.4h0M155.0 407.4h0M172.2 401.6h0M157.9 408.7h0M143.9 400.2h0"/>
<path fill="none" stroke="#000850" stroke-width="1.50" stroke-linecap="round" opacity="0.55" d="M169.3 356.1h0M172.0 359.5h0M167.0 350.2h0M169.9 347.5h0M173.1 362.5h0M174.1 350.8h0M166.7 358.8h0M175.2 364.7h0M174.8 348.9h0M168.3 345.3h0M173.2 364.9h0M176.2 354.2h0"/>
<path fill="none" stroke="#000850" stroke-width="2.50" stroke-linecap="round" opacity="0.55" d="M176.4 355.1h0M168.4 357.1h0M171.5 363.4h0M172.7 361.3h0M169.3 364.7h0M167.2 353.0h0M168.6 359.9h0M168.5 355.8h0M168.3 355.2h0M170.4 359.5h0M163.9 360.1h0M170.8 358.9h0"/>
<path fill="none" stroke="#000850" stroke-width="3.50" stroke-linecap="round" opacity="0.55" d="M174.3 357.5h0M170.5 352.6h0M174.1 345.7h0M171.7 361.1h0M173.7 365.4h0M161.0 359.5h0M165.4 351.2h0M167.3 354.6h0M170.7 353.6h0M174.9 357.3h0M169.8 361.9h0M168.5 364.1h0"/>
<path fill="none" stroke="#000850" stroke-width="1.50" stroke-linecap="round" opacity="0.55" d="M120.5 407.3h0M121.3 410.2h0M128.1 410.9h0M122.9 411.7h0M122.1 410.1h0M119.3 405.7h0M120.6 407.1h0M136.1 403.6h0M120.5 401.2h0M122.2 407.7h0"/>
<path fill="none" stroke="#000850" stroke-width="2.50" stroke-linecap="round" opacity="0.55" d="M119.3 403.6h0M126.0 410.6h0M119.9 409.3h0M129.8 411.3h0M122.2 414.2h0M116.8 409.4h0M123.4 411.9h0M121.6 407.7h0M125.1 407.1h0M122.8 401.6h0"/>
<path fill="none" stroke="#000850" stroke-width="3.50" stroke-linecap="round" opacity="0.55" d="M121.9 409.5h0M123.3 407.9h0M121.5 405.4h0M123.2 405.2h0M125.7 411.5h0M124.7 404.9h0M117.3 411.0h0M136.3 403.3h0M127.3 411.8h0M128.0 402.7h0"/>
<path fill="none" stroke="#000850" stroke-width="1.20" stroke-linecap="round" opacity="0.45" d="M155.8 386.5h0M165.6 343.3h0M142.5 332.1h0M150.1 339.7h0M142.0 359.3h0M124.0 351.0h0M176.7 333.9h0M167.0 393.8h0M167.2 365.3h0M148.1 338.3h0M138.1 409.5h0M175.5 379.8h0M142.1 354.4h0M173.9 370.7h0M175.0 391.0h0M169.7 339.6h0M122.9 413.3h0M137.1 375.8h0M143.0 331.3h0M175.1 355.7h0M155.9 368.0h0M140.1 358.0h0M167.3 408.3h0M173.1 351.0h0M170.9 350.8h0M172.8 416.3h0M146.6 338.6h0M175.3 378.0h0M158.6 413.4h0M173.3 418.7h0M163.5 407.3h0M139.6 378.1h0M152.5 343.8h0M158.1 366.9h0M123.4 335.5h0M149.5 340.8h0M173.4 380.8h0M145.2 355.7h0M163.3 331.2h0M126.6 368.6h0M145.0 376.7h0M124.6 391.2h0M130.5 356.6h0M145.3 357.2h0M136.7 341.9h0"/>
<path fill="none" stroke="#000850" stroke-width="1.20" stroke-linecap="round" opacity="0.8" d="M166.5 398.8h0M173.2 347.3h0M171.9 391.2h0M119.2 357.4h0M171.9 409.8h0M116.4 386.1h0M161.3 379.3h0M150.4 350.3h0M177.9 416.7h0M158.1 356.6h0M169.2 415.3h0M133.3 366.8h0M173.2 359.1h0M178.4 399.0h0M142.7 344.3h0M172.1 339.9h0M160.8 353.2h0M162.8 374.1h0M134.8 353.6h0M168.3 376.1h0M122.9 375.4h0M179.7 409.4h0M127.2 349.4h0M124.0 389.0h0M145.8 335.9h0M175.7 335.7h0M175.1 329.7h0M154.0 377.3h0M143.2 380.1h0M126.1 417.8h0M127.8 345.2h0M163.7 331.7h0M167.4 342.6h0M174.5 384.9h0M175.7 381.6h0M115.5 409.1h0M119.3 334.8h0M166.5 410.7h0M136.4 372.5h0M117.4 355.2h0M169.8 386.0h0M180.1 395.9h0M150.3 382.4h0M166.1 339.2h0M144.0 389.1h0"/>
<path fill="none" stroke="#000850" stroke-width="2.00" stroke-linecap="round" opacity="0.45" d="M151.4 352.1h0M162.5 393.8h0M132.4 377.9h0M171.5 383.2h0M132.5 347.3h0M179.3 333.8h0M144.8 408.1h0M136.7 383.7h0M155.4 401.4h0M148.5 394.0h0M171.8 331.9h0M122.8 345.1h0M157.5 381.1h0M162.9 385.0h0M118.9 367.3h0M161.1 402.6h0M164.0 399.1h0M165.7 373.8h0M158.1 374.9h0M140.3 351.4h0M148.0 388.2h0M154.6 369.9h0M136.1 371.0h0M161.3 392.2h0M178.4 340.6h0M165.1 383.0h0M124.2 395.9h0M149.7 417.5h0M115.5 365.9h0M149.9 337.3h0M151.9 371.4h0M177.0 416.3h0M160.1 393.4h0M179.6 384.0h0M134.8 339.8h0M171.7 366.6h0M121.0 349.5h0M135.6 414.0h0M176.1 348.7h0M125.9 381.6h0M180.9 395.2h0M152.7 410.9h0M173.6 412.0h0M127.0 406.2h0M176.9 348.2h0"/>
<path fill="none" stroke="#000850" stroke-width="2.00" stroke-linecap="round" opacity="0.8" d="M140.3 333.5h0M142.9 351.2h0M167.6 401.2h0M146.9 365.0h0M154.4 397.2h0M146.4 373.1h0M156.6 345.4h0M147.4 377.6h0M142.9 333.3h0M133.5 414.2h0M156.2 375.6h0M164.2 375.0h0M152.7 387.4h0M129.6 338.4h0M119.1 394.4h0M166.5 341.4h0M131.2 404.4h0M123.2 418.6h0M170.6 369.5h0M171.6 363.3h0M132.2 407.9h0M159.4 356.2h0M155.4 372.9h0M127.7 375.2h0M123.7 347.8h0M142.4 372.0h0M161.0 375.5h0M151.4 357.3h0M145.1 362.9h0M173.3 404.0h0M150.6 369.4h0M124.3 375.5h0M138.7 338.3h0M139.7 383.9h0M124.5 405.2h0M164.5 372.4h0M116.0 397.4h0M164.3 388.3h0M119.7 405.6h0M152.1 360.8h0M123.3 398.6h0M140.0 399.4h0M132.4 400.8h0M123.2 373.3h0M147.6 412.6h0"/>
<path fill="none" stroke="#000850" stroke-width="3.00" stroke-linecap="round" opacity="0.45" d="M134.1 392.2h0M129.9 412.1h0M128.6 398.0h0M138.4 393.0h0M149.6 395.7h0M175.1 401.2h0M146.8 352.2h0M171.5 356.8h0M175.6 410.1h0M123.2 410.7h0M175.4 353.5h0M140.2 405.1h0M135.1 393.6h0M173.7 335.6h0M117.6 358.1h0M139.9 355.8h0M169.0 408.7h0M157.6 363.6h0M137.8 409.6h0M117.3 392.5h0M129.6 335.9h0M118.4 377.8h0M155.7 334.8h0M119.8 370.7h0M144.9 415.8h0M140.7 401.2h0M160.3 353.6h0M147.9 371.5h0M116.7 383.4h0M133.1 352.3h0M129.8 375.8h0M176.4 417.0h0M115.5 378.2h0M171.2 397.7h0M120.5 403.0h0M173.6 391.1h0M167.8 352.8h0M122.1 330.8h0M168.4 347.8h0M141.4 343.1h0M128.0 343.5h0M137.2 390.9h0M168.3 355.4h0M142.6 362.0h0M159.3 373.8h0"/>
<path fill="none" stroke="#000850" stroke-width="3.00" stroke-linecap="round" opacity="0.8" d="M157.9 361.6h0M161.8 411.4h0M163.9 407.8h0M180.5 402.5h0M173.7 356.9h0M171.2 375.1h0M160.1 332.7h0M156.3 366.1h0M147.1 360.0h0M141.5 395.4h0M161.0 351.8h0M157.1 362.1h0M160.3 345.6h0M171.7 347.5h0M152.4 340.7h0M180.1 386.6h0M123.6 395.5h0M133.0 343.5h0M128.5 384.8h0M134.5 387.6h0M179.5 371.4h0M161.0 400.0h0M176.4 353.1h0M133.2 351.7h0M159.2 363.8h0M160.1 341.5h0M125.7 418.6h0M172.7 346.5h0M138.8 377.4h0M168.1 365.4h0M174.9 403.8h0M171.7 344.5h0M119.7 368.5h0M172.6 387.4h0M130.0 393.9h0M142.2 341.8h0M153.3 389.6h0M129.6 354.5h0M172.4 368.8h0M170.2 379.0h0M174.4 408.1h0M143.8 342.7h0M173.6 353.3h0M152.8 353.7h0M141.7 358.0h0"/>
<path fill="none" stroke="#2a50ff" stroke-width="1.60" stroke-linecap="round" opacity="0.55" d="M120.6 347.1h0M151.6 379.2h0M125.3 329.7h0M165.4 389.2h0M115.6 359.3h0M124.5 399.9h0M180.6 365.7h0M117.4 360.6h0M152.2 379.1h0M129.5 384.4h0M169.8 351.7h0M127.7 355.2h0M131.7 401.3h0M152.9 413.5h0M118.4 406.0h0M177.6 377.4h0M159.8 353.4h0M116.9 378.9h0M119.4 370.9h0M173.7 334.8h0M139.3 397.9h0M132.8 351.1h0M176.2 373.5h0M135.6 376.8h0M159.2 401.1h0M165.9 413.1h0M147.1 404.4h0M142.2 409.7h0M156.4 330.0h0M124.6 358.1h0M163.0 374.5h0M133.5 418.1h0M156.6 369.4h0M135.9 335.1h0M158.4 382.4h0M132.7 348.3h0M127.2 333.3h0M123.9 356.4h0M128.9 360.3h0M125.6 362.5h0M127.3 331.1h0M141.6 333.8h0M121.5 414.4h0M170.6 397.4h0M116.7 344.8h0M119.7 381.9h0M153.4 357.9h0M146.5 413.3h0M148.2 399.1h0M173.8 402.0h0"/>
<path fill="none" stroke="#2a50ff" stroke-width="2.60" stroke-linecap="round" opacity="0.55" d="M119.9 364.1h0M176.0 408.2h0M166.5 376.2h0M116.0 394.6h0M159.0 410.8h0M118.9 384.4h0M138.0 368.5h0M162.4 367.1h0M179.2 412.1h0M123.3 395.4h0M164.3 368.2h0M146.1 404.1h0M148.3 362.8h0M151.0 332.9h0M175.9 376.5h0M145.1 354.6h0M118.3 334.0h0M136.7 377.3h0M136.9 352.1h0M156.3 346.0h0M146.2 378.6h0M118.8 415.9h0M164.9 409.6h0M122.6 345.9h0M176.2 400.0h0M124.7 339.4h0M122.2 351.7h0M132.5 345.7h0M117.8 359.8h0M149.4 360.4h0M129.0 330.4h0M143.4 373.0h0M178.7 350.5h0M122.4 368.6h0M165.2 407.7h0M120.1 373.6h0M119.0 407.1h0M179.4 335.0h0M177.4 401.9h0M127.1 359.0h0M176.5 414.8h0M129.8 355.0h0M142.7 384.2h0M117.4 390.3h0M146.0 373.0h0M121.1 387.3h0M150.4 357.5h0M178.4 416.1h0M152.2 418.3h0M140.2 402.3h0"/>
</g>
<line x1="88.5" y1="253.4" x2="121.3" y2="253.4" stroke="#111" stroke-width="0.6"/>
<path d="M123.8,253.4 L120.8,252.1 L120.8,254.70000000000002 Z" fill="#111"/>
<line x1="91.8" y1="382.4" x2="124.1" y2="382.4" stroke="#111" stroke-width="0.6"/>
<path d="M126.6,382.4 L123.6,381.09999999999997 L123.6,383.7 Z" fill="#111"/>
<text x="63.20" y="303.00" font-size="10.0" fill="#111" text-anchor="middle" textLength="55.40" lengthAdjust="spacingAndGlyphs">Inactive state</text>
<text x="62.70" y="313.20" font-size="10.0" fill="#111" text-anchor="middle" textLength="26.40" lengthAdjust="spacingAndGlyphs">(7k19)</text>
<text x="148.40" y="303.00" font-size="10.0" fill="#111" text-anchor="middle" textLength="48.30" lengthAdjust="spacingAndGlyphs">Active state</text>
<text x="148.50" y="313.20" font-size="10.0" fill="#111" text-anchor="middle" textLength="26.40" lengthAdjust="spacingAndGlyphs">(7k0y)</text>
<text x="63.30" y="434.40" font-size="10.0" fill="#111" text-anchor="middle" textLength="48.60" lengthAdjust="spacingAndGlyphs">Active state</text>
<text x="63.30" y="444.60" font-size="10.0" fill="#111" text-anchor="middle" textLength="26.20" lengthAdjust="spacingAndGlyphs">(7k0y)</text>
<text x="148.80" y="434.40" font-size="10.0" fill="#111" text-anchor="middle" textLength="55.20" lengthAdjust="spacingAndGlyphs">Inactive state</text>
<text x="148.60" y="444.60" font-size="10.0" fill="#111" text-anchor="middle" textLength="26.20" lengthAdjust="spacingAndGlyphs">(7k19)</text>
<line x1="250.9" y1="204.5" x2="554.6" y2="204.5" stroke="#d9d9d9" stroke-width="0.7"/>
<line x1="554.6" y1="204.5" x2="554.6" y2="295.2" stroke="#d0d0d0" stroke-width="0.7"/>
<line x1="250.9" y1="204.5" x2="250.9" y2="295.2" stroke="#c9c9c9" stroke-width="0.8"/>
<line x1="250.9" y1="295.2" x2="554.6" y2="295.2" stroke="#9a9a9a" stroke-width="0.8"/>
<line x1="251.1" y1="295.2" x2="251.1" y2="293.2" stroke="#aaa" stroke-width="0.5"/>
<line x1="251.1" y1="204.5" x2="251.1" y2="206.5" stroke="#ccc" stroke-width="0.5"/>
<text x="251.05" y="306.15" font-size="7.7" fill="#222" text-anchor="middle">-100</text>
<line x1="301.7" y1="295.2" x2="301.7" y2="293.2" stroke="#aaa" stroke-width="0.5"/>
<line x1="301.7" y1="204.5" x2="301.7" y2="206.5" stroke="#ccc" stroke-width="0.5"/>
<text x="301.70" y="306.15" font-size="7.7" fill="#222" text-anchor="middle">0</text>
<line x1="352.3" y1="295.2" x2="352.3" y2="293.2" stroke="#aaa" stroke-width="0.5"/>
<line x1="352.3" y1="204.5" x2="352.3" y2="206.5" stroke="#ccc" stroke-width="0.5"/>
<text x="352.35" y="306.15" font-size="7.7" fill="#222" text-anchor="middle">100</text>
<line x1="403.0" y1="295.2" x2="403.0" y2="293.2" stroke="#aaa" stroke-width="0.5"/>
<line x1="403.0" y1="204.5" x2="403.0" y2="206.5" stroke="#ccc" stroke-width="0.5"/>
<text x="403.00" y="306.15" font-size="7.7" fill="#222" text-anchor="middle">200</text>
<line x1="453.6" y1="295.2" x2="453.6" y2="293.2" stroke="#aaa" stroke-width="0.5"/>
<line x1="453.6" y1="204.5" x2="453.6" y2="206.5" stroke="#ccc" stroke-width="0.5"/>
<text x="453.65" y="306.15" font-size="7.7" fill="#222" text-anchor="middle">300</text>
<line x1="504.3" y1="295.2" x2="504.3" y2="293.2" stroke="#aaa" stroke-width="0.5"/>
<line x1="504.3" y1="204.5" x2="504.3" y2="206.5" stroke="#ccc" stroke-width="0.5"/>
<text x="504.30" y="306.15" font-size="7.7" fill="#222" text-anchor="middle">400</text>
<line x1="554.9" y1="295.2" x2="554.9" y2="293.2" stroke="#aaa" stroke-width="0.5"/>
<line x1="554.9" y1="204.5" x2="554.9" y2="206.5" stroke="#ccc" stroke-width="0.5"/>
<text x="554.95" y="306.15" font-size="7.7" fill="#222" text-anchor="middle">500</text>
<line x1="250.9" y1="295.2" x2="252.9" y2="295.2" stroke="#aaa" stroke-width="0.5"/>
<line x1="554.6" y1="295.2" x2="552.6" y2="295.2" stroke="#ccc" stroke-width="0.5"/>
<text x="248.00" y="297.95" font-size="7.7" fill="#222" text-anchor="end">-100</text>
<line x1="250.9" y1="272.5" x2="252.9" y2="272.5" stroke="#aaa" stroke-width="0.5"/>
<line x1="554.6" y1="272.5" x2="552.6" y2="272.5" stroke="#ccc" stroke-width="0.5"/>
<text x="248.00" y="275.28" font-size="7.7" fill="#222" text-anchor="end">-50</text>
<line x1="250.9" y1="249.8" x2="252.9" y2="249.8" stroke="#aaa" stroke-width="0.5"/>
<line x1="554.6" y1="249.8" x2="552.6" y2="249.8" stroke="#ccc" stroke-width="0.5"/>
<text x="248.00" y="252.60" font-size="7.7" fill="#222" text-anchor="end">0</text>
<line x1="250.9" y1="227.1" x2="252.9" y2="227.1" stroke="#aaa" stroke-width="0.5"/>
<line x1="554.6" y1="227.1" x2="552.6" y2="227.1" stroke="#ccc" stroke-width="0.5"/>
<text x="248.00" y="229.93" font-size="7.7" fill="#222" text-anchor="end">50</text>
<line x1="250.9" y1="204.5" x2="252.9" y2="204.5" stroke="#aaa" stroke-width="0.5"/>
<line x1="554.6" y1="204.5" x2="552.6" y2="204.5" stroke="#ccc" stroke-width="0.5"/>
<text x="248.00" y="207.25" font-size="7.7" fill="#222" text-anchor="end">100</text>
<text x="403.00" y="317.00" font-size="9.0" fill="#222" text-anchor="middle" textLength="56.50" lengthAdjust="spacingAndGlyphs">PC1 (52.95%)</text>
<text x="227.40" y="249.80" font-size="9.0" fill="#222" text-anchor="middle" textLength="56.80" lengthAdjust="spacingAndGlyphs" transform="rotate(-90 227.40 249.80)">PC2 (21.17%)</text>
<path fill="none" stroke="#0072BD" stroke-width="3.00" stroke-linecap="square" d="M310.7 252.7h0M312.3 251.4h0M311.9 250.0h0M312.8 252.3h0M313.5 251.0h0M314.1 251.1h0M315.0 251.7h0M315.3 252.4h0M316.2 251.3h0M317.0 252.5h0M316.5 253.7h0M318.0 251.4h0M318.4 252.5h0M318.5 252.2h0M319.4 252.3h0M319.7 250.7h0M320.7 253.3h0M320.8 254.2h0M321.4 252.4h0M322.4 253.0h0M322.7 252.1h0M323.6 249.7h0M324.3 249.9h0M324.6 249.5h0M324.9 251.6h0M326.4 250.8h0M327.3 252.0h0M326.8 251.9h0M328.6 250.0h0M329.1 248.2h0M329.3 251.0h0M329.8 250.5h0M330.9 250.7h0M330.3 251.6h0M331.4 251.1h0M332.1 251.1h0M333.5 252.3h0M332.7 251.2h0M333.2 253.9h0M334.4 251.8h0M335.4 249.6h0M335.8 249.5h0M335.9 250.1h0M336.7 250.7h0M337.9 247.8h0M337.4 248.9h0M337.8 249.5h0M339.1 250.8h0M340.2 250.5h0M341.0 251.6h0M340.7 249.5h0M341.6 249.0h0M341.7 250.3h0M342.8 249.6h0M343.5 247.5h0M344.0 250.1h0M344.9 250.1h0M345.8 249.6h0M345.5 249.7h0M346.2 250.2h0M347.2 248.9h0M347.3 247.6h0M348.0 245.6h0M348.7 247.4h0M349.8 250.0h0M351.2 247.5h0M351.2 248.9h0M350.6 248.6h0M351.2 247.9h0M352.0 246.3h0M352.9 247.3h0M353.6 246.6h0M353.2 244.8h0M354.3 245.1h0M354.9 243.0h0M355.0 243.2h0M355.0 243.8h0M355.3 243.2h0M356.5 242.2h0M357.4 243.0h0M357.5 241.6h0M358.3 243.4h0M358.3 243.6h0M359.9 241.9h0M360.3 241.1h0M359.7 242.3h0M360.4 243.2h0M360.9 242.1h0M361.8 242.9h0M362.5 241.3h0M363.0 241.6h0M363.4 238.8h0M363.5 240.6h0M365.3 241.0h0M365.5 240.7h0M365.6 241.1h0M366.0 240.4h0M366.7 240.9h0M366.5 240.0h0M368.0 239.0h0M368.3 237.4h0M369.4 239.5h0M369.9 238.3h0M369.9 239.8h0M371.6 238.1h0M370.7 238.1h0M372.2 238.3h0M372.3 236.5h0M373.2 236.4h0M374.4 237.2h0M374.9 237.3h0M374.9 237.4h0M376.2 237.9h0M375.8 236.9h0M377.4 237.9h0M377.9 235.8h0M378.9 235.7h0M378.9 237.3h0M379.3 238.0h0M379.6 236.4h0M381.0 238.8h0M381.0 235.9h0M381.0 234.0h0M382.4 237.2h0M383.2 235.8h0M384.2 235.7h0M384.2 235.0h0M384.8 237.1h0M386.1 235.7h0M385.6 236.6h0M387.2 235.9h0M387.9 237.5h0M388.1 236.1h0M388.9 235.9h0M389.3 238.0h0M389.7 239.2h0M390.7 237.5h0M391.4 237.1h0M391.5 236.8h0M392.5 237.4h0M392.5 238.2h0M393.7 240.1h0M394.1 236.7h0M394.8 238.4h0M395.1 237.5h0M395.4 233.8h0M396.5 238.2h0M397.2 236.7h0M397.4 238.3h0M398.8 235.9h0M399.4 235.9h0M399.8 236.2h0M400.4 235.2h0M400.1 238.7h0M401.2 238.3h0M401.7 238.3h0M402.7 237.2h0M403.2 236.7h0M403.5 240.4h0M404.6 238.9h0M404.9 239.9h0M406.2 241.0h0M406.2 239.3h0M407.0 237.9h0M407.1 239.3h0M408.4 238.7h0M408.3 237.9h0M410.1 240.0h0M409.7 240.5h0M410.4 239.2h0M411.6 241.5h0M412.2 240.9h0M412.6 241.8h0M412.6 240.1h0M413.6 242.2h0M414.8 240.1h0M414.8 243.4h0M416.2 241.7h0M415.6 242.2h0M416.8 239.8h0M417.1 241.7h0M418.7 241.0h0M419.3 242.7h0M419.3 241.3h0M420.7 241.7h0M420.1 241.4h0M420.9 242.6h0M422.3 239.7h0M422.8 241.7h0M422.5 242.0h0M424.2 242.3h0M424.5 241.0h0M424.5 242.8h0M425.3 240.6h0M426.3 240.9h0M427.1 241.3h0M427.2 244.2h0M428.1 242.8h0M428.5 241.6h0M428.8 241.4h0M429.6 240.8h0M430.0 240.6h0M430.6 241.1h0M431.4 243.3h0M431.7 241.0h0M432.6 242.6h0M432.6 242.3h0M434.3 243.6h0M434.5 242.2h0M434.8 242.1h0M436.4 241.5h0M436.3 244.6h0M437.6 241.9h0M437.8 241.7h0M438.0 243.7h0M438.8 243.8h0M439.9 243.4h0M440.3 244.1h0M440.5 244.3h0M441.6 241.6h0M441.6 244.1h0M442.3 243.8h0M442.7 242.3h0M443.8 243.2h0M443.6 242.7h0M445.4 242.5h0M445.5 243.4h0M446.0 243.9h0M446.1 243.5h0M446.5 245.4h0M447.7 243.7h0M448.1 245.1h0M448.3 245.2h0M449.0 246.1h0M449.9 244.3h0M451.0 243.5h0M452.1 245.8h0M452.0 244.2h0M451.6 245.3h0M452.4 247.3h0M452.8 247.1h0M454.7 247.1h0M454.8 248.4h0M455.6 246.8h0M456.9 245.7h0M456.5 248.6h0M456.8 246.8h0M458.0 245.6h0M458.4 248.4h0M459.3 249.8h0M459.4 248.9h0M460.5 247.6h0M460.8 249.8h0M461.5 249.3h0M462.1 249.9h0M462.5 247.0h0M462.5 248.1h0M463.4 247.0h0M464.1 246.7h0M464.7 250.6h0M465.3 249.3h0M465.5 249.6h0M466.5 249.4h0M466.6 249.5h0M467.9 251.5h0M468.1 249.3h0M469.5 250.7h0M469.8 251.0h0M469.9 251.5h0M470.2 250.3h0M471.0 251.3h0M470.6 249.9h0M472.6 251.5h0M472.4 250.1h0M473.2 252.9h0M474.1 252.6h0M474.6 250.2h0M475.8 252.1h0M476.0 255.2h0M475.8 253.6h0M477.2 256.2h0M477.1 255.5h0M478.3 255.8h0M478.7 255.2h0M479.0 256.3h0M480.4 252.4h0M480.5 256.0h0M481.1 255.4h0M481.1 255.7h0M481.9 253.9h0M482.6 255.8h0M482.2 255.6h0M483.6 255.3h0M484.6 255.7h0M485.3 256.7h0M485.1 256.9h0M486.8 256.2h0M486.4 255.6h0M487.4 256.0h0M487.0 256.3h0M487.9 255.1h0M488.9 257.7h0M489.6 258.4h0M490.5 254.3h0M490.3 257.9h0M491.2 258.3h0M491.8 254.7h0M493.2 258.0h0M493.3 259.7h0M493.3 257.8h0M493.4 259.1h0M494.6 259.6h0M496.4 258.9h0M496.0 258.8h0"/>
<path fill="none" stroke="#D95319" stroke-width="2.40" stroke-linecap="square" d="M314.4 256.0h0M313.8 256.7h0M314.4 255.7h0M314.6 257.5h0M314.9 254.6h0M315.7 255.6h0M316.3 255.3h0M316.6 257.6h0M318.1 256.8h0M317.6 257.1h0M318.4 260.5h0M319.1 260.0h0M319.7 260.6h0M320.6 260.3h0M320.5 260.4h0M321.9 258.6h0M321.8 259.8h0M323.2 260.3h0M323.1 260.1h0M324.6 263.4h0M323.7 261.1h0M324.9 262.0h0M325.7 260.5h0M325.8 258.6h0M326.4 260.0h0M326.7 256.8h0M327.3 257.6h0M328.2 255.9h0M328.5 257.0h0M328.7 255.4h0M328.6 256.9h0M329.4 256.0h0M329.4 254.3h0M330.7 256.6h0M331.4 254.0h0M331.7 254.0h0M331.9 255.9h0M332.8 255.0h0M332.9 253.9h0M333.5 253.4h0M334.6 254.8h0M334.4 253.6h0M335.0 251.9h0M335.7 250.7h0M335.8 250.3h0M336.4 251.2h0M337.1 250.1h0M337.3 251.1h0M337.5 249.2h0M338.1 249.0h0M338.8 245.5h0M339.0 246.7h0M339.6 248.4h0M340.4 245.0h0M341.0 248.5h0M341.8 245.3h0M341.7 246.6h0M341.9 247.8h0M343.2 245.2h0M344.0 245.4h0M344.0 246.5h0M344.8 247.8h0M344.2 248.2h0M346.3 248.6h0M345.8 247.2h0M347.2 251.1h0M347.7 246.6h0M348.3 249.2h0M349.2 248.0h0M349.0 246.8h0M350.6 250.5h0M350.2 249.6h0M351.1 247.2h0M352.1 250.8h0M352.3 248.8h0M353.1 247.9h0M353.3 250.3h0M353.9 249.8h0M355.2 248.3h0M355.6 251.6h0M356.2 248.8h0M356.8 249.0h0M357.3 251.4h0M357.9 248.3h0M358.2 250.1h0M358.7 251.7h0M360.2 250.5h0M359.6 250.9h0M361.0 250.9h0M361.8 251.0h0M361.4 249.7h0M362.5 250.4h0M363.1 250.3h0M362.9 250.3h0M364.2 252.0h0M365.5 249.0h0M365.5 249.8h0M365.9 251.3h0M366.3 250.4h0M367.9 250.6h0M367.2 251.7h0M368.5 250.2h0M369.2 251.0h0M369.6 249.9h0M370.1 250.2h0M371.2 250.3h0M371.6 251.1h0M372.5 248.2h0M372.6 252.8h0M373.6 251.5h0M374.4 250.5h0M375.0 250.6h0M374.9 250.7h0M376.5 251.1h0M377.1 250.6h0M376.8 248.3h0M377.0 249.8h0M378.9 251.0h0M378.5 250.9h0M380.1 252.5h0M380.5 250.8h0M380.5 250.6h0M380.8 251.3h0M382.0 253.5h0M382.3 251.5h0M382.8 253.0h0M384.3 254.3h0M384.9 252.1h0M385.0 252.9h0M386.1 252.7h0M385.8 251.5h0M386.2 253.3h0M387.2 254.4h0M387.9 253.6h0M388.9 253.6h0M389.1 256.2h0M389.9 252.7h0M390.2 254.4h0M390.9 255.5h0M391.6 253.1h0M391.8 254.5h0M392.4 253.0h0M392.6 252.7h0M394.1 253.1h0M394.5 254.2h0M395.6 252.8h0M395.6 253.9h0M396.2 254.2h0M396.9 254.0h0M397.4 254.6h0M398.0 254.4h0M399.1 251.9h0M399.1 253.8h0M400.0 251.7h0M400.3 252.6h0M401.3 252.4h0M401.5 252.8h0M402.3 251.2h0M402.5 252.9h0M403.2 251.5h0M404.0 251.8h0M405.0 252.1h0M405.6 252.8h0M406.1 249.7h0M406.7 252.3h0M407.8 251.2h0M407.7 250.2h0M408.6 251.8h0M409.4 254.0h0M410.0 253.7h0M409.7 252.2h0M410.3 253.0h0M411.6 251.8h0M412.2 250.9h0M412.2 252.4h0M413.2 251.2h0M413.3 251.9h0M414.3 252.9h0M414.0 250.2h0M415.5 249.3h0M416.4 251.1h0M416.6 251.7h0M417.2 250.4h0M418.2 252.4h0M418.8 249.2h0M419.1 250.6h0M419.6 252.0h0M420.7 251.5h0M421.1 251.7h0M421.9 251.4h0M422.4 248.1h0M423.5 252.0h0M422.8 251.2h0M424.9 250.1h0M424.7 253.1h0M425.3 252.0h0M425.4 251.5h0M427.1 250.4h0M426.5 251.0h0M427.7 249.7h0M428.1 251.8h0M429.3 250.7h0M429.2 252.5h0M429.9 252.1h0M430.1 251.8h0M431.4 250.5h0M432.1 250.8h0M432.7 250.4h0M433.6 249.9h0M433.5 249.2h0M434.7 250.9h0M434.7 251.5h0M435.2 251.1h0M435.9 249.2h0M437.3 251.7h0M437.7 250.1h0M438.1 252.2h0M438.0 250.6h0M439.8 252.5h0M440.4 251.9h0M440.2 249.6h0M441.0 251.4h0M441.8 250.9h0M442.5 249.7h0M442.6 251.4h0M443.5 249.7h0M443.8 252.7h0M443.9 252.2h0M445.1 251.8h0M445.5 251.9h0M446.6 251.7h0M446.9 252.0h0M448.3 252.7h0M448.7 253.0h0M448.4 254.8h0M448.9 253.9h0M449.3 253.1h0M450.5 253.9h0M451.9 252.6h0M451.9 254.1h0M452.1 255.0h0M453.3 254.8h0M453.2 253.8h0M454.7 254.5h0M455.1 254.2h0M455.5 252.5h0M455.7 254.1h0M456.0 253.6h0M457.7 255.7h0M458.1 255.9h0M458.8 258.7h0M459.0 256.3h0M459.9 256.9h0M460.2 259.0h0M460.7 258.7h0M461.2 257.6h0M462.3 257.0h0M462.4 258.1h0M463.1 256.2h0M464.1 259.7h0M464.3 258.3h0M465.1 260.2h0M465.9 257.6h0M465.8 260.1h0M467.1 258.4h0M466.8 260.6h0M467.6 260.7h0M469.0 262.1h0M469.6 260.5h0M470.4 260.2h0M470.8 260.8h0M471.1 261.0h0M471.3 260.5h0M472.0 261.5h0M472.0 262.9h0M472.9 262.8h0M473.2 260.3h0M473.8 262.4h0M474.9 264.7h0M475.4 264.2h0M476.1 262.7h0M476.6 263.5h0M477.3 264.0h0M477.1 263.8h0M478.1 263.5h0M478.7 264.3h0M480.1 261.2h0M480.5 262.3h0M480.6 260.8h0M481.0 263.7h0M481.6 265.1h0M482.3 263.5h0M483.4 263.0h0M484.0 264.4h0M484.1 264.4h0M485.0 264.4h0M485.1 264.5h0M485.9 263.4h0M487.0 263.3h0M488.0 264.8h0M488.1 264.0h0M489.2 263.2h0M488.3 264.4h0M490.6 263.1h0M490.8 264.2h0M491.1 264.6h0M491.7 263.3h0M492.3 264.6h0M492.7 264.4h0"/>
<path fill="none" stroke="#EDB120" stroke-width="3.80" stroke-linecap="square" d="M311.1 253.6h0M311.4 253.9h0M312.4 254.6h0M313.2 255.4h0M313.3 255.5h0M313.9 253.3h0M314.7 255.4h0M314.7 253.9h0M315.8 255.1h0M316.1 253.5h0M316.4 255.5h0M317.4 254.3h0M318.4 254.8h0M318.6 256.1h0M319.7 256.4h0M319.7 254.4h0M320.5 256.9h0M320.8 256.5h0M322.0 256.7h0M322.2 255.8h0M322.3 253.9h0M324.7 255.6h0M325.1 254.9h0M324.0 253.5h0M324.5 252.4h0M325.9 254.6h0M326.9 254.8h0M327.6 254.4h0M328.2 254.8h0M328.7 255.3h0M329.4 254.6h0M329.7 256.5h0M330.9 256.8h0M330.8 253.6h0M331.6 251.8h0M332.8 253.1h0M332.3 252.1h0M334.0 254.4h0M334.4 254.1h0M334.8 253.0h0M335.4 251.6h0M336.1 251.4h0M336.1 252.5h0M337.8 254.4h0M338.0 254.7h0M338.5 253.0h0M338.8 251.9h0M339.4 251.3h0M340.9 254.5h0M340.4 253.4h0M341.1 250.9h0M342.3 251.8h0M342.4 254.5h0M343.6 250.3h0M343.8 251.7h0M344.5 252.4h0M344.8 253.7h0M345.6 251.0h0M346.4 250.6h0M346.6 251.3h0M348.1 251.2h0M348.4 251.3h0M349.2 253.5h0M349.6 250.8h0M350.3 252.4h0M351.4 253.0h0M351.5 251.3h0M352.1 252.7h0M351.6 251.2h0M352.3 251.2h0M353.5 249.7h0M353.8 250.8h0M354.2 250.4h0M354.9 250.3h0M355.8 250.4h0M357.2 247.5h0M357.3 249.1h0M356.9 250.1h0M358.1 250.4h0M358.7 248.6h0M359.2 249.5h0M359.5 250.3h0M360.4 249.7h0M361.3 249.2h0M362.3 248.6h0M362.1 248.9h0M363.6 247.4h0M363.7 248.5h0M364.1 248.1h0M364.9 250.2h0M365.2 249.4h0M366.2 248.9h0M366.2 248.6h0M367.1 248.0h0M368.1 249.4h0M368.9 248.7h0M368.7 247.6h0M370.5 247.2h0M369.7 249.7h0M370.5 249.0h0M371.5 248.7h0M371.9 248.7h0M372.5 245.3h0M372.7 250.1h0M373.9 249.4h0M373.8 248.6h0M374.7 248.1h0M375.0 245.3h0M376.4 246.1h0M376.6 248.4h0M377.4 247.8h0M377.8 248.2h0M378.8 248.4h0M379.0 246.4h0M380.3 246.4h0M380.8 247.5h0M380.3 247.2h0M381.8 248.6h0M382.3 246.1h0M382.1 247.8h0M382.5 247.8h0M383.7 245.9h0M384.1 246.0h0M384.7 243.9h0M385.7 244.3h0M385.8 247.6h0M387.3 246.9h0M387.8 247.5h0M388.2 246.7h0M389.2 246.5h0M389.7 246.1h0M390.1 247.3h0M390.7 244.3h0M391.6 246.3h0M391.7 243.6h0M392.3 245.9h0M393.1 243.8h0M393.8 245.7h0M393.7 244.3h0M395.3 243.2h0M395.5 246.8h0M395.5 246.0h0M396.5 244.2h0M396.5 242.0h0M398.0 244.1h0M398.9 244.0h0M398.6 243.1h0M398.9 241.2h0M399.9 243.7h0M401.0 242.2h0M401.3 243.0h0M402.0 242.1h0M402.2 242.9h0M403.4 243.0h0M404.2 242.4h0M404.2 243.5h0M404.9 244.2h0M405.1 245.8h0M406.5 240.0h0M406.2 242.7h0M406.9 242.0h0M408.0 243.2h0M408.7 243.5h0M409.4 243.3h0M410.2 244.0h0M410.9 244.3h0M411.1 244.1h0M411.2 242.4h0M412.9 241.6h0M413.4 242.5h0M413.5 241.1h0M413.7 243.0h0M414.2 242.2h0M415.0 244.5h0M416.5 242.8h0M416.7 242.4h0M418.2 241.8h0M417.5 242.1h0M418.2 243.1h0M418.8 243.0h0M419.8 243.4h0M420.3 245.5h0M421.3 244.6h0M421.8 245.9h0M422.2 244.8h0M423.0 245.9h0M423.1 245.4h0M424.0 245.4h0M425.0 246.3h0M425.6 244.5h0M426.0 244.7h0M426.2 244.9h0M427.3 245.5h0M427.8 245.5h0M427.8 244.5h0M428.8 245.7h0M430.0 246.6h0M429.6 244.6h0M430.5 246.5h0M431.5 248.7h0M431.6 247.0h0M431.9 247.7h0M433.4 246.4h0M433.4 245.4h0M434.1 246.0h0M435.3 247.0h0M435.9 246.8h0M435.9 245.3h0M437.2 246.7h0M437.8 247.6h0M437.8 247.9h0M438.9 247.5h0M439.2 249.4h0M439.5 248.5h0M440.3 247.9h0M441.1 247.3h0M441.5 248.9h0M441.7 248.5h0M443.0 247.4h0M443.3 249.5h0M443.9 248.4h0M444.6 246.7h0M445.0 248.0h0M444.9 249.2h0M446.0 247.8h0M446.9 247.5h0M447.0 249.3h0M447.1 252.5h0M448.5 249.8h0M448.9 249.6h0M449.7 250.2h0M450.4 253.4h0M450.9 250.7h0M451.8 252.8h0M451.8 253.0h0M453.0 251.3h0M453.0 252.1h0M454.1 252.3h0M454.2 252.3h0M454.6 251.5h0M455.1 252.2h0M455.5 252.8h0M456.6 253.4h0M457.6 253.1h0M458.0 253.6h0M458.3 252.8h0M458.9 253.5h0M459.2 252.8h0M459.6 251.1h0M460.1 252.8h0M461.1 254.1h0M462.3 254.9h0M463.0 254.8h0M462.9 253.9h0M463.6 254.5h0M464.1 254.9h0M465.3 255.8h0M465.1 254.3h0M465.9 254.5h0M467.3 255.9h0M467.5 255.3h0M468.5 253.0h0M468.7 256.0h0M469.4 254.0h0M469.4 253.7h0M469.4 255.1h0M470.5 255.3h0M471.1 254.8h0M472.2 254.7h0M471.7 256.1h0M473.0 256.5h0M473.8 254.5h0M473.9 256.1h0M474.7 254.8h0M475.2 255.4h0M476.2 255.5h0M476.9 255.4h0M477.2 257.2h0M477.5 257.7h0M478.8 257.3h0M478.3 258.1h0M479.6 257.8h0M479.9 257.8h0M480.7 258.7h0M481.7 255.8h0M481.6 258.3h0M483.1 258.1h0M483.6 256.6h0M484.1 257.9h0M484.7 259.6h0M485.0 259.5h0M485.6 258.7h0M486.1 260.4h0M486.6 259.8h0M487.6 262.6h0M487.4 261.0h0M488.4 263.2h0M489.1 261.9h0M489.7 265.6h0M490.2 263.2h0M491.1 261.7h0M491.2 262.7h0M492.1 262.8h0M492.8 262.3h0M493.2 262.2h0M494.1 261.7h0M494.3 261.8h0M495.2 262.0h0M495.3 262.9h0M496.1 265.0h0"/>
<path d="M302.7,250.7 L342.7,251.2 L410.1,253.0 L453.6,255.7 L494.7,259.3 L503.3,263.4" fill="none" stroke="#77AC30" stroke-width="0.9"/>
<path fill="none" stroke="#77AC30" stroke-width="2.30" stroke-linecap="round" d="M302.7 250.7h0M306.4 250.7h0M310.0 250.8h0M313.6 250.8h0M317.3 250.9h0M320.9 250.9h0M324.5 251.0h0M328.2 251.0h0M331.8 251.0h0M335.5 251.1h0M339.1 251.1h0M342.7 251.2h0M346.3 251.3h0M349.8 251.4h0M353.4 251.4h0M356.9 251.5h0M360.5 251.6h0M364.0 251.7h0M367.5 251.8h0M371.1 251.9h0M374.6 252.0h0M378.2 252.1h0M381.7 252.2h0M385.3 252.3h0M388.8 252.4h0M392.4 252.5h0M395.9 252.6h0M399.5 252.7h0M403.0 252.8h0M406.5 252.9h0M410.1 253.0h0M413.7 253.2h0M417.4 253.4h0M421.0 253.7h0M424.6 253.9h0M428.2 254.1h0M431.9 254.3h0M435.5 254.6h0M439.1 254.8h0M442.8 255.0h0M446.4 255.2h0M450.0 255.5h0M453.6 255.7h0M457.1 256.0h0M460.5 256.3h0M463.9 256.6h0M467.3 256.9h0M470.7 257.2h0M474.2 257.5h0M477.6 257.8h0M481.0 258.1h0M484.4 258.4h0M487.8 258.7h0M491.3 259.0h0M494.7 259.3h0M499.0 261.4h0M503.3 263.4h0"/>
<path d="M304.2,251.2 L322.0,253.0 L340.7,254.8 L401.0,260.2 L453.6,263.4 L494.7,265.7 L503.3,264.8" fill="none" stroke="#7E2F8E" stroke-width="0.9"/>
<path fill="none" stroke="#7E2F8E" stroke-width="2.30" stroke-linecap="round" d="M304.2 251.2h0M307.8 251.5h0M311.3 251.9h0M314.9 252.2h0M318.4 252.6h0M322.0 253.0h0M325.7 253.3h0M329.5 253.7h0M333.2 254.1h0M337.0 254.4h0M340.7 254.8h0M344.2 255.1h0M347.8 255.4h0M351.3 255.7h0M354.9 256.1h0M358.4 256.4h0M362.0 256.7h0M365.5 257.0h0M369.1 257.3h0M372.6 257.7h0M376.2 258.0h0M379.7 258.3h0M383.2 258.6h0M386.8 259.0h0M390.3 259.3h0M393.9 259.6h0M397.4 259.9h0M401.0 260.2h0M404.5 260.4h0M408.0 260.7h0M411.5 260.9h0M415.0 261.1h0M418.5 261.3h0M422.0 261.5h0M425.6 261.7h0M429.1 261.9h0M432.6 262.1h0M436.1 262.3h0M439.6 262.6h0M443.1 262.8h0M446.6 263.0h0M450.1 263.2h0M453.6 263.4h0M457.1 263.6h0M460.5 263.8h0M463.9 264.0h0M467.3 264.2h0M470.7 264.3h0M474.2 264.5h0M477.6 264.7h0M481.0 264.9h0M484.4 265.1h0M487.8 265.3h0M491.3 265.5h0M494.7 265.7h0M499.0 265.2h0M503.3 264.8h0"/>
<path d="M303.2,250.3 L359.9,243.0 L422.8,235.7" fill="none" stroke="#4DBEEE" stroke-width="0.9"/>
<path fill="none" stroke="#4DBEEE" stroke-width="2.30" stroke-linecap="round" d="M303.2 250.3h0M306.8 249.8h0M310.3 249.3h0M313.9 248.9h0M317.4 248.4h0M320.9 248.0h0M324.5 247.5h0M328.0 247.1h0M331.6 246.6h0M335.1 246.2h0M338.7 245.7h0M342.2 245.3h0M345.8 244.8h0M349.3 244.4h0M352.9 243.9h0M356.4 243.5h0M359.9 243.0h0M363.4 242.6h0M366.9 242.2h0M370.4 241.8h0M373.9 241.4h0M377.4 241.0h0M380.9 240.6h0M384.4 240.2h0M387.9 239.8h0M391.4 239.4h0M394.8 239.0h0M398.3 238.6h0M401.8 238.2h0M405.3 237.8h0M408.8 237.4h0M412.3 237.0h0M415.8 236.5h0M419.3 236.1h0M422.8 235.7h0"/>
<path d="M303.2,249.8 L359.9,243.7 L422.8,236.6" fill="none" stroke="#A2142F" stroke-width="0.9"/>
<path fill="none" stroke="#A2142F" stroke-width="2.30" stroke-linecap="round" d="M303.2 249.8h0M306.8 249.4h0M310.3 249.0h0M313.9 248.7h0M317.4 248.3h0M320.9 247.9h0M324.5 247.5h0M328.0 247.1h0M331.6 246.7h0M335.1 246.4h0M338.7 246.0h0M342.2 245.6h0M345.8 245.2h0M349.3 244.8h0M352.9 244.4h0M356.4 244.1h0M359.9 243.7h0M363.4 243.3h0M366.9 242.9h0M370.4 242.5h0M373.9 242.1h0M377.4 241.7h0M380.9 241.3h0M384.4 240.9h0M387.9 240.6h0M391.4 240.2h0M394.8 239.8h0M398.3 239.4h0M401.8 239.0h0M405.3 238.6h0M408.8 238.2h0M412.3 237.8h0M415.8 237.4h0M419.3 237.0h0M422.8 236.6h0"/>
<path d="M503.3,263.9 L423.3,235.7" fill="none" stroke="#D9A8F5" stroke-width="0.7"/>
<path fill="none" stroke="#D9A8F5" stroke-width="1.40" stroke-linecap="round" d="M503.3 263.9h0M500.0 262.7h0M496.6 261.5h0M493.3 260.3h0M489.9 259.2h0M486.6 258.0h0M483.3 256.8h0M479.9 255.7h0M476.6 254.5h0M473.3 253.3h0M469.9 252.1h0M466.6 251.0h0M463.3 249.8h0M459.9 248.6h0M456.6 247.5h0M453.3 246.3h0M449.9 245.1h0M446.6 243.9h0M443.3 242.8h0M439.9 241.6h0M436.6 240.4h0M433.3 239.3h0M429.9 238.1h0M426.6 236.9h0M423.3 235.7h0"/>
<circle cx="302.3" cy="250.9" r="7.6" fill="#0a2cff" stroke="#000" stroke-width="0.9"/>
<circle cx="503.7" cy="264.7" r="7.6" fill="#ff0000" stroke="#000" stroke-width="0.9"/>
<circle cx="311.6" cy="248.3" r="2.0" fill="#000"/>
<circle cx="311.6" cy="253.6" r="2.0" fill="#000"/>
<circle cx="310.0" cy="252.0" r="2.0" fill="#000"/>
<circle cx="282.3" cy="263.6" r="2.0" fill="#000"/>
<circle cx="353.0" cy="262.9" r="2.0" fill="#000"/>
<circle cx="387.1" cy="234.2" r="2.0" fill="#000"/>
<circle cx="393.3" cy="232.5" r="2.0" fill="#000"/>
<circle cx="402.9" cy="235.0" r="2.0" fill="#000"/>
<circle cx="406.5" cy="235.5" r="2.0" fill="#000"/>
<circle cx="410.6" cy="236.0" r="2.0" fill="#000"/>
<circle cx="422.9" cy="236.4" r="2.0" fill="#000"/>
<circle cx="423.1" cy="238.6" r="2.0" fill="#000"/>
<circle cx="445.0" cy="251.8" r="2.0" fill="#000"/>
<circle cx="456.4" cy="256.4" r="2.0" fill="#000"/>
<circle cx="496.4" cy="269.9" r="2.0" fill="#000"/>
<circle cx="508.6" cy="272.6" r="2.0" fill="#000"/>
<circle cx="511.2" cy="275.7" r="2.0" fill="#000"/>
<circle cx="514.8" cy="278.7" r="2.0" fill="#000"/>
<text x="296.80" y="231.60" font-size="7.9" fill="#111" text-anchor="middle" textLength="17.90" lengthAdjust="spacingAndGlyphs">7k19</text>
<text x="405.30" y="224.30" font-size="7.9" fill="#111" text-anchor="middle" textLength="17.90" lengthAdjust="spacingAndGlyphs">7k1n</text>
<text x="511.70" y="248.80" font-size="7.9" fill="#111" text-anchor="middle" textLength="16.60" lengthAdjust="spacingAndGlyphs">7k0y</text>
<rect x="563.5" y="208.0" width="102.5" height="83" fill="#fff" stroke="#d6d6d6" stroke-width="0.6"/>
<line x1="565.2" y1="213.0" x2="576.7" y2="213.0" stroke="#77AC30" stroke-width="0.9"/>
<circle cx="571" cy="213.0" r="0.9" fill="#77AC30"/>
<text x="578.90" y="215.70" font-size="7.5" fill="#111" textLength="84.00" lengthAdjust="spacingAndGlyphs">7k19 &gt;&gt; 7k0y - eBDIMS2</text>
<line x1="565.2" y1="222.2" x2="576.7" y2="222.2" stroke="#7E2F8E" stroke-width="0.9"/>
<circle cx="571" cy="222.2" r="0.9" fill="#7E2F8E"/>
<text x="578.90" y="224.85" font-size="7.5" fill="#111" textLength="84.00" lengthAdjust="spacingAndGlyphs">7k0y &gt;&gt; 7k19 - eBDIMS2</text>
<line x1="565.2" y1="231.3" x2="576.7" y2="231.3" stroke="#4DBEEE" stroke-width="0.9"/>
<circle cx="571" cy="231.3" r="0.9" fill="#4DBEEE"/>
<text x="578.90" y="234.00" font-size="7.5" fill="#111" textLength="84.00" lengthAdjust="spacingAndGlyphs">7k19 &gt;&gt; 7k1n - eBDIMS2</text>
<line x1="565.2" y1="240.4" x2="576.7" y2="240.4" stroke="#A2142F" stroke-width="0.9"/>
<circle cx="571" cy="240.4" r="0.9" fill="#A2142F"/>
<text x="578.90" y="243.15" font-size="7.5" fill="#111" textLength="84.00" lengthAdjust="spacingAndGlyphs">7k1n &gt;&gt; 7k19 - eBDIMS2</text>
<line x1="565.2" y1="249.6" x2="576.7" y2="249.6" stroke="#D9A8F5" stroke-width="0.9"/>
<circle cx="571" cy="249.6" r="0.9" fill="#D9A8F5"/>
<text x="578.90" y="252.30" font-size="7.5" fill="#111" textLength="84.00" lengthAdjust="spacingAndGlyphs">7k0y &gt;&gt; 7k1n - eBDIMS2</text>
<line x1="565.2" y1="258.8" x2="576.7" y2="258.8" stroke="#FFD21F" stroke-width="0.9"/>
<circle cx="571" cy="258.8" r="0.9" fill="#FFD21F"/>
<text x="578.90" y="261.45" font-size="7.5" fill="#111" textLength="84.00" lengthAdjust="spacingAndGlyphs">7k1n &gt;&gt; 7k0y - eBDIMS2</text>
<circle cx="571" cy="267.9" r="1.1" fill="#0072BD"/>
<text x="578.90" y="270.60" font-size="7.5" fill="#111">7k19 &gt;&gt; 7k0y TMD r1</text>
<circle cx="571" cy="277.1" r="1.1" fill="#D95319"/>
<text x="578.90" y="279.75" font-size="7.5" fill="#111">7k19 &gt;&gt; 7k0y TMD r2</text>
<circle cx="571" cy="286.2" r="1.1" fill="#EDB120"/>
<text x="578.90" y="288.90" font-size="7.5" fill="#111">7k19 &gt;&gt; 7k0y TMD r3</text>
<line x1="250.9" y1="331.8" x2="554.6" y2="331.8" stroke="#d9d9d9" stroke-width="0.7"/>
<line x1="554.6" y1="331.8" x2="554.6" y2="422.5" stroke="#d0d0d0" stroke-width="0.7"/>
<line x1="250.9" y1="331.8" x2="250.9" y2="422.5" stroke="#c9c9c9" stroke-width="0.8"/>
<line x1="250.9" y1="422.5" x2="554.6" y2="422.5" stroke="#9a9a9a" stroke-width="0.8"/>
<line x1="251.1" y1="422.5" x2="251.1" y2="420.5" stroke="#aaa" stroke-width="0.5"/>
<line x1="251.1" y1="331.8" x2="251.1" y2="333.8" stroke="#ccc" stroke-width="0.5"/>
<text x="251.05" y="433.45" font-size="7.7" fill="#222" text-anchor="middle">-100</text>
<line x1="301.7" y1="422.5" x2="301.7" y2="420.5" stroke="#aaa" stroke-width="0.5"/>
<line x1="301.7" y1="331.8" x2="301.7" y2="333.8" stroke="#ccc" stroke-width="0.5"/>
<text x="301.70" y="433.45" font-size="7.7" fill="#222" text-anchor="middle">0</text>
<line x1="352.3" y1="422.5" x2="352.3" y2="420.5" stroke="#aaa" stroke-width="0.5"/>
<line x1="352.3" y1="331.8" x2="352.3" y2="333.8" stroke="#ccc" stroke-width="0.5"/>
<text x="352.35" y="433.45" font-size="7.7" fill="#222" text-anchor="middle">100</text>
<line x1="403.0" y1="422.5" x2="403.0" y2="420.5" stroke="#aaa" stroke-width="0.5"/>
<line x1="403.0" y1="331.8" x2="403.0" y2="333.8" stroke="#ccc" stroke-width="0.5"/>
<text x="403.00" y="433.45" font-size="7.7" fill="#222" text-anchor="middle">200</text>
<line x1="453.6" y1="422.5" x2="453.6" y2="420.5" stroke="#aaa" stroke-width="0.5"/>
<line x1="453.6" y1="331.8" x2="453.6" y2="333.8" stroke="#ccc" stroke-width="0.5"/>
<text x="453.65" y="433.45" font-size="7.7" fill="#222" text-anchor="middle">300</text>
<line x1="504.3" y1="422.5" x2="504.3" y2="420.5" stroke="#aaa" stroke-width="0.5"/>
<line x1="504.3" y1="331.8" x2="504.3" y2="333.8" stroke="#ccc" stroke-width="0.5"/>
<text x="504.30" y="433.45" font-size="7.7" fill="#222" text-anchor="middle">400</text>
<line x1="554.9" y1="422.5" x2="554.9" y2="420.5" stroke="#aaa" stroke-width="0.5"/>
<line x1="554.9" y1="331.8" x2="554.9" y2="333.8" stroke="#ccc" stroke-width="0.5"/>
<text x="554.95" y="433.45" font-size="7.7" fill="#222" text-anchor="middle">500</text>
<line x1="250.9" y1="422.5" x2="252.9" y2="422.5" stroke="#aaa" stroke-width="0.5"/>
<line x1="554.6" y1="422.5" x2="552.6" y2="422.5" stroke="#ccc" stroke-width="0.5"/>
<text x="248.00" y="425.25" font-size="7.7" fill="#222" text-anchor="end">-100</text>
<line x1="250.9" y1="399.8" x2="252.9" y2="399.8" stroke="#aaa" stroke-width="0.5"/>
<line x1="554.6" y1="399.8" x2="552.6" y2="399.8" stroke="#ccc" stroke-width="0.5"/>
<text x="248.00" y="402.58" font-size="7.7" fill="#222" text-anchor="end">-50</text>
<line x1="250.9" y1="377.1" x2="252.9" y2="377.1" stroke="#aaa" stroke-width="0.5"/>
<line x1="554.6" y1="377.1" x2="552.6" y2="377.1" stroke="#ccc" stroke-width="0.5"/>
<text x="248.00" y="379.90" font-size="7.7" fill="#222" text-anchor="end">0</text>
<line x1="250.9" y1="354.4" x2="252.9" y2="354.4" stroke="#aaa" stroke-width="0.5"/>
<line x1="554.6" y1="354.4" x2="552.6" y2="354.4" stroke="#ccc" stroke-width="0.5"/>
<text x="248.00" y="357.23" font-size="7.7" fill="#222" text-anchor="end">50</text>
<line x1="250.9" y1="331.8" x2="252.9" y2="331.8" stroke="#aaa" stroke-width="0.5"/>
<line x1="554.6" y1="331.8" x2="552.6" y2="331.8" stroke="#ccc" stroke-width="0.5"/>
<text x="248.00" y="334.55" font-size="7.7" fill="#222" text-anchor="end">100</text>
<text x="403.00" y="444.30" font-size="9.0" fill="#222" text-anchor="middle" textLength="56.50" lengthAdjust="spacingAndGlyphs">PC1 (52.95%)</text>
<text x="227.40" y="377.10" font-size="9.0" fill="#222" text-anchor="middle" textLength="56.80" lengthAdjust="spacingAndGlyphs" transform="rotate(-90 227.40 377.10)">PC2 (21.17%)</text>
<path fill="none" stroke="#D95319" stroke-width="2.60" stroke-linecap="square" d="M310.7 380.6h0M311.4 379.8h0M312.0 383.1h0M311.9 384.4h0M312.5 382.7h0M313.0 384.6h0M313.6 382.0h0M313.8 384.5h0M314.1 384.6h0M314.5 385.4h0M314.5 385.9h0M315.9 387.7h0M315.0 385.6h0M315.8 386.3h0M315.6 387.6h0M317.3 387.3h0M317.2 387.3h0M318.4 387.6h0M318.8 387.0h0M319.7 387.9h0M319.8 389.0h0M320.8 385.2h0M320.9 387.2h0M322.3 388.5h0M322.8 387.6h0M322.7 386.4h0M323.7 387.5h0M324.5 390.7h0M325.0 385.7h0M325.3 389.5h0M326.0 387.2h0M326.8 387.2h0M327.4 384.5h0M327.6 387.3h0M328.5 388.3h0M329.0 389.6h0M329.5 389.9h0M329.8 389.4h0M331.9 390.4h0M331.8 389.6h0M332.8 389.4h0M333.1 388.8h0M333.6 389.4h0M333.7 391.0h0M333.4 388.5h0M335.1 388.0h0M336.0 392.0h0M336.9 388.4h0M337.5 388.9h0M337.6 388.9h0M338.2 388.3h0M337.9 388.4h0M339.1 389.5h0M340.2 389.0h0M341.0 389.3h0M342.0 389.4h0M342.0 391.2h0M342.9 389.4h0M343.4 388.5h0M343.3 388.9h0M343.9 391.5h0M344.9 390.5h0M345.6 390.5h0M346.7 392.3h0M346.6 388.8h0M347.3 391.2h0M347.9 389.7h0M348.3 391.0h0M349.6 390.8h0M349.6 389.9h0M349.9 390.1h0M350.5 389.0h0M351.6 387.8h0M352.2 388.0h0M353.1 390.2h0M353.0 388.6h0M354.1 387.1h0M354.5 388.3h0M355.6 389.5h0M355.9 389.8h0M356.1 388.5h0M357.3 390.9h0M358.0 391.0h0M358.6 389.9h0M358.8 391.4h0M359.4 388.6h0M360.3 393.1h0M361.4 392.6h0M361.9 390.7h0M361.8 391.4h0M362.9 391.9h0M363.2 391.9h0M364.1 393.1h0M364.3 392.2h0M364.6 391.9h0M365.9 391.4h0M366.3 392.6h0M367.3 391.4h0M368.3 393.8h0M368.5 391.0h0M369.6 393.0h0M369.3 395.4h0M369.5 394.1h0M371.1 393.5h0M371.3 393.8h0M372.1 395.1h0M372.6 395.2h0M373.3 394.6h0M374.1 394.4h0M374.6 395.2h0M375.2 394.9h0M375.4 394.1h0M376.8 395.0h0M376.7 395.8h0M377.7 394.2h0M378.6 392.0h0M378.7 396.1h0M379.3 393.7h0M379.2 395.3h0M380.3 393.8h0M382.1 395.7h0M382.1 395.6h0M382.9 394.1h0M383.0 394.8h0M383.7 394.5h0M384.3 395.4h0M384.4 393.3h0M385.5 392.0h0M386.1 392.1h0M386.4 393.1h0M387.1 393.3h0M388.0 393.0h0M388.1 394.7h0M389.3 395.3h0M389.0 393.8h0M390.5 394.1h0M390.8 394.0h0M391.5 394.7h0M391.6 397.3h0M392.4 394.9h0M394.0 392.6h0M394.2 394.8h0M394.4 396.7h0M395.6 394.9h0M396.3 394.4h0M395.8 396.5h0M396.7 394.1h0M397.4 394.0h0M398.3 396.0h0M398.5 396.1h0M399.7 394.4h0M400.3 393.9h0M400.7 394.6h0M402.0 393.5h0M402.3 394.8h0M401.9 397.1h0M403.6 394.7h0M403.7 397.8h0M404.5 395.2h0M404.9 395.5h0M405.8 396.0h0M406.4 396.0h0M406.7 397.2h0M407.8 394.2h0M408.3 395.4h0M409.0 396.5h0M409.8 396.9h0M410.2 395.1h0M410.3 396.4h0M410.9 396.6h0M411.9 395.3h0M411.8 396.1h0M413.1 396.2h0M413.6 397.0h0M414.6 396.3h0M414.9 395.1h0M415.3 394.4h0M416.1 395.6h0M416.6 395.9h0M418.1 396.0h0M419.0 395.1h0M418.7 395.8h0M418.9 395.2h0M419.8 394.5h0M420.6 395.8h0M420.8 397.4h0M421.4 398.7h0M422.1 395.8h0M422.7 396.8h0M424.3 398.0h0M423.8 395.6h0M425.0 399.0h0M425.4 396.5h0M425.7 399.4h0M426.7 397.6h0M426.6 398.4h0M427.9 398.0h0M428.8 398.5h0M428.4 400.0h0M429.4 397.7h0M430.1 398.7h0M430.0 398.9h0M431.4 397.1h0M432.0 396.7h0M433.0 398.5h0M433.0 398.3h0M434.2 397.1h0M435.2 399.3h0M435.0 399.4h0M436.2 398.4h0M436.7 398.8h0M437.0 399.2h0M437.7 400.2h0M438.3 399.0h0M438.8 398.0h0M439.2 399.1h0M440.4 397.9h0M440.4 398.1h0M440.9 400.3h0M441.6 398.8h0M442.3 399.2h0M442.8 396.4h0M443.1 399.5h0M444.3 401.6h0M445.2 397.5h0M445.7 398.2h0M445.8 400.2h0M447.3 399.9h0M447.4 399.9h0M447.2 401.8h0M447.6 400.8h0M448.6 401.4h0M449.5 402.4h0M450.4 400.3h0M450.8 401.5h0M451.0 400.5h0M451.8 401.3h0M453.4 401.6h0M452.9 400.1h0M453.6 400.0h0M454.3 401.4h0M454.6 401.5h0M455.8 401.7h0M456.3 401.4h0M456.6 401.9h0M456.6 401.3h0M457.9 399.5h0M459.3 401.5h0M459.0 400.7h0M459.4 401.4h0M459.6 399.9h0M460.7 400.1h0M461.0 401.5h0M462.1 400.1h0M462.2 400.4h0M463.2 400.8h0M463.5 402.1h0M464.5 401.9h0M465.0 403.4h0M465.5 403.7h0M466.9 403.9h0M466.6 404.9h0M467.2 402.9h0M468.0 403.9h0M468.3 405.0h0M469.1 403.1h0M468.8 402.7h0M470.4 404.3h0M470.5 405.5h0M471.1 405.1h0M472.3 403.5h0M472.7 409.7h0M474.0 405.0h0M474.2 407.3h0M475.1 406.7h0M474.7 408.6h0M475.4 407.7h0M476.1 407.6h0M477.4 409.3h0M477.0 409.9h0M478.1 409.1h0M478.7 409.7h0M479.8 407.4h0M479.7 409.5h0M480.7 409.9h0M481.6 407.9h0M481.5 408.2h0M482.1 410.3h0M483.0 408.8h0M483.3 408.3h0M483.8 407.6h0M485.2 408.3h0M485.7 409.5h0M485.9 408.7h0M486.8 409.5h0M488.3 409.0h0M487.9 410.8h0M488.8 408.8h0M488.7 407.8h0M490.0 411.6h0M489.8 408.7h0M490.7 407.2h0M491.9 406.1h0M492.0 405.8h0M492.3 409.2h0M492.2 405.9h0M492.8 405.6h0M493.8 405.6h0M493.9 404.3h0M494.7 407.5h0M495.3 404.1h0"/>
<path fill="none" stroke="#0072BD" stroke-width="3.00" stroke-linecap="square" d="M309.5 377.7h0M310.8 378.3h0M311.6 379.9h0M311.6 378.2h0M311.3 377.9h0M313.1 378.9h0M313.8 378.6h0M315.0 377.4h0M314.5 380.0h0M315.3 381.0h0M316.7 379.4h0M316.8 379.7h0M317.5 377.1h0M317.7 378.8h0M318.9 378.1h0M319.5 378.2h0M320.8 376.8h0M320.4 380.2h0M320.6 378.8h0M321.5 377.7h0M321.7 380.6h0M323.1 378.9h0M323.7 377.6h0M324.3 376.6h0M324.5 378.7h0M325.9 380.6h0M325.6 378.8h0M326.1 379.5h0M327.0 378.2h0M327.4 377.4h0M328.7 378.9h0M327.9 378.2h0M329.7 378.4h0M330.2 378.3h0M330.8 378.9h0M332.0 380.0h0M332.1 379.4h0M332.3 379.5h0M333.1 380.4h0M333.5 379.6h0M333.8 378.1h0M335.1 378.0h0M335.7 380.3h0M335.8 377.7h0M337.2 380.4h0M337.8 379.5h0M338.0 379.8h0M339.5 378.4h0M339.9 376.3h0M339.8 379.2h0M340.3 380.6h0M340.9 379.4h0M341.5 379.8h0M343.0 378.2h0M342.8 380.0h0M343.7 376.8h0M344.8 380.0h0M345.4 379.0h0M345.0 379.3h0M347.0 378.9h0M346.8 378.8h0M346.9 377.4h0M348.4 378.6h0M348.9 379.6h0M349.0 377.9h0M349.5 379.0h0M350.1 379.3h0M351.4 376.6h0M352.5 380.3h0M351.8 378.6h0M353.0 379.6h0M353.4 376.1h0M353.9 380.5h0M354.8 379.3h0M355.8 380.6h0M355.9 379.4h0M356.9 380.4h0M356.5 379.9h0M357.6 380.7h0M357.7 378.2h0M357.8 381.4h0M358.6 380.1h0M359.5 382.0h0M359.8 382.5h0M361.4 381.4h0M361.4 380.4h0M361.5 382.4h0M362.7 382.3h0M362.9 382.4h0M364.2 381.9h0M364.4 384.0h0M365.4 382.9h0M366.1 385.1h0M366.8 384.8h0M366.8 385.2h0M368.0 385.1h0M367.8 382.8h0M368.8 383.3h0M369.6 383.0h0M369.7 383.4h0M371.0 381.9h0M370.9 381.5h0M371.0 382.3h0M372.0 382.0h0M372.9 381.5h0M373.3 383.6h0M373.4 384.4h0M374.5 385.0h0M375.1 384.7h0M375.6 385.4h0M376.6 385.7h0M377.0 382.5h0M377.8 384.9h0M377.6 383.9h0M379.3 383.8h0M379.8 386.2h0M380.1 383.4h0M379.9 385.2h0M381.6 385.1h0M381.9 384.7h0M382.8 386.8h0M383.0 384.5h0M384.3 385.6h0M383.8 387.4h0M384.9 386.1h0M384.9 385.4h0M385.9 388.1h0M387.0 387.1h0M387.7 387.3h0M388.4 388.1h0M389.0 386.7h0M389.1 385.9h0M389.5 388.3h0M389.9 386.6h0M390.3 387.7h0M391.8 387.8h0M392.6 386.6h0M393.4 387.0h0M393.8 388.1h0M393.7 387.3h0M393.9 387.7h0M395.2 389.6h0M396.1 385.7h0M396.3 389.4h0M396.7 388.7h0M396.7 387.3h0M397.9 390.1h0M399.0 391.4h0M400.0 387.4h0M400.2 388.4h0M401.0 388.8h0M400.5 388.4h0M401.2 389.3h0M402.1 389.6h0M402.9 390.2h0M403.1 390.2h0M404.1 391.9h0M404.3 391.4h0M405.1 391.3h0M406.2 392.5h0M406.7 391.9h0M406.8 392.4h0M408.2 393.7h0M408.3 392.1h0M408.0 392.0h0M409.9 390.8h0M409.3 390.0h0M410.0 391.4h0M411.0 388.2h0M412.0 391.4h0M411.8 391.1h0M412.7 391.0h0M413.6 391.2h0M413.7 392.2h0M414.6 390.9h0M415.6 392.9h0M416.1 391.4h0M416.4 392.9h0M417.6 393.8h0M418.0 395.6h0M418.3 392.2h0M418.8 393.6h0M419.4 394.2h0M420.9 392.7h0M421.1 394.1h0M421.0 393.3h0M422.4 390.6h0M423.2 391.7h0M423.3 394.2h0M424.2 392.1h0M424.3 391.6h0M425.3 391.7h0M425.4 394.6h0M427.1 392.5h0M427.0 393.2h0M427.8 395.5h0M428.1 395.2h0M428.4 392.4h0M429.7 393.4h0M430.2 393.5h0M429.4 394.0h0M431.2 392.2h0M431.5 396.2h0M432.2 394.5h0M433.0 393.8h0M433.7 396.2h0M434.5 395.5h0M434.8 391.9h0M435.6 392.7h0M436.1 395.4h0M436.1 392.0h0M437.0 391.7h0M437.7 392.8h0M438.8 395.1h0M439.3 392.0h0M439.2 393.0h0M440.6 393.8h0M440.5 393.7h0M442.2 394.3h0M442.6 393.5h0M442.7 394.4h0M443.5 391.3h0M444.4 392.2h0M445.5 392.9h0M445.5 392.8h0M445.8 390.3h0M446.4 395.8h0M447.8 393.1h0M448.0 395.9h0M448.3 394.4h0M448.5 394.1h0M449.3 394.3h0M450.0 393.7h0M451.3 392.7h0M450.5 394.1h0M452.2 395.3h0M452.2 395.7h0M453.9 396.5h0M453.8 393.3h0M453.9 393.8h0M454.6 395.9h0M454.8 394.2h0M456.5 396.5h0M456.1 397.6h0M457.6 396.8h0M457.6 395.6h0M458.9 395.1h0M458.5 394.8h0M459.3 395.2h0M459.6 393.3h0M460.6 394.9h0M461.8 395.8h0M461.3 395.6h0M462.6 395.9h0M463.4 396.1h0M463.4 394.3h0M464.4 396.4h0M465.6 396.1h0M466.0 396.3h0M466.1 396.6h0M466.0 394.6h0M468.4 393.7h0M468.6 393.5h0M469.5 394.3h0M469.3 394.5h0M470.0 396.4h0M470.5 394.4h0M471.6 395.2h0M471.3 395.8h0M472.3 392.7h0M472.5 394.8h0M473.6 394.5h0M474.4 391.9h0M474.4 393.2h0M474.9 392.1h0M476.0 393.6h0M476.8 390.7h0M476.3 392.6h0M477.4 392.6h0M479.0 393.8h0M479.3 393.8h0M479.3 395.7h0M480.0 394.0h0M480.6 392.7h0M481.1 393.8h0M482.0 397.2h0M482.1 391.7h0M483.9 393.9h0M483.9 393.3h0M484.9 393.0h0M484.8 393.9h0M485.6 396.6h0M486.4 391.5h0M487.2 394.0h0M487.8 394.7h0M488.6 392.5h0M489.2 393.0h0M489.3 391.8h0M490.3 391.0h0M491.2 394.6h0M492.1 392.7h0M492.0 392.9h0"/>
<path fill="none" stroke="#EDB120" stroke-width="3.60" stroke-linecap="square" d="M310.1 380.4h0M309.9 379.6h0M310.9 380.8h0M311.8 378.1h0M313.0 380.5h0M313.4 380.4h0M313.2 380.8h0M314.6 378.7h0M314.8 380.5h0M315.9 384.0h0M316.6 381.9h0M317.0 381.7h0M317.8 382.1h0M318.3 381.0h0M319.4 382.0h0M318.7 381.8h0M320.0 382.5h0M320.5 383.2h0M320.7 383.2h0M321.7 381.3h0M322.2 381.4h0M322.9 381.1h0M323.5 381.8h0M323.9 381.2h0M324.6 384.3h0M325.3 380.6h0M325.4 382.5h0M326.6 381.1h0M327.8 382.1h0M327.7 381.5h0M328.2 382.7h0M329.5 382.5h0M329.1 381.2h0M330.0 383.7h0M331.5 382.1h0M330.9 381.3h0M331.5 380.7h0M332.8 380.9h0M333.0 382.5h0M334.8 382.3h0M334.5 383.4h0M335.1 383.7h0M334.9 383.2h0M336.1 383.9h0M337.1 383.9h0M337.7 383.5h0M338.1 384.7h0M338.6 384.6h0M340.2 382.9h0M339.8 382.6h0M340.4 384.5h0M341.3 383.6h0M342.0 385.0h0M342.6 384.4h0M342.5 383.8h0M343.8 385.4h0M344.1 386.2h0M345.6 385.3h0M345.3 386.5h0M345.9 386.6h0M347.1 387.1h0M348.1 389.1h0M347.6 384.3h0M348.7 387.9h0M349.3 386.0h0M349.7 387.4h0M350.6 386.6h0M351.3 386.0h0M352.0 389.6h0M352.7 387.8h0M352.4 387.8h0M353.7 390.1h0M354.2 389.4h0M354.8 388.0h0M355.1 390.2h0M356.1 389.9h0M356.1 388.3h0M356.0 392.2h0M357.1 389.3h0M356.8 391.3h0M358.5 390.2h0M359.2 389.7h0M359.9 390.5h0M361.2 389.5h0M361.8 392.1h0M361.4 390.2h0M362.2 390.1h0M362.1 391.9h0M363.7 390.6h0M363.9 389.5h0M364.1 389.2h0M365.7 389.6h0M366.4 391.0h0M366.4 391.0h0M366.8 390.4h0M367.4 392.0h0M368.3 390.8h0M368.9 391.3h0M369.4 390.2h0M370.1 391.1h0M371.2 390.9h0M371.2 391.3h0M371.8 393.6h0M373.0 391.8h0M373.1 391.4h0M373.7 390.5h0M375.0 393.7h0M375.2 391.0h0M375.9 390.9h0M376.9 392.5h0M376.7 391.9h0M378.1 391.1h0M378.2 392.2h0M378.7 392.8h0M378.8 391.9h0M379.6 393.8h0M380.2 391.6h0M380.8 390.5h0M381.2 389.3h0M382.0 391.6h0M383.4 390.9h0M383.1 393.4h0M384.1 390.4h0M384.6 393.0h0M385.7 394.3h0M386.2 392.9h0M386.7 391.5h0M387.4 393.6h0M387.3 392.0h0M388.8 392.0h0M389.2 392.8h0M389.5 392.9h0M390.1 396.8h0M390.3 393.7h0M391.4 392.4h0M392.3 392.7h0M393.0 394.9h0M393.6 394.5h0M394.4 394.2h0M394.7 395.2h0M396.2 395.3h0M396.2 392.5h0M395.8 394.1h0M396.4 394.9h0M397.4 395.0h0M397.8 396.6h0M398.4 394.2h0M399.6 396.1h0M400.2 395.9h0M400.7 395.8h0M401.2 393.8h0M401.9 397.5h0M401.6 398.5h0M402.3 396.0h0M403.5 396.3h0M403.5 398.9h0M404.8 395.0h0M405.7 397.4h0M405.9 396.4h0M406.7 395.4h0M407.3 396.7h0M407.2 398.5h0M408.7 400.5h0M408.4 399.3h0M408.4 397.8h0M410.3 398.8h0M410.7 398.2h0M412.4 397.5h0M412.6 397.1h0M412.4 397.4h0M413.0 396.3h0M413.7 395.7h0M414.0 397.0h0M415.2 394.7h0M415.3 397.9h0M415.7 398.7h0M416.9 397.0h0M417.5 400.0h0M417.5 398.1h0M418.1 397.8h0M419.0 397.6h0M419.8 396.0h0M419.6 395.0h0M420.5 397.6h0M421.5 397.2h0M421.9 398.4h0M422.6 397.8h0M423.0 398.5h0M423.4 397.8h0M423.8 400.5h0M425.0 399.2h0M425.9 398.9h0M425.7 399.2h0M427.6 398.5h0M428.5 395.8h0M428.7 398.3h0M429.5 396.1h0M428.9 396.1h0M430.9 395.7h0M430.5 398.7h0M430.9 395.4h0M431.4 396.6h0M432.8 398.6h0M432.9 398.2h0M433.4 396.1h0M434.6 397.3h0M434.9 398.0h0M435.8 398.0h0M436.0 397.7h0M436.1 397.7h0M437.4 400.3h0M438.6 398.9h0M438.7 399.5h0M439.4 397.6h0M439.7 397.0h0M440.3 397.7h0M440.9 397.2h0M441.4 399.0h0M442.4 397.3h0M442.9 399.7h0M443.8 399.3h0M444.0 396.7h0M444.7 397.3h0M445.1 399.0h0M445.4 395.5h0M446.9 399.8h0M447.3 398.4h0M447.0 397.3h0M448.8 397.8h0M449.2 398.1h0M449.9 397.9h0M449.9 397.2h0M450.4 394.8h0M451.1 398.3h0M451.9 395.9h0M452.8 396.6h0M453.2 397.1h0M453.7 397.2h0M453.9 395.2h0M454.8 398.0h0M455.9 396.9h0M455.6 398.7h0M457.4 397.2h0M457.2 397.1h0M458.5 399.4h0M458.9 396.5h0M459.3 398.5h0M459.0 397.4h0M460.5 398.3h0M460.7 397.6h0M462.0 398.6h0M462.3 398.8h0M463.0 399.1h0M463.3 398.9h0M463.3 400.4h0M464.3 397.5h0M465.1 401.4h0M465.5 399.1h0M466.6 399.2h0M467.4 398.0h0M467.2 397.1h0M468.3 398.3h0M469.1 395.7h0M470.0 397.6h0M469.8 396.2h0M470.3 397.7h0M471.0 398.1h0M471.7 397.2h0M472.7 397.8h0M472.4 397.5h0M474.0 397.6h0M475.1 397.5h0M475.1 398.7h0M476.2 398.9h0M475.9 397.5h0M477.4 397.6h0M477.7 398.4h0M478.1 395.4h0M478.4 395.4h0M479.6 397.1h0M478.9 397.2h0M480.4 397.3h0M482.2 397.1h0M481.1 397.6h0M481.8 396.7h0M482.8 396.2h0M483.2 397.2h0M484.3 397.0h0M484.2 395.9h0M485.1 396.1h0M485.9 398.9h0M486.8 397.6h0M487.2 396.1h0M487.7 395.9h0M489.0 398.3h0M489.4 397.6h0M489.5 400.4h0M490.4 398.8h0M490.6 399.2h0M491.5 398.1h0M492.0 397.0h0"/>
<path d="M303.2,378.0 L359.9,380.0 L410.1,381.4 L453.6,383.9 L494.7,388.4 L503.3,390.7" fill="none" stroke="#77AC30" stroke-width="0.9"/>
<path fill="none" stroke="#77AC30" stroke-width="2.30" stroke-linecap="round" d="M303.2 378.0h0M306.8 378.1h0M310.3 378.3h0M313.9 378.4h0M317.4 378.5h0M320.9 378.6h0M324.5 378.8h0M328.0 378.9h0M331.6 379.0h0M335.1 379.2h0M338.7 379.3h0M342.2 379.4h0M345.8 379.5h0M349.3 379.7h0M352.9 379.8h0M356.4 379.9h0M359.9 380.0h0M363.5 380.1h0M367.1 380.2h0M370.7 380.3h0M374.3 380.4h0M377.9 380.5h0M381.4 380.6h0M385.0 380.7h0M388.6 380.8h0M392.2 380.9h0M395.8 381.0h0M399.3 381.1h0M402.9 381.2h0M406.5 381.3h0M410.1 381.4h0M413.7 381.6h0M417.4 381.8h0M421.0 382.0h0M424.6 382.2h0M428.2 382.4h0M431.9 382.7h0M435.5 382.9h0M439.1 383.1h0M442.8 383.3h0M446.4 383.5h0M450.0 383.7h0M453.6 383.9h0M457.1 384.3h0M460.5 384.7h0M463.9 385.0h0M467.3 385.4h0M470.7 385.8h0M474.2 386.2h0M477.6 386.5h0M481.0 386.9h0M484.4 387.3h0M487.8 387.7h0M491.3 388.1h0M494.7 388.4h0M499.0 389.6h0M503.3 390.7h0"/>
<path d="M357.4,384.6 L401.0,387.5 L453.6,389.6 L494.7,390.7 L502.3,391.6" fill="none" stroke="#7E2F8E" stroke-width="0.9"/>
<path fill="none" stroke="#7E2F8E" stroke-width="2.30" stroke-linecap="round" d="M357.4 384.6h0M361.0 384.8h0M364.7 385.1h0M368.3 385.3h0M371.9 385.6h0M375.6 385.8h0M379.2 386.1h0M382.8 386.3h0M386.5 386.5h0M390.1 386.8h0M393.7 387.0h0M397.3 387.3h0M401.0 387.5h0M404.5 387.7h0M408.0 387.8h0M411.5 387.9h0M415.0 388.1h0M418.5 388.2h0M422.0 388.3h0M425.6 388.5h0M429.1 388.6h0M432.6 388.8h0M436.1 388.9h0M439.6 389.0h0M443.1 389.2h0M446.6 389.3h0M450.1 389.4h0M453.6 389.6h0M457.1 389.7h0M460.5 389.8h0M463.9 389.9h0M467.3 389.9h0M470.7 390.0h0M474.2 390.1h0M477.6 390.2h0M481.0 390.3h0M484.4 390.4h0M487.8 390.5h0M491.3 390.6h0M494.7 390.7h0M498.5 391.2h0M502.3 391.6h0"/>
<path d="M303.2,377.1 L359.9,370.8 L422.8,363.5" fill="none" stroke="#4DBEEE" stroke-width="0.9"/>
<path fill="none" stroke="#4DBEEE" stroke-width="2.30" stroke-linecap="round" d="M303.2 377.1h0M306.8 376.7h0M310.3 376.3h0M313.9 375.9h0M317.4 375.5h0M320.9 375.1h0M324.5 374.7h0M328.0 374.3h0M331.6 373.9h0M335.1 373.5h0M338.7 373.1h0M342.2 372.7h0M345.8 372.3h0M349.3 371.9h0M352.9 371.5h0M356.4 371.1h0M359.9 370.8h0M363.4 370.3h0M366.9 369.9h0M370.4 369.5h0M373.9 369.1h0M377.4 368.7h0M380.9 368.3h0M384.4 367.9h0M387.9 367.5h0M391.4 367.1h0M394.8 366.7h0M398.3 366.3h0M401.8 365.9h0M405.3 365.5h0M408.8 365.1h0M412.3 364.7h0M415.8 364.3h0M419.3 363.9h0M422.8 363.5h0"/>
<path d="M303.2,377.6 L359.9,371.4 L422.8,364.2" fill="none" stroke="#A2142F" stroke-width="0.9"/>
<path fill="none" stroke="#A2142F" stroke-width="2.30" stroke-linecap="round" d="M303.2 377.6h0M306.8 377.2h0M310.3 376.8h0M313.9 376.4h0M317.4 376.0h0M320.9 375.6h0M324.5 375.3h0M328.0 374.9h0M331.6 374.5h0M335.1 374.1h0M338.7 373.7h0M342.2 373.3h0M345.8 373.0h0M349.3 372.6h0M352.9 372.2h0M356.4 371.8h0M359.9 371.4h0M363.4 371.0h0M366.9 370.6h0M370.4 370.2h0M373.9 369.8h0M377.4 369.4h0M380.9 369.0h0M384.4 368.6h0M387.9 368.2h0M391.4 367.8h0M394.8 367.4h0M398.3 367.0h0M401.8 366.6h0M405.3 366.2h0M408.8 365.8h0M412.3 365.4h0M415.8 365.0h0M419.3 364.6h0M422.8 364.2h0"/>
<path d="M503.3,391.2 L423.3,362.8" fill="none" stroke="#D9A8F5" stroke-width="1.0"/>
<path fill="none" stroke="#D9A8F5" stroke-width="2.20" stroke-linecap="round" d="M503.3 391.2h0M500.0 390.0h0M496.6 388.8h0M493.3 387.6h0M489.9 386.4h0M486.6 385.3h0M483.3 384.1h0M479.9 382.9h0M476.6 381.7h0M473.3 380.5h0M469.9 379.3h0M466.6 378.2h0M463.3 377.0h0M459.9 375.8h0M456.6 374.6h0M453.3 373.4h0M449.9 372.3h0M446.6 371.1h0M443.3 369.9h0M439.9 368.7h0M436.6 367.5h0M433.3 366.4h0M429.9 365.2h0M426.6 364.0h0M423.3 362.8h0"/>
<path d="M423.3,364.4 L499.2,391.2" fill="none" stroke="#FFD21F" stroke-width="1.2"/>
<path fill="none" stroke="#FFD21F" stroke-width="2.60" stroke-linecap="round" d="M423.3 364.4h0M426.6 365.6h0M429.9 366.7h0M433.2 367.9h0M436.5 369.1h0M439.8 370.2h0M443.1 371.4h0M446.4 372.5h0M449.7 373.7h0M453.0 374.9h0M456.3 376.0h0M459.6 377.2h0M462.9 378.4h0M466.2 379.5h0M469.5 380.7h0M472.8 381.9h0M476.1 383.0h0M479.4 384.2h0M482.7 385.3h0M486.0 386.5h0M489.3 387.7h0M492.6 388.8h0M495.9 390.0h0M499.2 391.2h0"/>
<circle cx="300.9" cy="378.6" r="7.6" fill="#0a2cff" stroke="#000" stroke-width="0.9"/>
<circle cx="501.6" cy="393.2" r="7.6" fill="#ff0000" stroke="#000" stroke-width="0.9"/>
<circle cx="311.9" cy="375.9" r="2.0" fill="#000"/>
<circle cx="312.4" cy="381.5" r="2.0" fill="#000"/>
<circle cx="310.3" cy="380.3" r="2.0" fill="#000"/>
<circle cx="282.5" cy="391.5" r="2.0" fill="#000"/>
<circle cx="353.0" cy="391.3" r="2.0" fill="#000"/>
<circle cx="387.1" cy="362.4" r="2.0" fill="#000"/>
<circle cx="393.4" cy="360.3" r="2.0" fill="#000"/>
<circle cx="402.7" cy="363.2" r="2.0" fill="#000"/>
<circle cx="406.6" cy="363.6" r="2.0" fill="#000"/>
<circle cx="410.9" cy="364.1" r="2.0" fill="#000"/>
<circle cx="422.9" cy="364.3" r="2.0" fill="#000"/>
<circle cx="423.1" cy="366.9" r="2.0" fill="#000"/>
<circle cx="445.2" cy="379.8" r="2.0" fill="#000"/>
<circle cx="456.2" cy="384.8" r="2.0" fill="#000"/>
<circle cx="508.6" cy="400.7" r="2.0" fill="#000"/>
<circle cx="512.1" cy="402.8" r="2.0" fill="#000"/>
<circle cx="513.9" cy="408.0" r="2.0" fill="#000"/>
<text x="296.80" y="359.60" font-size="7.9" fill="#111" text-anchor="middle" textLength="17.90" lengthAdjust="spacingAndGlyphs">7k19</text>
<text x="423.00" y="355.30" font-size="7.9" fill="#111" text-anchor="middle" textLength="17.90" lengthAdjust="spacingAndGlyphs">7k1n</text>
<text x="502.20" y="379.00" font-size="7.9" fill="#111" text-anchor="middle" textLength="16.60" lengthAdjust="spacingAndGlyphs">7k0y</text>
<rect x="563.5" y="336.0" width="102.5" height="83" fill="#fff" stroke="#d6d6d6" stroke-width="0.6"/>
<line x1="565.2" y1="341.0" x2="576.7" y2="341.0" stroke="#77AC30" stroke-width="0.9"/>
<circle cx="571" cy="341.0" r="0.9" fill="#77AC30"/>
<text x="578.90" y="343.70" font-size="7.5" fill="#111" textLength="84.00" lengthAdjust="spacingAndGlyphs">7k19 &gt;&gt; 7k0y - eBDIMS2</text>
<line x1="565.2" y1="350.1" x2="576.7" y2="350.1" stroke="#7E2F8E" stroke-width="0.9"/>
<circle cx="571" cy="350.1" r="0.9" fill="#7E2F8E"/>
<text x="578.90" y="352.85" font-size="7.5" fill="#111" textLength="84.00" lengthAdjust="spacingAndGlyphs">7k0y &gt;&gt; 7k19 - eBDIMS2</text>
<line x1="565.2" y1="359.3" x2="576.7" y2="359.3" stroke="#4DBEEE" stroke-width="0.9"/>
<circle cx="571" cy="359.3" r="0.9" fill="#4DBEEE"/>
<text x="578.90" y="362.00" font-size="7.5" fill="#111" textLength="84.00" lengthAdjust="spacingAndGlyphs">7k19 &gt;&gt; 7k1n - eBDIMS2</text>
<line x1="565.2" y1="368.4" x2="576.7" y2="368.4" stroke="#A2142F" stroke-width="0.9"/>
<circle cx="571" cy="368.4" r="0.9" fill="#A2142F"/>
<text x="578.90" y="371.15" font-size="7.5" fill="#111" textLength="84.00" lengthAdjust="spacingAndGlyphs">7k1n &gt;&gt; 7k19 - eBDIMS2</text>
<line x1="565.2" y1="377.6" x2="576.7" y2="377.6" stroke="#D9A8F5" stroke-width="0.9"/>
<circle cx="571" cy="377.6" r="0.9" fill="#D9A8F5"/>
<text x="578.90" y="380.30" font-size="7.5" fill="#111" textLength="84.00" lengthAdjust="spacingAndGlyphs">7k0y &gt;&gt; 7k1n - eBDIMS2</text>
<line x1="565.2" y1="386.8" x2="576.7" y2="386.8" stroke="#FFD21F" stroke-width="0.9"/>
<circle cx="571" cy="386.8" r="0.9" fill="#FFD21F"/>
<text x="578.90" y="389.45" font-size="7.5" fill="#111" textLength="84.00" lengthAdjust="spacingAndGlyphs">7k1n &gt;&gt; 7k0y - eBDIMS2</text>
<circle cx="571" cy="395.9" r="1.1" fill="#0072BD"/>
<text x="578.90" y="398.60" font-size="7.5" fill="#111">7k0y &gt;&gt; 7k19 TMD r1</text>
<circle cx="571" cy="405.1" r="1.1" fill="#D95319"/>
<text x="578.90" y="407.75" font-size="7.5" fill="#111">7k0y &gt;&gt; 7k19 TMD r2</text>
<circle cx="571" cy="414.2" r="1.1" fill="#EDB120"/>
<text x="578.90" y="416.90" font-size="7.5" fill="#111">7k0y &gt;&gt; 7k19 TMD r3</text>
</svg>
</body></html>
